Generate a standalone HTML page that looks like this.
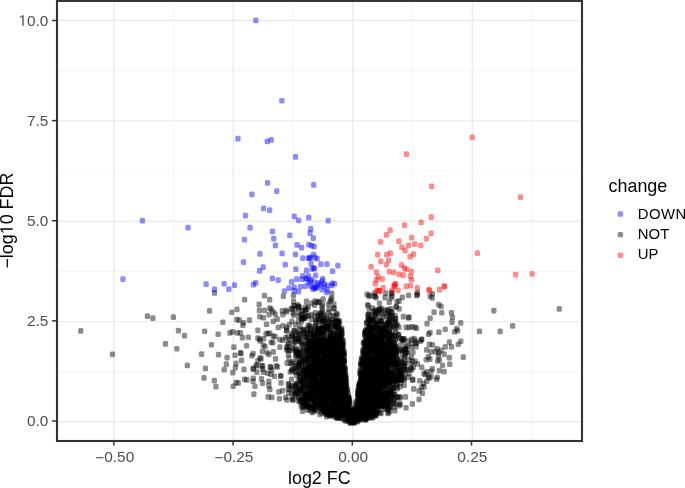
<!DOCTYPE html>
<html><head><meta charset="utf-8"><style>
html,body{margin:0;padding:0;background:#fff;overflow:hidden}
svg{display:block;font-family:"Liberation Sans",sans-serif}

</style></head><body>
<svg width="685" height="488" viewBox="0 0 685 488" font-family="Liberation Sans, sans-serif">
<rect width="685" height="488" fill="#fff"/>
<line x1="173.60" y1="0.9" x2="173.60" y2="441.0" stroke="#ebebeb" stroke-width="0.55"/>
<line x1="293.10" y1="0.9" x2="293.10" y2="441.0" stroke="#ebebeb" stroke-width="0.55"/>
<line x1="412.60" y1="0.9" x2="412.60" y2="441.0" stroke="#ebebeb" stroke-width="0.55"/>
<line x1="532.10" y1="0.9" x2="532.10" y2="441.0" stroke="#ebebeb" stroke-width="0.55"/>
<line x1="57.0" y1="371.85" x2="582.0" y2="371.85" stroke="#ebebeb" stroke-width="0.55"/>
<line x1="57.0" y1="271.45" x2="582.0" y2="271.45" stroke="#ebebeb" stroke-width="0.55"/>
<line x1="57.0" y1="171.05" x2="582.0" y2="171.05" stroke="#ebebeb" stroke-width="0.55"/>
<line x1="57.0" y1="70.65" x2="582.0" y2="70.65" stroke="#ebebeb" stroke-width="0.55"/>
<line x1="113.85" y1="0.9" x2="113.85" y2="441.0" stroke="#ebebeb" stroke-width="1.4"/>
<line x1="233.35" y1="0.9" x2="233.35" y2="441.0" stroke="#ebebeb" stroke-width="1.4"/>
<line x1="352.85" y1="0.9" x2="352.85" y2="441.0" stroke="#ebebeb" stroke-width="1.4"/>
<line x1="472.35" y1="0.9" x2="472.35" y2="441.0" stroke="#ebebeb" stroke-width="1.4"/>
<line x1="57.0" y1="422.05" x2="582.0" y2="422.05" stroke="#ebebeb" stroke-width="1.4"/>
<line x1="57.0" y1="321.65" x2="582.0" y2="321.65" stroke="#ebebeb" stroke-width="1.4"/>
<line x1="57.0" y1="221.25" x2="582.0" y2="221.25" stroke="#ebebeb" stroke-width="1.4"/>
<line x1="57.0" y1="120.85" x2="582.0" y2="120.85" stroke="#ebebeb" stroke-width="1.4"/>
<line x1="57.0" y1="20.45" x2="582.0" y2="20.45" stroke="#ebebeb" stroke-width="1.4"/>
<g>
<g fill="#000" fill-opacity="0.45"><rect x="78.1" y="328.1" width="5.3" height="5.7" rx="1.5"/><rect x="109.8" y="351.5" width="5.3" height="5.7" rx="1.5"/><rect x="144.8" y="313.3" width="5.3" height="5.7" rx="1.5"/><rect x="150.2" y="315.3" width="5.3" height="5.7" rx="1.5"/><rect x="170.7" y="314.2" width="5.3" height="5.7" rx="1.5"/><rect x="206.9" y="308.1" width="5.3" height="5.7" rx="1.5"/><rect x="211.8" y="290.1" width="5.3" height="5.7" rx="1.5"/><rect x="220.2" y="319.4" width="5.3" height="5.7" rx="1.5"/><rect x="175.8" y="327.8" width="5.3" height="5.7" rx="1.5"/><rect x="181.8" y="332.8" width="5.3" height="5.7" rx="1.5"/><rect x="202.0" y="328.4" width="5.3" height="5.7" rx="1.5"/><rect x="215.5" y="331.4" width="5.3" height="5.7" rx="1.5"/><rect x="162.8" y="341.0" width="5.3" height="5.7" rx="1.5"/><rect x="174.2" y="345.9" width="5.3" height="5.7" rx="1.5"/><rect x="208.8" y="341.9" width="5.3" height="5.7" rx="1.5"/><rect x="198.9" y="351.3" width="5.3" height="5.7" rx="1.5"/><rect x="215.9" y="351.8" width="5.3" height="5.7" rx="1.5"/><rect x="227.2" y="330.1" width="5.3" height="5.7" rx="1.5"/><rect x="231.2" y="344.3" width="5.3" height="5.7" rx="1.5"/><rect x="224.4" y="354.8" width="5.3" height="5.7" rx="1.5"/><rect x="232.4" y="352.4" width="5.3" height="5.7" rx="1.5"/><rect x="237.8" y="350.0" width="5.3" height="5.7" rx="1.5"/><rect x="238.3" y="350.6" width="5.3" height="5.7" rx="1.5"/><rect x="184.7" y="362.5" width="5.3" height="5.7" rx="1.5"/><rect x="202.8" y="365.5" width="5.3" height="5.7" rx="1.5"/><rect x="223.7" y="361.2" width="5.3" height="5.7" rx="1.5"/><rect x="233.4" y="360.5" width="5.3" height="5.7" rx="1.5"/><rect x="238.9" y="357.5" width="5.3" height="5.7" rx="1.5"/><rect x="221.5" y="366.8" width="5.3" height="5.7" rx="1.5"/><rect x="232.8" y="364.8" width="5.3" height="5.7" rx="1.5"/><rect x="241.3" y="366.5" width="5.3" height="5.7" rx="1.5"/><rect x="230.2" y="369.8" width="5.3" height="5.7" rx="1.5"/><rect x="201.4" y="375.1" width="5.3" height="5.7" rx="1.5"/><rect x="211.7" y="377.8" width="5.3" height="5.7" rx="1.5"/><rect x="213.3" y="383.8" width="5.3" height="5.7" rx="1.5"/><rect x="230.5" y="383.4" width="5.3" height="5.7" rx="1.5"/><rect x="233.4" y="379.8" width="5.3" height="5.7" rx="1.5"/><rect x="235.7" y="380.1" width="5.3" height="5.7" rx="1.5"/><rect x="242.0" y="376.5" width="5.3" height="5.7" rx="1.5"/><rect x="244.2" y="377.1" width="5.3" height="5.7" rx="1.5"/><rect x="250.4" y="378.4" width="5.3" height="5.7" rx="1.5"/><rect x="252.3" y="383.4" width="5.3" height="5.7" rx="1.5"/><rect x="251.2" y="391.2" width="5.3" height="5.7" rx="1.5"/><rect x="259.9" y="380.2" width="5.3" height="5.7" rx="1.5"/><rect x="266.2" y="378.4" width="5.3" height="5.7" rx="1.5"/><rect x="266.2" y="382.8" width="5.3" height="5.7" rx="1.5"/><rect x="267.2" y="386.5" width="5.3" height="5.7" rx="1.5"/><rect x="265.5" y="394.0" width="5.3" height="5.7" rx="1.5"/><rect x="269.2" y="394.6" width="5.3" height="5.7" rx="1.5"/><rect x="276.8" y="395.9" width="5.3" height="5.7" rx="1.5"/><rect x="276.2" y="389.0" width="5.3" height="5.7" rx="1.5"/><rect x="279.9" y="387.8" width="5.3" height="5.7" rx="1.5"/><rect x="283.0" y="394.6" width="5.3" height="5.7" rx="1.5"/><rect x="289.9" y="397.1" width="5.3" height="5.7" rx="1.5"/><rect x="295.5" y="397.8" width="5.3" height="5.7" rx="1.5"/><rect x="242.0" y="296.8" width="5.3" height="5.7" rx="1.5"/><rect x="261.8" y="292.8" width="5.3" height="5.7" rx="1.5"/><rect x="267.0" y="296.8" width="5.3" height="5.7" rx="1.5"/><rect x="256.5" y="301.5" width="5.3" height="5.7" rx="1.5"/><rect x="267.2" y="305.2" width="5.3" height="5.7" rx="1.5"/><rect x="234.3" y="306.5" width="5.3" height="5.7" rx="1.5"/><rect x="280.7" y="293.4" width="5.3" height="5.7" rx="1.5"/><rect x="229.0" y="309.4" width="5.3" height="5.7" rx="1.5"/><rect x="256.7" y="307.6" width="5.3" height="5.7" rx="1.5"/><rect x="261.8" y="307.6" width="5.3" height="5.7" rx="1.5"/><rect x="268.5" y="306.6" width="5.3" height="5.7" rx="1.5"/><rect x="266.4" y="311.8" width="5.3" height="5.7" rx="1.5"/><rect x="270.5" y="309.1" width="5.3" height="5.7" rx="1.5"/><rect x="272.6" y="311.2" width="5.3" height="5.7" rx="1.5"/><rect x="257.2" y="313.9" width="5.3" height="5.7" rx="1.5"/><rect x="260.8" y="314.9" width="5.3" height="5.7" rx="1.5"/><rect x="234.2" y="316.8" width="5.3" height="5.7" rx="1.5"/><rect x="236.7" y="317.3" width="5.3" height="5.7" rx="1.5"/><rect x="246.8" y="317.3" width="5.3" height="5.7" rx="1.5"/><rect x="240.8" y="319.9" width="5.3" height="5.7" rx="1.5"/><rect x="240.2" y="322.4" width="5.3" height="5.7" rx="1.5"/><rect x="263.9" y="321.4" width="5.3" height="5.7" rx="1.5"/><rect x="270.5" y="318.6" width="5.3" height="5.7" rx="1.5"/><rect x="274.6" y="316.3" width="5.3" height="5.7" rx="1.5"/><rect x="275.6" y="324.5" width="5.3" height="5.7" rx="1.5"/><rect x="280.2" y="322.9" width="5.3" height="5.7" rx="1.5"/><rect x="279.7" y="308.1" width="5.3" height="5.7" rx="1.5"/><rect x="280.2" y="311.8" width="5.3" height="5.7" rx="1.5"/><rect x="255.2" y="327.5" width="5.3" height="5.7" rx="1.5"/><rect x="230.0" y="329.1" width="5.3" height="5.7" rx="1.5"/><rect x="234.7" y="330.1" width="5.3" height="5.7" rx="1.5"/><rect x="237.8" y="330.1" width="5.3" height="5.7" rx="1.5"/><rect x="239.8" y="334.8" width="5.3" height="5.7" rx="1.5"/><rect x="245.7" y="334.4" width="5.3" height="5.7" rx="1.5"/><rect x="255.2" y="335.2" width="5.3" height="5.7" rx="1.5"/><rect x="257.2" y="336.2" width="5.3" height="5.7" rx="1.5"/><rect x="265.4" y="330.6" width="5.3" height="5.7" rx="1.5"/><rect x="263.4" y="331.1" width="5.3" height="5.7" rx="1.5"/><rect x="270.5" y="333.2" width="5.3" height="5.7" rx="1.5"/><rect x="491.2" y="307.8" width="5.3" height="5.7" rx="1.5"/><rect x="556.6" y="306.1" width="5.3" height="5.7" rx="1.5"/><rect x="476.8" y="328.5" width="5.3" height="5.7" rx="1.5"/><rect x="497.5" y="328.5" width="5.3" height="5.7" rx="1.5"/><rect x="510.0" y="323.1" width="5.3" height="5.7" rx="1.5"/><rect x="438.4" y="303.6" width="5.3" height="5.7" rx="1.5"/><rect x="439.1" y="309.9" width="5.3" height="5.7" rx="1.5"/><rect x="448.8" y="309.9" width="5.3" height="5.7" rx="1.5"/><rect x="449.8" y="314.4" width="5.3" height="5.7" rx="1.5"/><rect x="449.4" y="319.2" width="5.3" height="5.7" rx="1.5"/><rect x="458.1" y="320.0" width="5.3" height="5.7" rx="1.5"/><rect x="442.6" y="326.4" width="5.3" height="5.7" rx="1.5"/><rect x="454.0" y="325.8" width="5.3" height="5.7" rx="1.5"/><rect x="451.9" y="328.9" width="5.3" height="5.7" rx="1.5"/><rect x="455.0" y="327.9" width="5.3" height="5.7" rx="1.5"/><rect x="446.7" y="339.3" width="5.3" height="5.7" rx="1.5"/><rect x="458.1" y="338.5" width="5.3" height="5.7" rx="1.5"/><rect x="455.6" y="341.4" width="5.3" height="5.7" rx="1.5"/><rect x="442.6" y="344.1" width="5.3" height="5.7" rx="1.5"/><rect x="448.8" y="344.1" width="5.3" height="5.7" rx="1.5"/><rect x="438.4" y="347.6" width="5.3" height="5.7" rx="1.5"/><rect x="441.5" y="351.3" width="5.3" height="5.7" rx="1.5"/><rect x="446.7" y="354.8" width="5.3" height="5.7" rx="1.5"/><rect x="460.6" y="354.2" width="5.3" height="5.7" rx="1.5"/><rect x="428.4" y="349.1" width="5.3" height="5.7" rx="1.5"/><rect x="432.6" y="348.5" width="5.3" height="5.7" rx="1.5"/><rect x="435.7" y="352.6" width="5.3" height="5.7" rx="1.5"/><rect x="436.7" y="356.8" width="5.3" height="5.7" rx="1.5"/><rect x="439.8" y="362.4" width="5.3" height="5.7" rx="1.5"/><rect x="447.1" y="361.3" width="5.3" height="5.7" rx="1.5"/><rect x="436.7" y="367.8" width="5.3" height="5.7" rx="1.5"/><rect x="441.5" y="368.8" width="5.3" height="5.7" rx="1.5"/><rect x="428.4" y="374.0" width="5.3" height="5.7" rx="1.5"/><rect x="434.6" y="374.4" width="5.3" height="5.7" rx="1.5"/><rect x="434.0" y="376.4" width="5.3" height="5.7" rx="1.5"/><rect x="364.4" y="291.5" width="5.3" height="5.7" rx="1.5"/><rect x="371.4" y="293.2" width="5.3" height="5.7" rx="1.5"/><rect x="383.1" y="290.3" width="5.3" height="5.7" rx="1.5"/><rect x="405.9" y="292.6" width="5.3" height="5.7" rx="1.5"/><rect x="414.6" y="289.8" width="5.3" height="5.7" rx="1.5"/><rect x="414.0" y="292.6" width="5.3" height="5.7" rx="1.5"/><rect x="427.5" y="293.2" width="5.3" height="5.7" rx="1.5"/><rect x="429.8" y="290.9" width="5.3" height="5.7" rx="1.5"/><rect x="366.9" y="292.4" width="5.3" height="5.7" rx="1.5"/><rect x="250.7" y="366.2" width="5.3" height="5.7" rx="1.5"/><rect x="253.7" y="363.1" width="5.3" height="5.7" rx="1.5"/><rect x="259.9" y="363.1" width="5.3" height="5.7" rx="1.5"/><rect x="254.2" y="369.3" width="5.3" height="5.7" rx="1.5"/><rect x="259.9" y="366.2" width="5.3" height="5.7" rx="1.5"/><rect x="261.0" y="369.3" width="5.3" height="5.7" rx="1.5"/><rect x="268.1" y="364.1" width="5.3" height="5.7" rx="1.5"/><rect x="269.2" y="367.2" width="5.3" height="5.7" rx="1.5"/><rect x="274.8" y="364.1" width="5.3" height="5.7" rx="1.5"/><rect x="265.1" y="370.3" width="5.3" height="5.7" rx="1.5"/><rect x="268.1" y="371.3" width="5.3" height="5.7" rx="1.5"/><rect x="271.7" y="373.4" width="5.3" height="5.7" rx="1.5"/><rect x="277.9" y="372.9" width="5.3" height="5.7" rx="1.5"/><rect x="278.2" y="373.3" width="5.3" height="5.7" rx="1.5"/><rect x="250.7" y="375.4" width="5.3" height="5.7" rx="1.5"/><rect x="258.9" y="375.9" width="5.3" height="5.7" rx="1.5"/><rect x="288.6" y="383.1" width="5.3" height="5.7" rx="1.5"/><rect x="289.0" y="383.5" width="5.3" height="5.7" rx="1.5"/><rect x="278.4" y="380.0" width="5.3" height="5.7" rx="1.5"/><rect x="286.1" y="390.3" width="5.3" height="5.7" rx="1.5"/><rect x="299.9" y="408.2" width="5.3" height="5.7" rx="1.5"/><rect x="305.0" y="407.2" width="5.3" height="5.7" rx="1.5"/><rect x="267.2" y="330.6" width="5.3" height="5.7" rx="1.5"/><rect x="272.4" y="333.8" width="5.3" height="5.7" rx="1.5"/><rect x="257.5" y="338.0" width="5.3" height="5.7" rx="1.5"/><rect x="261.0" y="335.9" width="5.3" height="5.7" rx="1.5"/><rect x="268.5" y="339.4" width="5.3" height="5.7" rx="1.5"/><rect x="270.2" y="339.8" width="5.3" height="5.7" rx="1.5"/><rect x="277.2" y="336.8" width="5.3" height="5.7" rx="1.5"/><rect x="279.9" y="337.2" width="5.3" height="5.7" rx="1.5"/><rect x="282.9" y="335.0" width="5.3" height="5.7" rx="1.5"/><rect x="285.1" y="334.1" width="5.3" height="5.7" rx="1.5"/><rect x="289.1" y="330.6" width="5.3" height="5.7" rx="1.5"/><rect x="283.8" y="328.0" width="5.3" height="5.7" rx="1.5"/><rect x="243.9" y="342.9" width="5.3" height="5.7" rx="1.5"/><rect x="260.6" y="342.4" width="5.3" height="5.7" rx="1.5"/><rect x="262.4" y="343.8" width="5.3" height="5.7" rx="1.5"/><rect x="277.2" y="344.2" width="5.3" height="5.7" rx="1.5"/><rect x="283.8" y="344.6" width="5.3" height="5.7" rx="1.5"/><rect x="290.4" y="341.1" width="5.3" height="5.7" rx="1.5"/><rect x="292.1" y="338.5" width="5.3" height="5.7" rx="1.5"/><rect x="250.4" y="350.8" width="5.3" height="5.7" rx="1.5"/><rect x="249.2" y="352.9" width="5.3" height="5.7" rx="1.5"/><rect x="259.7" y="348.6" width="5.3" height="5.7" rx="1.5"/><rect x="264.5" y="349.9" width="5.3" height="5.7" rx="1.5"/><rect x="266.2" y="351.6" width="5.3" height="5.7" rx="1.5"/><rect x="270.7" y="349.0" width="5.3" height="5.7" rx="1.5"/><rect x="257.5" y="355.1" width="5.3" height="5.7" rx="1.5"/><rect x="255.3" y="357.8" width="5.3" height="5.7" rx="1.5"/><rect x="258.4" y="356.0" width="5.3" height="5.7" rx="1.5"/><rect x="272.9" y="356.0" width="5.3" height="5.7" rx="1.5"/><rect x="254.0" y="362.1" width="5.3" height="5.7" rx="1.5"/><rect x="259.2" y="363.0" width="5.3" height="5.7" rx="1.5"/><rect x="250.4" y="365.6" width="5.3" height="5.7" rx="1.5"/><rect x="267.6" y="364.3" width="5.3" height="5.7" rx="1.5"/><rect x="273.7" y="363.0" width="5.3" height="5.7" rx="1.5"/><rect x="417.0" y="377.9" width="5.3" height="5.7" rx="1.5"/><rect x="421.4" y="384.1" width="5.3" height="5.7" rx="1.5"/><rect x="416.4" y="388.1" width="5.3" height="5.7" rx="1.5"/><rect x="419.8" y="390.3" width="5.3" height="5.7" rx="1.5"/><rect x="416.4" y="396.5" width="5.3" height="5.7" rx="1.5"/><rect x="409.7" y="401.0" width="5.3" height="5.7" rx="1.5"/><rect x="403.4" y="404.9" width="5.3" height="5.7" rx="1.5"/><rect x="397.8" y="401.6" width="5.3" height="5.7" rx="1.5"/><rect x="392.2" y="407.8" width="5.3" height="5.7" rx="1.5"/><rect x="385.4" y="410.6" width="5.3" height="5.7" rx="1.5"/><rect x="423.8" y="368.9" width="5.3" height="5.7" rx="1.5"/><rect x="426.0" y="373.4" width="5.3" height="5.7" rx="1.5"/><rect x="290.4" y="396.8" width="5.3" height="5.7" rx="1.5"/><rect x="292.6" y="392.1" width="5.3" height="5.7" rx="1.5"/><rect x="294.7" y="387.3" width="5.3" height="5.7" rx="1.5"/><rect x="291.5" y="389.5" width="5.3" height="5.7" rx="1.5"/><rect x="295.6" y="393.5" width="5.3" height="5.7" rx="1.5"/><rect x="293.4" y="382.4" width="5.3" height="5.7" rx="1.5"/><rect x="286.9" y="386.1" width="5.3" height="5.7" rx="1.5"/><rect x="298.3" y="378.1" width="5.3" height="5.7" rx="1.5"/><rect x="385.3" y="371.0" width="5.3" height="5.7" rx="1.5"/><rect x="382.0" y="354.7" width="5.3" height="5.7" rx="1.5"/><rect x="323.7" y="378.1" width="5.3" height="5.7" rx="1.5"/><rect x="321.0" y="351.7" width="5.3" height="5.7" rx="1.5"/><rect x="332.4" y="337.8" width="5.3" height="5.7" rx="1.5"/><rect x="387.9" y="323.8" width="5.3" height="5.7" rx="1.5"/><rect x="388.9" y="340.1" width="5.3" height="5.7" rx="1.5"/><rect x="347.9" y="418.3" width="5.3" height="5.7" rx="1.5"/><rect x="337.1" y="391.1" width="5.3" height="5.7" rx="1.5"/><rect x="363.0" y="392.8" width="5.3" height="5.7" rx="1.5"/><rect x="339.0" y="351.8" width="5.3" height="5.7" rx="1.5"/><rect x="313.9" y="353.1" width="5.3" height="5.7" rx="1.5"/><rect x="338.0" y="362.4" width="5.3" height="5.7" rx="1.5"/><rect x="300.8" y="381.3" width="5.3" height="5.7" rx="1.5"/><rect x="326.4" y="373.3" width="5.3" height="5.7" rx="1.5"/><rect x="343.2" y="376.0" width="5.3" height="5.7" rx="1.5"/><rect x="384.7" y="363.3" width="5.3" height="5.7" rx="1.5"/><rect x="328.2" y="296.6" width="5.3" height="5.7" rx="1.5"/><rect x="330.3" y="404.3" width="5.3" height="5.7" rx="1.5"/><rect x="362.8" y="381.0" width="5.3" height="5.7" rx="1.5"/><rect x="368.6" y="365.1" width="5.3" height="5.7" rx="1.5"/><rect x="315.7" y="399.3" width="5.3" height="5.7" rx="1.5"/><rect x="381.8" y="328.2" width="5.3" height="5.7" rx="1.5"/><rect x="364.9" y="331.8" width="5.3" height="5.7" rx="1.5"/><rect x="371.2" y="372.4" width="5.3" height="5.7" rx="1.5"/><rect x="368.0" y="364.3" width="5.3" height="5.7" rx="1.5"/><rect x="365.0" y="399.6" width="5.3" height="5.7" rx="1.5"/><rect x="371.1" y="397.0" width="5.3" height="5.7" rx="1.5"/><rect x="379.2" y="353.5" width="5.3" height="5.7" rx="1.5"/><rect x="323.5" y="380.9" width="5.3" height="5.7" rx="1.5"/><rect x="362.2" y="416.1" width="5.3" height="5.7" rx="1.5"/><rect x="366.4" y="401.8" width="5.3" height="5.7" rx="1.5"/><rect x="329.2" y="334.6" width="5.3" height="5.7" rx="1.5"/><rect x="359.0" y="413.7" width="5.3" height="5.7" rx="1.5"/><rect x="393.6" y="351.9" width="5.3" height="5.7" rx="1.5"/><rect x="302.1" y="391.4" width="5.3" height="5.7" rx="1.5"/><rect x="393.9" y="355.6" width="5.3" height="5.7" rx="1.5"/><rect x="322.2" y="338.8" width="5.3" height="5.7" rx="1.5"/><rect x="369.1" y="357.7" width="5.3" height="5.7" rx="1.5"/><rect x="316.1" y="345.4" width="5.3" height="5.7" rx="1.5"/><rect x="296.1" y="365.1" width="5.3" height="5.7" rx="1.5"/><rect x="370.4" y="385.3" width="5.3" height="5.7" rx="1.5"/><rect x="356.7" y="380.3" width="5.3" height="5.7" rx="1.5"/><rect x="361.8" y="392.7" width="5.3" height="5.7" rx="1.5"/><rect x="331.8" y="390.3" width="5.3" height="5.7" rx="1.5"/><rect x="329.9" y="345.3" width="5.3" height="5.7" rx="1.5"/><rect x="380.2" y="402.9" width="5.3" height="5.7" rx="1.5"/><rect x="336.1" y="351.8" width="5.3" height="5.7" rx="1.5"/><rect x="366.1" y="340.6" width="5.3" height="5.7" rx="1.5"/><rect x="383.8" y="382.5" width="5.3" height="5.7" rx="1.5"/><rect x="366.7" y="369.1" width="5.3" height="5.7" rx="1.5"/><rect x="317.1" y="339.1" width="5.3" height="5.7" rx="1.5"/><rect x="304.5" y="386.9" width="5.3" height="5.7" rx="1.5"/><rect x="384.6" y="358.8" width="5.3" height="5.7" rx="1.5"/><rect x="329.7" y="345.7" width="5.3" height="5.7" rx="1.5"/><rect x="392.6" y="358.1" width="5.3" height="5.7" rx="1.5"/><rect x="339.6" y="337.9" width="5.3" height="5.7" rx="1.5"/><rect x="311.2" y="379.2" width="5.3" height="5.7" rx="1.5"/><rect x="298.2" y="396.9" width="5.3" height="5.7" rx="1.5"/><rect x="332.3" y="346.9" width="5.3" height="5.7" rx="1.5"/><rect x="387.3" y="308.8" width="5.3" height="5.7" rx="1.5"/><rect x="350.0" y="411.7" width="5.3" height="5.7" rx="1.5"/><rect x="387.3" y="344.9" width="5.3" height="5.7" rx="1.5"/><rect x="356.3" y="382.2" width="5.3" height="5.7" rx="1.5"/><rect x="307.0" y="363.0" width="5.3" height="5.7" rx="1.5"/><rect x="369.9" y="401.0" width="5.3" height="5.7" rx="1.5"/><rect x="333.4" y="343.5" width="5.3" height="5.7" rx="1.5"/><rect x="382.3" y="364.5" width="5.3" height="5.7" rx="1.5"/><rect x="365.7" y="397.4" width="5.3" height="5.7" rx="1.5"/><rect x="304.6" y="377.7" width="5.3" height="5.7" rx="1.5"/><rect x="370.8" y="345.4" width="5.3" height="5.7" rx="1.5"/><rect x="396.6" y="369.2" width="5.3" height="5.7" rx="1.5"/><rect x="366.3" y="362.1" width="5.3" height="5.7" rx="1.5"/><rect x="372.2" y="368.0" width="5.3" height="5.7" rx="1.5"/><rect x="332.3" y="414.1" width="5.3" height="5.7" rx="1.5"/><rect x="365.8" y="365.0" width="5.3" height="5.7" rx="1.5"/><rect x="397.6" y="395.0" width="5.3" height="5.7" rx="1.5"/><rect x="367.4" y="357.0" width="5.3" height="5.7" rx="1.5"/><rect x="317.7" y="337.9" width="5.3" height="5.7" rx="1.5"/><rect x="391.2" y="361.0" width="5.3" height="5.7" rx="1.5"/><rect x="369.0" y="366.9" width="5.3" height="5.7" rx="1.5"/><rect x="384.9" y="401.6" width="5.3" height="5.7" rx="1.5"/><rect x="323.2" y="380.6" width="5.3" height="5.7" rx="1.5"/><rect x="406.2" y="314.3" width="5.3" height="5.7" rx="1.5"/><rect x="360.0" y="406.3" width="5.3" height="5.7" rx="1.5"/><rect x="363.1" y="402.6" width="5.3" height="5.7" rx="1.5"/><rect x="391.8" y="352.9" width="5.3" height="5.7" rx="1.5"/><rect x="400.2" y="363.1" width="5.3" height="5.7" rx="1.5"/><rect x="388.0" y="338.7" width="5.3" height="5.7" rx="1.5"/><rect x="352.3" y="408.2" width="5.3" height="5.7" rx="1.5"/><rect x="329.9" y="398.6" width="5.3" height="5.7" rx="1.5"/><rect x="387.6" y="349.9" width="5.3" height="5.7" rx="1.5"/><rect x="340.8" y="395.7" width="5.3" height="5.7" rx="1.5"/><rect x="320.0" y="378.7" width="5.3" height="5.7" rx="1.5"/><rect x="307.1" y="372.2" width="5.3" height="5.7" rx="1.5"/><rect x="378.1" y="352.1" width="5.3" height="5.7" rx="1.5"/><rect x="343.1" y="378.1" width="5.3" height="5.7" rx="1.5"/><rect x="385.5" y="318.8" width="5.3" height="5.7" rx="1.5"/><rect x="387.7" y="312.7" width="5.3" height="5.7" rx="1.5"/><rect x="362.0" y="329.5" width="5.3" height="5.7" rx="1.5"/><rect x="363.7" y="413.3" width="5.3" height="5.7" rx="1.5"/><rect x="363.8" y="358.7" width="5.3" height="5.7" rx="1.5"/><rect x="326.4" y="399.1" width="5.3" height="5.7" rx="1.5"/><rect x="427.5" y="315.4" width="5.3" height="5.7" rx="1.5"/><rect x="360.7" y="392.3" width="5.3" height="5.7" rx="1.5"/><rect x="363.1" y="408.8" width="5.3" height="5.7" rx="1.5"/><rect x="378.1" y="364.6" width="5.3" height="5.7" rx="1.5"/><rect x="311.4" y="387.2" width="5.3" height="5.7" rx="1.5"/><rect x="399.2" y="366.2" width="5.3" height="5.7" rx="1.5"/><rect x="356.3" y="391.8" width="5.3" height="5.7" rx="1.5"/><rect x="345.3" y="413.3" width="5.3" height="5.7" rx="1.5"/><rect x="286.3" y="355.5" width="5.3" height="5.7" rx="1.5"/><rect x="292.3" y="391.0" width="5.3" height="5.7" rx="1.5"/><rect x="369.5" y="360.8" width="5.3" height="5.7" rx="1.5"/><rect x="375.5" y="383.6" width="5.3" height="5.7" rx="1.5"/><rect x="357.2" y="406.9" width="5.3" height="5.7" rx="1.5"/><rect x="324.6" y="383.0" width="5.3" height="5.7" rx="1.5"/><rect x="361.3" y="409.2" width="5.3" height="5.7" rx="1.5"/><rect x="306.8" y="393.6" width="5.3" height="5.7" rx="1.5"/><rect x="394.4" y="361.4" width="5.3" height="5.7" rx="1.5"/><rect x="377.7" y="386.0" width="5.3" height="5.7" rx="1.5"/><rect x="368.0" y="368.9" width="5.3" height="5.7" rx="1.5"/><rect x="288.8" y="376.6" width="5.3" height="5.7" rx="1.5"/><rect x="382.5" y="355.3" width="5.3" height="5.7" rx="1.5"/><rect x="385.3" y="335.0" width="5.3" height="5.7" rx="1.5"/><rect x="367.0" y="323.2" width="5.3" height="5.7" rx="1.5"/><rect x="369.2" y="385.7" width="5.3" height="5.7" rx="1.5"/><rect x="378.7" y="354.9" width="5.3" height="5.7" rx="1.5"/><rect x="370.2" y="414.7" width="5.3" height="5.7" rx="1.5"/><rect x="378.3" y="309.4" width="5.3" height="5.7" rx="1.5"/><rect x="413.4" y="343.7" width="5.3" height="5.7" rx="1.5"/><rect x="344.6" y="404.9" width="5.3" height="5.7" rx="1.5"/><rect x="371.1" y="355.8" width="5.3" height="5.7" rx="1.5"/><rect x="314.5" y="351.4" width="5.3" height="5.7" rx="1.5"/><rect x="323.6" y="367.0" width="5.3" height="5.7" rx="1.5"/><rect x="332.8" y="336.6" width="5.3" height="5.7" rx="1.5"/><rect x="382.7" y="375.1" width="5.3" height="5.7" rx="1.5"/><rect x="390.0" y="356.8" width="5.3" height="5.7" rx="1.5"/><rect x="361.3" y="414.2" width="5.3" height="5.7" rx="1.5"/><rect x="382.3" y="294.7" width="5.3" height="5.7" rx="1.5"/><rect x="331.9" y="407.0" width="5.3" height="5.7" rx="1.5"/><rect x="389.2" y="362.2" width="5.3" height="5.7" rx="1.5"/><rect x="392.7" y="375.9" width="5.3" height="5.7" rx="1.5"/><rect x="376.2" y="334.2" width="5.3" height="5.7" rx="1.5"/><rect x="320.1" y="325.3" width="5.3" height="5.7" rx="1.5"/><rect x="362.0" y="407.2" width="5.3" height="5.7" rx="1.5"/><rect x="360.0" y="361.6" width="5.3" height="5.7" rx="1.5"/><rect x="324.6" y="402.9" width="5.3" height="5.7" rx="1.5"/><rect x="376.4" y="400.8" width="5.3" height="5.7" rx="1.5"/><rect x="343.9" y="382.5" width="5.3" height="5.7" rx="1.5"/><rect x="378.5" y="346.6" width="5.3" height="5.7" rx="1.5"/><rect x="358.5" y="376.1" width="5.3" height="5.7" rx="1.5"/><rect x="334.2" y="394.5" width="5.3" height="5.7" rx="1.5"/><rect x="293.4" y="381.0" width="5.3" height="5.7" rx="1.5"/><rect x="312.4" y="340.2" width="5.3" height="5.7" rx="1.5"/><rect x="358.4" y="407.6" width="5.3" height="5.7" rx="1.5"/><rect x="377.6" y="384.2" width="5.3" height="5.7" rx="1.5"/><rect x="323.5" y="411.2" width="5.3" height="5.7" rx="1.5"/><rect x="385.5" y="409.6" width="5.3" height="5.7" rx="1.5"/><rect x="307.6" y="346.4" width="5.3" height="5.7" rx="1.5"/><rect x="364.8" y="404.3" width="5.3" height="5.7" rx="1.5"/><rect x="333.8" y="375.0" width="5.3" height="5.7" rx="1.5"/><rect x="377.6" y="318.2" width="5.3" height="5.7" rx="1.5"/><rect x="333.5" y="395.6" width="5.3" height="5.7" rx="1.5"/><rect x="387.1" y="318.2" width="5.3" height="5.7" rx="1.5"/><rect x="386.6" y="330.6" width="5.3" height="5.7" rx="1.5"/><rect x="324.8" y="369.6" width="5.3" height="5.7" rx="1.5"/><rect x="341.8" y="412.1" width="5.3" height="5.7" rx="1.5"/><rect x="367.5" y="344.8" width="5.3" height="5.7" rx="1.5"/><rect x="326.5" y="380.1" width="5.3" height="5.7" rx="1.5"/><rect x="368.6" y="353.0" width="5.3" height="5.7" rx="1.5"/><rect x="340.4" y="394.2" width="5.3" height="5.7" rx="1.5"/><rect x="390.3" y="350.6" width="5.3" height="5.7" rx="1.5"/><rect x="382.1" y="364.1" width="5.3" height="5.7" rx="1.5"/><rect x="381.5" y="373.4" width="5.3" height="5.7" rx="1.5"/><rect x="369.9" y="406.0" width="5.3" height="5.7" rx="1.5"/><rect x="389.5" y="351.8" width="5.3" height="5.7" rx="1.5"/><rect x="350.2" y="412.4" width="5.3" height="5.7" rx="1.5"/><rect x="360.0" y="400.6" width="5.3" height="5.7" rx="1.5"/><rect x="379.2" y="335.7" width="5.3" height="5.7" rx="1.5"/><rect x="335.4" y="413.9" width="5.3" height="5.7" rx="1.5"/><rect x="328.9" y="319.6" width="5.3" height="5.7" rx="1.5"/><rect x="304.8" y="372.9" width="5.3" height="5.7" rx="1.5"/><rect x="322.0" y="379.5" width="5.3" height="5.7" rx="1.5"/><rect x="313.5" y="395.6" width="5.3" height="5.7" rx="1.5"/><rect x="360.1" y="378.1" width="5.3" height="5.7" rx="1.5"/><rect x="376.1" y="332.5" width="5.3" height="5.7" rx="1.5"/><rect x="336.5" y="411.7" width="5.3" height="5.7" rx="1.5"/><rect x="367.2" y="379.7" width="5.3" height="5.7" rx="1.5"/><rect x="391.2" y="360.3" width="5.3" height="5.7" rx="1.5"/><rect x="371.0" y="409.0" width="5.3" height="5.7" rx="1.5"/><rect x="392.4" y="316.2" width="5.3" height="5.7" rx="1.5"/><rect x="373.0" y="384.8" width="5.3" height="5.7" rx="1.5"/><rect x="361.9" y="372.5" width="5.3" height="5.7" rx="1.5"/><rect x="365.5" y="313.3" width="5.3" height="5.7" rx="1.5"/><rect x="350.7" y="419.4" width="5.3" height="5.7" rx="1.5"/><rect x="397.0" y="358.8" width="5.3" height="5.7" rx="1.5"/><rect x="295.9" y="313.5" width="5.3" height="5.7" rx="1.5"/><rect x="355.7" y="412.2" width="5.3" height="5.7" rx="1.5"/><rect x="370.4" y="404.0" width="5.3" height="5.7" rx="1.5"/><rect x="376.4" y="326.4" width="5.3" height="5.7" rx="1.5"/><rect x="340.1" y="372.9" width="5.3" height="5.7" rx="1.5"/><rect x="357.2" y="399.8" width="5.3" height="5.7" rx="1.5"/><rect x="370.0" y="408.1" width="5.3" height="5.7" rx="1.5"/><rect x="419.1" y="364.6" width="5.3" height="5.7" rx="1.5"/><rect x="329.6" y="396.5" width="5.3" height="5.7" rx="1.5"/><rect x="364.8" y="405.7" width="5.3" height="5.7" rx="1.5"/><rect x="361.0" y="339.3" width="5.3" height="5.7" rx="1.5"/><rect x="318.1" y="402.2" width="5.3" height="5.7" rx="1.5"/><rect x="400.7" y="313.7" width="5.3" height="5.7" rx="1.5"/><rect x="314.0" y="401.0" width="5.3" height="5.7" rx="1.5"/><rect x="366.9" y="377.4" width="5.3" height="5.7" rx="1.5"/><rect x="307.0" y="402.8" width="5.3" height="5.7" rx="1.5"/><rect x="324.4" y="316.6" width="5.3" height="5.7" rx="1.5"/><rect x="384.9" y="331.7" width="5.3" height="5.7" rx="1.5"/><rect x="392.6" y="326.1" width="5.3" height="5.7" rx="1.5"/><rect x="312.8" y="357.6" width="5.3" height="5.7" rx="1.5"/><rect x="295.3" y="353.9" width="5.3" height="5.7" rx="1.5"/><rect x="312.6" y="309.9" width="5.3" height="5.7" rx="1.5"/><rect x="363.9" y="370.7" width="5.3" height="5.7" rx="1.5"/><rect x="376.5" y="384.2" width="5.3" height="5.7" rx="1.5"/><rect x="380.8" y="370.8" width="5.3" height="5.7" rx="1.5"/><rect x="381.1" y="325.2" width="5.3" height="5.7" rx="1.5"/><rect x="329.3" y="357.4" width="5.3" height="5.7" rx="1.5"/><rect x="312.0" y="341.7" width="5.3" height="5.7" rx="1.5"/><rect x="324.3" y="367.0" width="5.3" height="5.7" rx="1.5"/><rect x="315.9" y="360.0" width="5.3" height="5.7" rx="1.5"/><rect x="314.9" y="403.0" width="5.3" height="5.7" rx="1.5"/><rect x="322.0" y="341.0" width="5.3" height="5.7" rx="1.5"/><rect x="369.7" y="347.6" width="5.3" height="5.7" rx="1.5"/><rect x="340.6" y="394.4" width="5.3" height="5.7" rx="1.5"/><rect x="370.8" y="363.2" width="5.3" height="5.7" rx="1.5"/><rect x="328.9" y="349.5" width="5.3" height="5.7" rx="1.5"/><rect x="362.4" y="403.2" width="5.3" height="5.7" rx="1.5"/><rect x="378.8" y="403.8" width="5.3" height="5.7" rx="1.5"/><rect x="361.4" y="386.1" width="5.3" height="5.7" rx="1.5"/><rect x="323.9" y="372.8" width="5.3" height="5.7" rx="1.5"/><rect x="334.3" y="381.1" width="5.3" height="5.7" rx="1.5"/><rect x="330.8" y="395.0" width="5.3" height="5.7" rx="1.5"/><rect x="329.9" y="404.2" width="5.3" height="5.7" rx="1.5"/><rect x="374.7" y="406.8" width="5.3" height="5.7" rx="1.5"/><rect x="373.1" y="323.3" width="5.3" height="5.7" rx="1.5"/><rect x="318.5" y="311.6" width="5.3" height="5.7" rx="1.5"/><rect x="311.3" y="379.6" width="5.3" height="5.7" rx="1.5"/><rect x="369.6" y="404.8" width="5.3" height="5.7" rx="1.5"/><rect x="362.7" y="338.7" width="5.3" height="5.7" rx="1.5"/><rect x="306.2" y="342.2" width="5.3" height="5.7" rx="1.5"/><rect x="388.6" y="370.1" width="5.3" height="5.7" rx="1.5"/><rect x="425.9" y="331.2" width="5.3" height="5.7" rx="1.5"/><rect x="319.4" y="365.8" width="5.3" height="5.7" rx="1.5"/><rect x="321.5" y="389.1" width="5.3" height="5.7" rx="1.5"/><rect x="384.3" y="380.9" width="5.3" height="5.7" rx="1.5"/><rect x="377.0" y="339.8" width="5.3" height="5.7" rx="1.5"/><rect x="310.3" y="404.8" width="5.3" height="5.7" rx="1.5"/><rect x="368.7" y="313.7" width="5.3" height="5.7" rx="1.5"/><rect x="337.7" y="395.3" width="5.3" height="5.7" rx="1.5"/><rect x="345.1" y="395.8" width="5.3" height="5.7" rx="1.5"/><rect x="324.5" y="368.6" width="5.3" height="5.7" rx="1.5"/><rect x="333.8" y="342.9" width="5.3" height="5.7" rx="1.5"/><rect x="314.0" y="339.9" width="5.3" height="5.7" rx="1.5"/><rect x="384.7" y="392.6" width="5.3" height="5.7" rx="1.5"/><rect x="367.1" y="325.3" width="5.3" height="5.7" rx="1.5"/><rect x="310.8" y="365.0" width="5.3" height="5.7" rx="1.5"/><rect x="387.1" y="408.5" width="5.3" height="5.7" rx="1.5"/><rect x="335.2" y="360.5" width="5.3" height="5.7" rx="1.5"/><rect x="371.7" y="334.2" width="5.3" height="5.7" rx="1.5"/><rect x="382.4" y="327.3" width="5.3" height="5.7" rx="1.5"/><rect x="322.7" y="354.4" width="5.3" height="5.7" rx="1.5"/><rect x="377.8" y="378.7" width="5.3" height="5.7" rx="1.5"/><rect x="380.8" y="372.8" width="5.3" height="5.7" rx="1.5"/><rect x="372.1" y="379.5" width="5.3" height="5.7" rx="1.5"/><rect x="358.1" y="394.9" width="5.3" height="5.7" rx="1.5"/><rect x="379.7" y="363.6" width="5.3" height="5.7" rx="1.5"/><rect x="388.8" y="374.7" width="5.3" height="5.7" rx="1.5"/><rect x="372.2" y="332.9" width="5.3" height="5.7" rx="1.5"/><rect x="293.7" y="387.7" width="5.3" height="5.7" rx="1.5"/><rect x="335.3" y="377.5" width="5.3" height="5.7" rx="1.5"/><rect x="338.0" y="347.9" width="5.3" height="5.7" rx="1.5"/><rect x="321.7" y="355.1" width="5.3" height="5.7" rx="1.5"/><rect x="361.3" y="377.7" width="5.3" height="5.7" rx="1.5"/><rect x="384.0" y="367.6" width="5.3" height="5.7" rx="1.5"/><rect x="353.0" y="418.0" width="5.3" height="5.7" rx="1.5"/><rect x="380.7" y="398.5" width="5.3" height="5.7" rx="1.5"/><rect x="317.5" y="310.0" width="5.3" height="5.7" rx="1.5"/><rect x="366.0" y="400.1" width="5.3" height="5.7" rx="1.5"/><rect x="338.8" y="410.9" width="5.3" height="5.7" rx="1.5"/><rect x="340.3" y="359.1" width="5.3" height="5.7" rx="1.5"/><rect x="372.6" y="343.1" width="5.3" height="5.7" rx="1.5"/><rect x="360.7" y="346.3" width="5.3" height="5.7" rx="1.5"/><rect x="385.3" y="398.9" width="5.3" height="5.7" rx="1.5"/><rect x="393.2" y="361.7" width="5.3" height="5.7" rx="1.5"/><rect x="367.1" y="396.4" width="5.3" height="5.7" rx="1.5"/><rect x="333.0" y="366.1" width="5.3" height="5.7" rx="1.5"/><rect x="400.1" y="359.9" width="5.3" height="5.7" rx="1.5"/><rect x="334.4" y="356.1" width="5.3" height="5.7" rx="1.5"/><rect x="306.4" y="334.7" width="5.3" height="5.7" rx="1.5"/><rect x="333.1" y="391.4" width="5.3" height="5.7" rx="1.5"/><rect x="324.8" y="343.1" width="5.3" height="5.7" rx="1.5"/><rect x="373.8" y="337.7" width="5.3" height="5.7" rx="1.5"/><rect x="313.7" y="342.1" width="5.3" height="5.7" rx="1.5"/><rect x="340.0" y="369.8" width="5.3" height="5.7" rx="1.5"/><rect x="381.4" y="392.2" width="5.3" height="5.7" rx="1.5"/><rect x="341.5" y="386.9" width="5.3" height="5.7" rx="1.5"/><rect x="364.7" y="371.2" width="5.3" height="5.7" rx="1.5"/><rect x="325.6" y="346.4" width="5.3" height="5.7" rx="1.5"/><rect x="389.5" y="369.6" width="5.3" height="5.7" rx="1.5"/><rect x="316.5" y="405.5" width="5.3" height="5.7" rx="1.5"/><rect x="373.3" y="375.7" width="5.3" height="5.7" rx="1.5"/><rect x="367.5" y="321.0" width="5.3" height="5.7" rx="1.5"/><rect x="319.4" y="325.4" width="5.3" height="5.7" rx="1.5"/><rect x="370.1" y="340.0" width="5.3" height="5.7" rx="1.5"/><rect x="342.2" y="378.6" width="5.3" height="5.7" rx="1.5"/><rect x="321.8" y="378.0" width="5.3" height="5.7" rx="1.5"/><rect x="375.0" y="350.5" width="5.3" height="5.7" rx="1.5"/><rect x="374.8" y="373.5" width="5.3" height="5.7" rx="1.5"/><rect x="373.5" y="368.9" width="5.3" height="5.7" rx="1.5"/><rect x="309.1" y="342.1" width="5.3" height="5.7" rx="1.5"/><rect x="374.4" y="356.7" width="5.3" height="5.7" rx="1.5"/><rect x="362.3" y="343.2" width="5.3" height="5.7" rx="1.5"/><rect x="370.3" y="393.8" width="5.3" height="5.7" rx="1.5"/><rect x="331.2" y="389.9" width="5.3" height="5.7" rx="1.5"/><rect x="363.1" y="365.8" width="5.3" height="5.7" rx="1.5"/><rect x="377.9" y="398.9" width="5.3" height="5.7" rx="1.5"/><rect x="295.7" y="336.8" width="5.3" height="5.7" rx="1.5"/><rect x="385.6" y="364.0" width="5.3" height="5.7" rx="1.5"/><rect x="321.3" y="344.5" width="5.3" height="5.7" rx="1.5"/><rect x="304.9" y="327.8" width="5.3" height="5.7" rx="1.5"/><rect x="393.5" y="335.8" width="5.3" height="5.7" rx="1.5"/><rect x="320.9" y="355.6" width="5.3" height="5.7" rx="1.5"/><rect x="337.7" y="340.5" width="5.3" height="5.7" rx="1.5"/><rect x="284.0" y="324.6" width="5.3" height="5.7" rx="1.5"/><rect x="376.8" y="401.2" width="5.3" height="5.7" rx="1.5"/><rect x="379.5" y="361.8" width="5.3" height="5.7" rx="1.5"/><rect x="385.0" y="352.8" width="5.3" height="5.7" rx="1.5"/><rect x="319.9" y="316.9" width="5.3" height="5.7" rx="1.5"/><rect x="323.4" y="361.8" width="5.3" height="5.7" rx="1.5"/><rect x="367.2" y="388.2" width="5.3" height="5.7" rx="1.5"/><rect x="358.1" y="381.9" width="5.3" height="5.7" rx="1.5"/><rect x="351.9" y="408.5" width="5.3" height="5.7" rx="1.5"/><rect x="299.6" y="314.2" width="5.3" height="5.7" rx="1.5"/><rect x="389.8" y="394.6" width="5.3" height="5.7" rx="1.5"/><rect x="328.9" y="407.2" width="5.3" height="5.7" rx="1.5"/><rect x="305.3" y="362.3" width="5.3" height="5.7" rx="1.5"/><rect x="365.6" y="332.7" width="5.3" height="5.7" rx="1.5"/><rect x="386.4" y="398.8" width="5.3" height="5.7" rx="1.5"/><rect x="322.7" y="381.1" width="5.3" height="5.7" rx="1.5"/><rect x="329.4" y="413.0" width="5.3" height="5.7" rx="1.5"/><rect x="388.8" y="309.1" width="5.3" height="5.7" rx="1.5"/><rect x="334.9" y="386.2" width="5.3" height="5.7" rx="1.5"/><rect x="342.9" y="395.8" width="5.3" height="5.7" rx="1.5"/><rect x="350.9" y="411.7" width="5.3" height="5.7" rx="1.5"/><rect x="348.4" y="408.6" width="5.3" height="5.7" rx="1.5"/><rect x="308.3" y="347.3" width="5.3" height="5.7" rx="1.5"/><rect x="321.9" y="380.9" width="5.3" height="5.7" rx="1.5"/><rect x="371.4" y="394.1" width="5.3" height="5.7" rx="1.5"/><rect x="371.9" y="290.3" width="5.3" height="5.7" rx="1.5"/><rect x="355.5" y="390.5" width="5.3" height="5.7" rx="1.5"/><rect x="324.1" y="395.6" width="5.3" height="5.7" rx="1.5"/><rect x="334.2" y="346.8" width="5.3" height="5.7" rx="1.5"/><rect x="372.6" y="385.4" width="5.3" height="5.7" rx="1.5"/><rect x="424.0" y="347.0" width="5.3" height="5.7" rx="1.5"/><rect x="378.6" y="381.4" width="5.3" height="5.7" rx="1.5"/><rect x="387.9" y="398.8" width="5.3" height="5.7" rx="1.5"/><rect x="359.3" y="356.0" width="5.3" height="5.7" rx="1.5"/><rect x="302.5" y="374.3" width="5.3" height="5.7" rx="1.5"/><rect x="360.0" y="391.8" width="5.3" height="5.7" rx="1.5"/><rect x="304.9" y="391.8" width="5.3" height="5.7" rx="1.5"/><rect x="321.3" y="311.4" width="5.3" height="5.7" rx="1.5"/><rect x="289.0" y="366.7" width="5.3" height="5.7" rx="1.5"/><rect x="368.8" y="375.5" width="5.3" height="5.7" rx="1.5"/><rect x="379.1" y="318.3" width="5.3" height="5.7" rx="1.5"/><rect x="404.7" y="343.3" width="5.3" height="5.7" rx="1.5"/><rect x="362.3" y="389.8" width="5.3" height="5.7" rx="1.5"/><rect x="346.8" y="401.6" width="5.3" height="5.7" rx="1.5"/><rect x="320.6" y="336.4" width="5.3" height="5.7" rx="1.5"/><rect x="343.7" y="398.9" width="5.3" height="5.7" rx="1.5"/><rect x="379.9" y="402.9" width="5.3" height="5.7" rx="1.5"/><rect x="309.6" y="366.7" width="5.3" height="5.7" rx="1.5"/><rect x="324.7" y="348.1" width="5.3" height="5.7" rx="1.5"/><rect x="376.5" y="346.3" width="5.3" height="5.7" rx="1.5"/><rect x="327.3" y="405.7" width="5.3" height="5.7" rx="1.5"/><rect x="368.0" y="347.5" width="5.3" height="5.7" rx="1.5"/><rect x="388.2" y="374.5" width="5.3" height="5.7" rx="1.5"/><rect x="322.8" y="365.7" width="5.3" height="5.7" rx="1.5"/><rect x="330.6" y="401.0" width="5.3" height="5.7" rx="1.5"/><rect x="369.7" y="399.2" width="5.3" height="5.7" rx="1.5"/><rect x="326.1" y="309.2" width="5.3" height="5.7" rx="1.5"/><rect x="385.3" y="366.0" width="5.3" height="5.7" rx="1.5"/><rect x="327.0" y="362.2" width="5.3" height="5.7" rx="1.5"/><rect x="356.8" y="415.7" width="5.3" height="5.7" rx="1.5"/><rect x="396.4" y="377.2" width="5.3" height="5.7" rx="1.5"/><rect x="385.2" y="405.0" width="5.3" height="5.7" rx="1.5"/><rect x="394.3" y="366.9" width="5.3" height="5.7" rx="1.5"/><rect x="366.4" y="410.1" width="5.3" height="5.7" rx="1.5"/><rect x="362.3" y="343.9" width="5.3" height="5.7" rx="1.5"/><rect x="374.1" y="357.8" width="5.3" height="5.7" rx="1.5"/><rect x="336.5" y="352.7" width="5.3" height="5.7" rx="1.5"/><rect x="339.8" y="342.7" width="5.3" height="5.7" rx="1.5"/><rect x="333.8" y="398.9" width="5.3" height="5.7" rx="1.5"/><rect x="358.4" y="368.0" width="5.3" height="5.7" rx="1.5"/><rect x="370.4" y="343.6" width="5.3" height="5.7" rx="1.5"/><rect x="331.3" y="348.4" width="5.3" height="5.7" rx="1.5"/><rect x="333.0" y="359.8" width="5.3" height="5.7" rx="1.5"/><rect x="320.8" y="331.8" width="5.3" height="5.7" rx="1.5"/><rect x="330.0" y="363.5" width="5.3" height="5.7" rx="1.5"/><rect x="426.6" y="341.5" width="5.3" height="5.7" rx="1.5"/><rect x="378.0" y="384.1" width="5.3" height="5.7" rx="1.5"/><rect x="348.8" y="406.8" width="5.3" height="5.7" rx="1.5"/><rect x="391.7" y="340.4" width="5.3" height="5.7" rx="1.5"/><rect x="304.0" y="370.2" width="5.3" height="5.7" rx="1.5"/><rect x="315.0" y="383.9" width="5.3" height="5.7" rx="1.5"/><rect x="335.8" y="394.1" width="5.3" height="5.7" rx="1.5"/><rect x="335.5" y="325.2" width="5.3" height="5.7" rx="1.5"/><rect x="359.5" y="371.5" width="5.3" height="5.7" rx="1.5"/><rect x="342.9" y="394.3" width="5.3" height="5.7" rx="1.5"/><rect x="304.4" y="332.5" width="5.3" height="5.7" rx="1.5"/><rect x="328.8" y="338.5" width="5.3" height="5.7" rx="1.5"/><rect x="360.4" y="349.4" width="5.3" height="5.7" rx="1.5"/><rect x="309.6" y="382.4" width="5.3" height="5.7" rx="1.5"/><rect x="355.9" y="401.3" width="5.3" height="5.7" rx="1.5"/><rect x="317.9" y="395.6" width="5.3" height="5.7" rx="1.5"/><rect x="319.7" y="360.4" width="5.3" height="5.7" rx="1.5"/><rect x="328.2" y="402.4" width="5.3" height="5.7" rx="1.5"/><rect x="332.4" y="380.9" width="5.3" height="5.7" rx="1.5"/><rect x="378.2" y="340.9" width="5.3" height="5.7" rx="1.5"/><rect x="359.5" y="391.4" width="5.3" height="5.7" rx="1.5"/><rect x="357.6" y="371.8" width="5.3" height="5.7" rx="1.5"/><rect x="380.7" y="357.8" width="5.3" height="5.7" rx="1.5"/><rect x="330.3" y="366.3" width="5.3" height="5.7" rx="1.5"/><rect x="379.4" y="333.6" width="5.3" height="5.7" rx="1.5"/><rect x="330.5" y="375.5" width="5.3" height="5.7" rx="1.5"/><rect x="331.8" y="340.2" width="5.3" height="5.7" rx="1.5"/><rect x="357.8" y="396.7" width="5.3" height="5.7" rx="1.5"/><rect x="365.4" y="360.2" width="5.3" height="5.7" rx="1.5"/><rect x="340.8" y="338.9" width="5.3" height="5.7" rx="1.5"/><rect x="318.0" y="398.5" width="5.3" height="5.7" rx="1.5"/><rect x="365.8" y="397.2" width="5.3" height="5.7" rx="1.5"/><rect x="364.9" y="317.4" width="5.3" height="5.7" rx="1.5"/><rect x="412.5" y="358.6" width="5.3" height="5.7" rx="1.5"/><rect x="289.3" y="367.9" width="5.3" height="5.7" rx="1.5"/><rect x="363.6" y="350.3" width="5.3" height="5.7" rx="1.5"/><rect x="380.1" y="374.8" width="5.3" height="5.7" rx="1.5"/><rect x="379.6" y="345.8" width="5.3" height="5.7" rx="1.5"/><rect x="298.9" y="359.9" width="5.3" height="5.7" rx="1.5"/><rect x="375.1" y="325.9" width="5.3" height="5.7" rx="1.5"/><rect x="293.0" y="321.8" width="5.3" height="5.7" rx="1.5"/><rect x="312.1" y="403.5" width="5.3" height="5.7" rx="1.5"/><rect x="332.7" y="386.2" width="5.3" height="5.7" rx="1.5"/><rect x="315.7" y="347.6" width="5.3" height="5.7" rx="1.5"/><rect x="361.7" y="357.7" width="5.3" height="5.7" rx="1.5"/><rect x="311.0" y="364.6" width="5.3" height="5.7" rx="1.5"/><rect x="386.8" y="355.0" width="5.3" height="5.7" rx="1.5"/><rect x="315.4" y="343.1" width="5.3" height="5.7" rx="1.5"/><rect x="300.3" y="396.7" width="5.3" height="5.7" rx="1.5"/><rect x="302.9" y="399.9" width="5.3" height="5.7" rx="1.5"/><rect x="322.2" y="336.6" width="5.3" height="5.7" rx="1.5"/><rect x="327.8" y="394.0" width="5.3" height="5.7" rx="1.5"/><rect x="351.5" y="419.6" width="5.3" height="5.7" rx="1.5"/><rect x="342.1" y="364.7" width="5.3" height="5.7" rx="1.5"/><rect x="315.5" y="361.1" width="5.3" height="5.7" rx="1.5"/><rect x="375.7" y="365.7" width="5.3" height="5.7" rx="1.5"/><rect x="284.0" y="327.3" width="5.3" height="5.7" rx="1.5"/><rect x="324.6" y="383.3" width="5.3" height="5.7" rx="1.5"/><rect x="359.2" y="399.7" width="5.3" height="5.7" rx="1.5"/><rect x="315.2" y="378.2" width="5.3" height="5.7" rx="1.5"/><rect x="323.8" y="401.2" width="5.3" height="5.7" rx="1.5"/><rect x="389.9" y="371.8" width="5.3" height="5.7" rx="1.5"/><rect x="401.3" y="336.3" width="5.3" height="5.7" rx="1.5"/><rect x="364.6" y="333.7" width="5.3" height="5.7" rx="1.5"/><rect x="307.7" y="364.8" width="5.3" height="5.7" rx="1.5"/><rect x="371.0" y="360.5" width="5.3" height="5.7" rx="1.5"/><rect x="311.8" y="330.2" width="5.3" height="5.7" rx="1.5"/><rect x="342.7" y="418.0" width="5.3" height="5.7" rx="1.5"/><rect x="313.4" y="380.8" width="5.3" height="5.7" rx="1.5"/><rect x="369.1" y="398.1" width="5.3" height="5.7" rx="1.5"/><rect x="366.8" y="337.6" width="5.3" height="5.7" rx="1.5"/><rect x="312.7" y="374.4" width="5.3" height="5.7" rx="1.5"/><rect x="371.9" y="388.5" width="5.3" height="5.7" rx="1.5"/><rect x="376.2" y="336.9" width="5.3" height="5.7" rx="1.5"/><rect x="330.2" y="384.6" width="5.3" height="5.7" rx="1.5"/><rect x="339.0" y="402.0" width="5.3" height="5.7" rx="1.5"/><rect x="328.1" y="354.3" width="5.3" height="5.7" rx="1.5"/><rect x="397.9" y="346.5" width="5.3" height="5.7" rx="1.5"/><rect x="378.4" y="348.4" width="5.3" height="5.7" rx="1.5"/><rect x="377.4" y="354.8" width="5.3" height="5.7" rx="1.5"/><rect x="343.4" y="380.3" width="5.3" height="5.7" rx="1.5"/><rect x="369.7" y="338.4" width="5.3" height="5.7" rx="1.5"/><rect x="363.5" y="379.6" width="5.3" height="5.7" rx="1.5"/><rect x="304.5" y="364.4" width="5.3" height="5.7" rx="1.5"/><rect x="302.7" y="307.0" width="5.3" height="5.7" rx="1.5"/><rect x="324.3" y="394.9" width="5.3" height="5.7" rx="1.5"/><rect x="335.3" y="343.9" width="5.3" height="5.7" rx="1.5"/><rect x="379.1" y="367.3" width="5.3" height="5.7" rx="1.5"/><rect x="364.9" y="379.6" width="5.3" height="5.7" rx="1.5"/><rect x="361.5" y="406.5" width="5.3" height="5.7" rx="1.5"/><rect x="374.9" y="403.4" width="5.3" height="5.7" rx="1.5"/><rect x="327.7" y="333.8" width="5.3" height="5.7" rx="1.5"/><rect x="321.3" y="401.5" width="5.3" height="5.7" rx="1.5"/><rect x="377.6" y="378.4" width="5.3" height="5.7" rx="1.5"/><rect x="336.5" y="389.9" width="5.3" height="5.7" rx="1.5"/><rect x="319.7" y="384.7" width="5.3" height="5.7" rx="1.5"/><rect x="365.8" y="347.9" width="5.3" height="5.7" rx="1.5"/><rect x="307.5" y="340.2" width="5.3" height="5.7" rx="1.5"/><rect x="369.4" y="360.6" width="5.3" height="5.7" rx="1.5"/><rect x="383.9" y="370.8" width="5.3" height="5.7" rx="1.5"/><rect x="327.4" y="392.4" width="5.3" height="5.7" rx="1.5"/><rect x="297.8" y="346.0" width="5.3" height="5.7" rx="1.5"/><rect x="316.5" y="386.8" width="5.3" height="5.7" rx="1.5"/><rect x="331.1" y="345.5" width="5.3" height="5.7" rx="1.5"/><rect x="379.0" y="343.0" width="5.3" height="5.7" rx="1.5"/><rect x="311.9" y="302.2" width="5.3" height="5.7" rx="1.5"/><rect x="336.6" y="373.0" width="5.3" height="5.7" rx="1.5"/><rect x="337.7" y="401.6" width="5.3" height="5.7" rx="1.5"/><rect x="361.0" y="410.8" width="5.3" height="5.7" rx="1.5"/><rect x="318.1" y="396.0" width="5.3" height="5.7" rx="1.5"/><rect x="391.6" y="397.5" width="5.3" height="5.7" rx="1.5"/><rect x="379.4" y="339.9" width="5.3" height="5.7" rx="1.5"/><rect x="350.3" y="417.3" width="5.3" height="5.7" rx="1.5"/><rect x="312.7" y="341.5" width="5.3" height="5.7" rx="1.5"/><rect x="324.4" y="366.1" width="5.3" height="5.7" rx="1.5"/><rect x="373.5" y="350.4" width="5.3" height="5.7" rx="1.5"/><rect x="366.6" y="336.4" width="5.3" height="5.7" rx="1.5"/><rect x="291.5" y="327.8" width="5.3" height="5.7" rx="1.5"/><rect x="383.7" y="390.3" width="5.3" height="5.7" rx="1.5"/><rect x="391.8" y="332.4" width="5.3" height="5.7" rx="1.5"/><rect x="327.3" y="334.3" width="5.3" height="5.7" rx="1.5"/><rect x="328.8" y="365.9" width="5.3" height="5.7" rx="1.5"/><rect x="386.7" y="380.3" width="5.3" height="5.7" rx="1.5"/><rect x="389.0" y="347.3" width="5.3" height="5.7" rx="1.5"/><rect x="334.7" y="368.5" width="5.3" height="5.7" rx="1.5"/><rect x="310.5" y="353.3" width="5.3" height="5.7" rx="1.5"/><rect x="393.0" y="315.7" width="5.3" height="5.7" rx="1.5"/><rect x="363.8" y="340.3" width="5.3" height="5.7" rx="1.5"/><rect x="388.1" y="334.2" width="5.3" height="5.7" rx="1.5"/><rect x="311.7" y="335.1" width="5.3" height="5.7" rx="1.5"/><rect x="316.9" y="342.7" width="5.3" height="5.7" rx="1.5"/><rect x="389.2" y="352.3" width="5.3" height="5.7" rx="1.5"/><rect x="366.9" y="330.5" width="5.3" height="5.7" rx="1.5"/><rect x="387.9" y="393.4" width="5.3" height="5.7" rx="1.5"/><rect x="354.8" y="411.4" width="5.3" height="5.7" rx="1.5"/><rect x="389.7" y="315.2" width="5.3" height="5.7" rx="1.5"/><rect x="312.6" y="370.0" width="5.3" height="5.7" rx="1.5"/><rect x="338.2" y="410.0" width="5.3" height="5.7" rx="1.5"/><rect x="317.5" y="366.0" width="5.3" height="5.7" rx="1.5"/><rect x="358.8" y="375.2" width="5.3" height="5.7" rx="1.5"/><rect x="378.4" y="373.8" width="5.3" height="5.7" rx="1.5"/><rect x="369.1" y="356.3" width="5.3" height="5.7" rx="1.5"/><rect x="290.3" y="347.0" width="5.3" height="5.7" rx="1.5"/><rect x="369.8" y="331.1" width="5.3" height="5.7" rx="1.5"/><rect x="324.1" y="382.9" width="5.3" height="5.7" rx="1.5"/><rect x="305.9" y="347.4" width="5.3" height="5.7" rx="1.5"/><rect x="311.3" y="349.4" width="5.3" height="5.7" rx="1.5"/><rect x="299.0" y="384.9" width="5.3" height="5.7" rx="1.5"/><rect x="328.9" y="409.0" width="5.3" height="5.7" rx="1.5"/><rect x="389.4" y="384.6" width="5.3" height="5.7" rx="1.5"/><rect x="383.9" y="323.8" width="5.3" height="5.7" rx="1.5"/><rect x="353.8" y="410.9" width="5.3" height="5.7" rx="1.5"/><rect x="391.1" y="368.3" width="5.3" height="5.7" rx="1.5"/><rect x="371.5" y="326.4" width="5.3" height="5.7" rx="1.5"/><rect x="393.6" y="360.5" width="5.3" height="5.7" rx="1.5"/><rect x="337.6" y="408.9" width="5.3" height="5.7" rx="1.5"/><rect x="350.7" y="417.2" width="5.3" height="5.7" rx="1.5"/><rect x="388.8" y="384.8" width="5.3" height="5.7" rx="1.5"/><rect x="335.2" y="378.5" width="5.3" height="5.7" rx="1.5"/><rect x="383.3" y="321.9" width="5.3" height="5.7" rx="1.5"/><rect x="324.0" y="339.4" width="5.3" height="5.7" rx="1.5"/><rect x="303.0" y="372.6" width="5.3" height="5.7" rx="1.5"/><rect x="355.8" y="387.9" width="5.3" height="5.7" rx="1.5"/><rect x="324.3" y="342.2" width="5.3" height="5.7" rx="1.5"/><rect x="300.4" y="357.8" width="5.3" height="5.7" rx="1.5"/><rect x="304.5" y="325.7" width="5.3" height="5.7" rx="1.5"/><rect x="389.3" y="337.5" width="5.3" height="5.7" rx="1.5"/><rect x="338.1" y="393.3" width="5.3" height="5.7" rx="1.5"/><rect x="374.3" y="362.4" width="5.3" height="5.7" rx="1.5"/><rect x="318.7" y="361.6" width="5.3" height="5.7" rx="1.5"/><rect x="385.4" y="336.8" width="5.3" height="5.7" rx="1.5"/><rect x="383.9" y="378.8" width="5.3" height="5.7" rx="1.5"/><rect x="336.4" y="375.7" width="5.3" height="5.7" rx="1.5"/><rect x="360.6" y="395.1" width="5.3" height="5.7" rx="1.5"/><rect x="339.1" y="341.5" width="5.3" height="5.7" rx="1.5"/><rect x="364.6" y="367.8" width="5.3" height="5.7" rx="1.5"/><rect x="311.1" y="395.4" width="5.3" height="5.7" rx="1.5"/><rect x="326.3" y="339.8" width="5.3" height="5.7" rx="1.5"/><rect x="345.5" y="399.0" width="5.3" height="5.7" rx="1.5"/><rect x="382.1" y="359.0" width="5.3" height="5.7" rx="1.5"/><rect x="324.4" y="339.5" width="5.3" height="5.7" rx="1.5"/><rect x="322.5" y="389.8" width="5.3" height="5.7" rx="1.5"/><rect x="372.6" y="397.2" width="5.3" height="5.7" rx="1.5"/><rect x="308.6" y="311.7" width="5.3" height="5.7" rx="1.5"/><rect x="382.1" y="395.5" width="5.3" height="5.7" rx="1.5"/><rect x="326.8" y="360.0" width="5.3" height="5.7" rx="1.5"/><rect x="336.6" y="361.5" width="5.3" height="5.7" rx="1.5"/><rect x="364.1" y="337.8" width="5.3" height="5.7" rx="1.5"/><rect x="369.8" y="364.2" width="5.3" height="5.7" rx="1.5"/><rect x="336.5" y="322.5" width="5.3" height="5.7" rx="1.5"/><rect x="342.2" y="383.0" width="5.3" height="5.7" rx="1.5"/><rect x="313.0" y="360.6" width="5.3" height="5.7" rx="1.5"/><rect x="311.8" y="327.7" width="5.3" height="5.7" rx="1.5"/><rect x="363.2" y="334.8" width="5.3" height="5.7" rx="1.5"/><rect x="315.9" y="299.3" width="5.3" height="5.7" rx="1.5"/><rect x="379.3" y="357.5" width="5.3" height="5.7" rx="1.5"/><rect x="322.8" y="377.5" width="5.3" height="5.7" rx="1.5"/><rect x="385.5" y="317.3" width="5.3" height="5.7" rx="1.5"/><rect x="319.4" y="393.8" width="5.3" height="5.7" rx="1.5"/><rect x="296.3" y="390.4" width="5.3" height="5.7" rx="1.5"/><rect x="307.1" y="337.9" width="5.3" height="5.7" rx="1.5"/><rect x="335.3" y="318.7" width="5.3" height="5.7" rx="1.5"/><rect x="335.6" y="317.5" width="5.3" height="5.7" rx="1.5"/><rect x="369.8" y="366.6" width="5.3" height="5.7" rx="1.5"/><rect x="357.5" y="385.9" width="5.3" height="5.7" rx="1.5"/><rect x="314.7" y="361.2" width="5.3" height="5.7" rx="1.5"/><rect x="372.6" y="392.7" width="5.3" height="5.7" rx="1.5"/><rect x="324.8" y="407.5" width="5.3" height="5.7" rx="1.5"/><rect x="396.5" y="402.9" width="5.3" height="5.7" rx="1.5"/><rect x="383.9" y="365.8" width="5.3" height="5.7" rx="1.5"/><rect x="362.3" y="402.3" width="5.3" height="5.7" rx="1.5"/><rect x="347.0" y="398.6" width="5.3" height="5.7" rx="1.5"/><rect x="355.5" y="391.1" width="5.3" height="5.7" rx="1.5"/><rect x="380.7" y="350.2" width="5.3" height="5.7" rx="1.5"/><rect x="323.2" y="357.1" width="5.3" height="5.7" rx="1.5"/><rect x="393.5" y="382.3" width="5.3" height="5.7" rx="1.5"/><rect x="377.5" y="346.2" width="5.3" height="5.7" rx="1.5"/><rect x="317.9" y="400.5" width="5.3" height="5.7" rx="1.5"/><rect x="362.0" y="415.3" width="5.3" height="5.7" rx="1.5"/><rect x="330.7" y="344.1" width="5.3" height="5.7" rx="1.5"/><rect x="305.4" y="346.6" width="5.3" height="5.7" rx="1.5"/><rect x="377.2" y="344.5" width="5.3" height="5.7" rx="1.5"/><rect x="375.5" y="351.2" width="5.3" height="5.7" rx="1.5"/><rect x="318.5" y="370.6" width="5.3" height="5.7" rx="1.5"/><rect x="335.1" y="349.8" width="5.3" height="5.7" rx="1.5"/><rect x="381.8" y="406.3" width="5.3" height="5.7" rx="1.5"/><rect x="370.3" y="368.8" width="5.3" height="5.7" rx="1.5"/><rect x="322.9" y="367.2" width="5.3" height="5.7" rx="1.5"/><rect x="358.7" y="356.9" width="5.3" height="5.7" rx="1.5"/><rect x="327.7" y="356.6" width="5.3" height="5.7" rx="1.5"/><rect x="370.3" y="398.9" width="5.3" height="5.7" rx="1.5"/><rect x="355.0" y="418.8" width="5.3" height="5.7" rx="1.5"/><rect x="329.0" y="350.0" width="5.3" height="5.7" rx="1.5"/><rect x="373.8" y="331.0" width="5.3" height="5.7" rx="1.5"/><rect x="362.7" y="416.9" width="5.3" height="5.7" rx="1.5"/><rect x="322.9" y="394.9" width="5.3" height="5.7" rx="1.5"/><rect x="332.8" y="359.0" width="5.3" height="5.7" rx="1.5"/><rect x="402.0" y="364.7" width="5.3" height="5.7" rx="1.5"/><rect x="320.0" y="321.4" width="5.3" height="5.7" rx="1.5"/><rect x="325.6" y="341.7" width="5.3" height="5.7" rx="1.5"/><rect x="321.0" y="398.8" width="5.3" height="5.7" rx="1.5"/><rect x="367.9" y="330.5" width="5.3" height="5.7" rx="1.5"/><rect x="286.7" y="347.8" width="5.3" height="5.7" rx="1.5"/><rect x="315.2" y="392.3" width="5.3" height="5.7" rx="1.5"/><rect x="325.6" y="361.4" width="5.3" height="5.7" rx="1.5"/><rect x="315.1" y="408.1" width="5.3" height="5.7" rx="1.5"/><rect x="289.2" y="318.6" width="5.3" height="5.7" rx="1.5"/><rect x="307.9" y="345.8" width="5.3" height="5.7" rx="1.5"/><rect x="373.9" y="337.9" width="5.3" height="5.7" rx="1.5"/><rect x="360.7" y="340.2" width="5.3" height="5.7" rx="1.5"/><rect x="338.5" y="327.7" width="5.3" height="5.7" rx="1.5"/><rect x="335.0" y="389.6" width="5.3" height="5.7" rx="1.5"/><rect x="338.3" y="354.7" width="5.3" height="5.7" rx="1.5"/><rect x="318.0" y="369.2" width="5.3" height="5.7" rx="1.5"/><rect x="301.5" y="308.1" width="5.3" height="5.7" rx="1.5"/><rect x="314.7" y="370.2" width="5.3" height="5.7" rx="1.5"/><rect x="374.7" y="342.5" width="5.3" height="5.7" rx="1.5"/><rect x="321.9" y="352.8" width="5.3" height="5.7" rx="1.5"/><rect x="317.3" y="411.5" width="5.3" height="5.7" rx="1.5"/><rect x="325.1" y="394.6" width="5.3" height="5.7" rx="1.5"/><rect x="369.9" y="381.9" width="5.3" height="5.7" rx="1.5"/><rect x="347.0" y="399.1" width="5.3" height="5.7" rx="1.5"/><rect x="399.7" y="294.5" width="5.3" height="5.7" rx="1.5"/><rect x="316.9" y="380.8" width="5.3" height="5.7" rx="1.5"/><rect x="310.4" y="339.4" width="5.3" height="5.7" rx="1.5"/><rect x="368.0" y="321.0" width="5.3" height="5.7" rx="1.5"/><rect x="376.2" y="402.3" width="5.3" height="5.7" rx="1.5"/><rect x="397.4" y="347.5" width="5.3" height="5.7" rx="1.5"/><rect x="379.9" y="374.3" width="5.3" height="5.7" rx="1.5"/><rect x="402.3" y="371.1" width="5.3" height="5.7" rx="1.5"/><rect x="421.2" y="370.7" width="5.3" height="5.7" rx="1.5"/><rect x="291.8" y="327.8" width="5.3" height="5.7" rx="1.5"/><rect x="358.0" y="380.6" width="5.3" height="5.7" rx="1.5"/><rect x="319.5" y="385.4" width="5.3" height="5.7" rx="1.5"/><rect x="331.5" y="378.1" width="5.3" height="5.7" rx="1.5"/><rect x="414.8" y="291.8" width="5.3" height="5.7" rx="1.5"/><rect x="311.5" y="347.0" width="5.3" height="5.7" rx="1.5"/><rect x="413.5" y="340.6" width="5.3" height="5.7" rx="1.5"/><rect x="372.8" y="309.1" width="5.3" height="5.7" rx="1.5"/><rect x="310.1" y="374.1" width="5.3" height="5.7" rx="1.5"/><rect x="329.5" y="395.6" width="5.3" height="5.7" rx="1.5"/><rect x="370.2" y="385.9" width="5.3" height="5.7" rx="1.5"/><rect x="371.6" y="356.7" width="5.3" height="5.7" rx="1.5"/><rect x="340.1" y="357.6" width="5.3" height="5.7" rx="1.5"/><rect x="389.5" y="376.3" width="5.3" height="5.7" rx="1.5"/><rect x="364.9" y="405.2" width="5.3" height="5.7" rx="1.5"/><rect x="319.8" y="382.4" width="5.3" height="5.7" rx="1.5"/><rect x="320.8" y="375.7" width="5.3" height="5.7" rx="1.5"/><rect x="388.9" y="371.8" width="5.3" height="5.7" rx="1.5"/><rect x="397.3" y="393.9" width="5.3" height="5.7" rx="1.5"/><rect x="337.8" y="391.2" width="5.3" height="5.7" rx="1.5"/><rect x="296.0" y="331.2" width="5.3" height="5.7" rx="1.5"/><rect x="375.4" y="377.6" width="5.3" height="5.7" rx="1.5"/><rect x="364.3" y="370.9" width="5.3" height="5.7" rx="1.5"/><rect x="369.4" y="377.5" width="5.3" height="5.7" rx="1.5"/><rect x="378.1" y="399.2" width="5.3" height="5.7" rx="1.5"/><rect x="422.8" y="371.6" width="5.3" height="5.7" rx="1.5"/><rect x="392.2" y="376.5" width="5.3" height="5.7" rx="1.5"/><rect x="378.4" y="370.7" width="5.3" height="5.7" rx="1.5"/><rect x="392.6" y="373.1" width="5.3" height="5.7" rx="1.5"/><rect x="345.4" y="402.1" width="5.3" height="5.7" rx="1.5"/><rect x="318.0" y="340.7" width="5.3" height="5.7" rx="1.5"/><rect x="406.0" y="338.1" width="5.3" height="5.7" rx="1.5"/><rect x="367.8" y="332.5" width="5.3" height="5.7" rx="1.5"/><rect x="371.4" y="362.1" width="5.3" height="5.7" rx="1.5"/><rect x="385.0" y="342.3" width="5.3" height="5.7" rx="1.5"/><rect x="341.9" y="364.5" width="5.3" height="5.7" rx="1.5"/><rect x="355.9" y="407.6" width="5.3" height="5.7" rx="1.5"/><rect x="328.1" y="323.3" width="5.3" height="5.7" rx="1.5"/><rect x="309.9" y="362.9" width="5.3" height="5.7" rx="1.5"/><rect x="386.3" y="329.4" width="5.3" height="5.7" rx="1.5"/><rect x="312.4" y="385.3" width="5.3" height="5.7" rx="1.5"/><rect x="375.2" y="355.0" width="5.3" height="5.7" rx="1.5"/><rect x="392.8" y="348.3" width="5.3" height="5.7" rx="1.5"/><rect x="283.6" y="307.4" width="5.3" height="5.7" rx="1.5"/><rect x="371.7" y="381.7" width="5.3" height="5.7" rx="1.5"/><rect x="377.2" y="317.6" width="5.3" height="5.7" rx="1.5"/><rect x="327.2" y="337.1" width="5.3" height="5.7" rx="1.5"/><rect x="315.8" y="380.1" width="5.3" height="5.7" rx="1.5"/><rect x="362.0" y="362.5" width="5.3" height="5.7" rx="1.5"/><rect x="323.4" y="409.5" width="5.3" height="5.7" rx="1.5"/><rect x="333.1" y="370.2" width="5.3" height="5.7" rx="1.5"/><rect x="324.9" y="386.0" width="5.3" height="5.7" rx="1.5"/><rect x="379.0" y="319.0" width="5.3" height="5.7" rx="1.5"/><rect x="356.4" y="396.6" width="5.3" height="5.7" rx="1.5"/><rect x="319.7" y="407.6" width="5.3" height="5.7" rx="1.5"/><rect x="334.4" y="367.2" width="5.3" height="5.7" rx="1.5"/><rect x="334.3" y="395.4" width="5.3" height="5.7" rx="1.5"/><rect x="359.8" y="392.1" width="5.3" height="5.7" rx="1.5"/><rect x="335.7" y="408.7" width="5.3" height="5.7" rx="1.5"/><rect x="298.5" y="312.6" width="5.3" height="5.7" rx="1.5"/><rect x="317.8" y="340.8" width="5.3" height="5.7" rx="1.5"/><rect x="315.0" y="331.6" width="5.3" height="5.7" rx="1.5"/><rect x="374.8" y="374.4" width="5.3" height="5.7" rx="1.5"/><rect x="294.8" y="388.7" width="5.3" height="5.7" rx="1.5"/><rect x="337.6" y="390.0" width="5.3" height="5.7" rx="1.5"/><rect x="329.0" y="339.1" width="5.3" height="5.7" rx="1.5"/><rect x="375.0" y="366.5" width="5.3" height="5.7" rx="1.5"/><rect x="376.8" y="363.8" width="5.3" height="5.7" rx="1.5"/><rect x="314.2" y="379.0" width="5.3" height="5.7" rx="1.5"/><rect x="365.5" y="355.5" width="5.3" height="5.7" rx="1.5"/><rect x="309.6" y="363.4" width="5.3" height="5.7" rx="1.5"/><rect x="369.3" y="332.6" width="5.3" height="5.7" rx="1.5"/><rect x="319.5" y="400.3" width="5.3" height="5.7" rx="1.5"/><rect x="334.4" y="415.4" width="5.3" height="5.7" rx="1.5"/><rect x="329.5" y="355.4" width="5.3" height="5.7" rx="1.5"/><rect x="344.3" y="417.3" width="5.3" height="5.7" rx="1.5"/><rect x="381.3" y="398.8" width="5.3" height="5.7" rx="1.5"/><rect x="384.5" y="403.8" width="5.3" height="5.7" rx="1.5"/><rect x="310.3" y="398.2" width="5.3" height="5.7" rx="1.5"/><rect x="301.2" y="368.2" width="5.3" height="5.7" rx="1.5"/><rect x="370.2" y="344.4" width="5.3" height="5.7" rx="1.5"/><rect x="346.9" y="417.9" width="5.3" height="5.7" rx="1.5"/><rect x="302.1" y="330.4" width="5.3" height="5.7" rx="1.5"/><rect x="320.8" y="356.5" width="5.3" height="5.7" rx="1.5"/><rect x="300.1" y="396.2" width="5.3" height="5.7" rx="1.5"/><rect x="374.5" y="375.8" width="5.3" height="5.7" rx="1.5"/><rect x="334.3" y="377.7" width="5.3" height="5.7" rx="1.5"/><rect x="363.2" y="342.6" width="5.3" height="5.7" rx="1.5"/><rect x="376.9" y="386.9" width="5.3" height="5.7" rx="1.5"/><rect x="376.5" y="306.8" width="5.3" height="5.7" rx="1.5"/><rect x="363.9" y="366.3" width="5.3" height="5.7" rx="1.5"/><rect x="383.7" y="348.3" width="5.3" height="5.7" rx="1.5"/><rect x="370.1" y="339.5" width="5.3" height="5.7" rx="1.5"/><rect x="354.1" y="410.5" width="5.3" height="5.7" rx="1.5"/><rect x="357.0" y="415.5" width="5.3" height="5.7" rx="1.5"/><rect x="378.0" y="329.4" width="5.3" height="5.7" rx="1.5"/><rect x="375.1" y="339.6" width="5.3" height="5.7" rx="1.5"/><rect x="408.1" y="365.3" width="5.3" height="5.7" rx="1.5"/><rect x="362.2" y="341.2" width="5.3" height="5.7" rx="1.5"/><rect x="373.8" y="369.1" width="5.3" height="5.7" rx="1.5"/><rect x="373.3" y="412.5" width="5.3" height="5.7" rx="1.5"/><rect x="382.4" y="329.9" width="5.3" height="5.7" rx="1.5"/><rect x="383.3" y="390.4" width="5.3" height="5.7" rx="1.5"/><rect x="365.8" y="331.5" width="5.3" height="5.7" rx="1.5"/><rect x="315.1" y="327.7" width="5.3" height="5.7" rx="1.5"/><rect x="305.0" y="357.5" width="5.3" height="5.7" rx="1.5"/><rect x="362.7" y="392.5" width="5.3" height="5.7" rx="1.5"/><rect x="328.7" y="340.0" width="5.3" height="5.7" rx="1.5"/><rect x="342.0" y="396.0" width="5.3" height="5.7" rx="1.5"/><rect x="436.0" y="301.7" width="5.3" height="5.7" rx="1.5"/><rect x="361.6" y="400.2" width="5.3" height="5.7" rx="1.5"/><rect x="364.3" y="405.9" width="5.3" height="5.7" rx="1.5"/><rect x="339.3" y="341.6" width="5.3" height="5.7" rx="1.5"/><rect x="334.5" y="411.0" width="5.3" height="5.7" rx="1.5"/><rect x="339.9" y="377.8" width="5.3" height="5.7" rx="1.5"/><rect x="376.3" y="389.6" width="5.3" height="5.7" rx="1.5"/><rect x="385.7" y="352.5" width="5.3" height="5.7" rx="1.5"/><rect x="369.9" y="378.1" width="5.3" height="5.7" rx="1.5"/><rect x="336.8" y="401.6" width="5.3" height="5.7" rx="1.5"/><rect x="314.1" y="394.4" width="5.3" height="5.7" rx="1.5"/><rect x="336.7" y="339.8" width="5.3" height="5.7" rx="1.5"/><rect x="301.9" y="347.6" width="5.3" height="5.7" rx="1.5"/><rect x="331.3" y="380.8" width="5.3" height="5.7" rx="1.5"/><rect x="308.5" y="393.2" width="5.3" height="5.7" rx="1.5"/><rect x="316.1" y="343.5" width="5.3" height="5.7" rx="1.5"/><rect x="367.4" y="383.1" width="5.3" height="5.7" rx="1.5"/><rect x="322.5" y="404.0" width="5.3" height="5.7" rx="1.5"/><rect x="362.3" y="382.5" width="5.3" height="5.7" rx="1.5"/><rect x="317.5" y="386.7" width="5.3" height="5.7" rx="1.5"/><rect x="394.7" y="356.5" width="5.3" height="5.7" rx="1.5"/><rect x="319.4" y="381.8" width="5.3" height="5.7" rx="1.5"/><rect x="340.0" y="366.9" width="5.3" height="5.7" rx="1.5"/><rect x="354.5" y="415.8" width="5.3" height="5.7" rx="1.5"/><rect x="348.8" y="415.6" width="5.3" height="5.7" rx="1.5"/><rect x="411.6" y="335.8" width="5.3" height="5.7" rx="1.5"/><rect x="377.8" y="393.2" width="5.3" height="5.7" rx="1.5"/><rect x="394.7" y="385.8" width="5.3" height="5.7" rx="1.5"/><rect x="334.7" y="377.2" width="5.3" height="5.7" rx="1.5"/><rect x="319.7" y="363.2" width="5.3" height="5.7" rx="1.5"/><rect x="299.3" y="379.5" width="5.3" height="5.7" rx="1.5"/><rect x="298.2" y="387.3" width="5.3" height="5.7" rx="1.5"/><rect x="331.7" y="362.3" width="5.3" height="5.7" rx="1.5"/><rect x="339.6" y="388.3" width="5.3" height="5.7" rx="1.5"/><rect x="342.8" y="385.1" width="5.3" height="5.7" rx="1.5"/><rect x="380.0" y="368.4" width="5.3" height="5.7" rx="1.5"/><rect x="316.9" y="342.6" width="5.3" height="5.7" rx="1.5"/><rect x="330.2" y="405.3" width="5.3" height="5.7" rx="1.5"/><rect x="314.0" y="332.7" width="5.3" height="5.7" rx="1.5"/><rect x="361.7" y="393.3" width="5.3" height="5.7" rx="1.5"/><rect x="321.4" y="407.4" width="5.3" height="5.7" rx="1.5"/><rect x="339.4" y="403.9" width="5.3" height="5.7" rx="1.5"/><rect x="326.7" y="369.1" width="5.3" height="5.7" rx="1.5"/><rect x="308.9" y="363.0" width="5.3" height="5.7" rx="1.5"/><rect x="366.6" y="363.1" width="5.3" height="5.7" rx="1.5"/><rect x="345.5" y="399.4" width="5.3" height="5.7" rx="1.5"/><rect x="323.6" y="320.6" width="5.3" height="5.7" rx="1.5"/><rect x="304.5" y="403.0" width="5.3" height="5.7" rx="1.5"/><rect x="356.0" y="413.4" width="5.3" height="5.7" rx="1.5"/><rect x="339.3" y="341.1" width="5.3" height="5.7" rx="1.5"/><rect x="359.9" y="398.9" width="5.3" height="5.7" rx="1.5"/><rect x="408.6" y="340.7" width="5.3" height="5.7" rx="1.5"/><rect x="315.7" y="326.2" width="5.3" height="5.7" rx="1.5"/><rect x="367.8" y="341.6" width="5.3" height="5.7" rx="1.5"/><rect x="320.3" y="397.5" width="5.3" height="5.7" rx="1.5"/><rect x="340.2" y="345.5" width="5.3" height="5.7" rx="1.5"/><rect x="389.2" y="386.7" width="5.3" height="5.7" rx="1.5"/><rect x="338.7" y="372.9" width="5.3" height="5.7" rx="1.5"/><rect x="362.9" y="411.0" width="5.3" height="5.7" rx="1.5"/><rect x="308.5" y="347.6" width="5.3" height="5.7" rx="1.5"/><rect x="335.3" y="383.5" width="5.3" height="5.7" rx="1.5"/><rect x="317.8" y="339.4" width="5.3" height="5.7" rx="1.5"/><rect x="332.2" y="324.0" width="5.3" height="5.7" rx="1.5"/><rect x="339.5" y="358.5" width="5.3" height="5.7" rx="1.5"/><rect x="353.0" y="405.6" width="5.3" height="5.7" rx="1.5"/><rect x="385.6" y="375.1" width="5.3" height="5.7" rx="1.5"/><rect x="403.4" y="360.4" width="5.3" height="5.7" rx="1.5"/><rect x="374.4" y="353.2" width="5.3" height="5.7" rx="1.5"/><rect x="305.8" y="330.5" width="5.3" height="5.7" rx="1.5"/><rect x="370.9" y="340.0" width="5.3" height="5.7" rx="1.5"/><rect x="370.3" y="400.7" width="5.3" height="5.7" rx="1.5"/><rect x="297.2" y="374.6" width="5.3" height="5.7" rx="1.5"/><rect x="332.4" y="366.9" width="5.3" height="5.7" rx="1.5"/><rect x="331.7" y="370.1" width="5.3" height="5.7" rx="1.5"/><rect x="347.2" y="419.7" width="5.3" height="5.7" rx="1.5"/><rect x="349.4" y="411.0" width="5.3" height="5.7" rx="1.5"/><rect x="334.3" y="340.3" width="5.3" height="5.7" rx="1.5"/><rect x="344.8" y="402.3" width="5.3" height="5.7" rx="1.5"/><rect x="385.4" y="353.5" width="5.3" height="5.7" rx="1.5"/><rect x="367.0" y="338.1" width="5.3" height="5.7" rx="1.5"/><rect x="372.3" y="379.4" width="5.3" height="5.7" rx="1.5"/><rect x="324.9" y="404.6" width="5.3" height="5.7" rx="1.5"/><rect x="346.1" y="407.9" width="5.3" height="5.7" rx="1.5"/><rect x="293.1" y="335.8" width="5.3" height="5.7" rx="1.5"/><rect x="315.1" y="381.3" width="5.3" height="5.7" rx="1.5"/><rect x="384.7" y="358.7" width="5.3" height="5.7" rx="1.5"/><rect x="361.9" y="359.4" width="5.3" height="5.7" rx="1.5"/><rect x="293.4" y="350.0" width="5.3" height="5.7" rx="1.5"/><rect x="358.3" y="373.6" width="5.3" height="5.7" rx="1.5"/><rect x="375.6" y="308.1" width="5.3" height="5.7" rx="1.5"/><rect x="374.6" y="310.5" width="5.3" height="5.7" rx="1.5"/><rect x="374.9" y="378.3" width="5.3" height="5.7" rx="1.5"/><rect x="361.5" y="390.2" width="5.3" height="5.7" rx="1.5"/><rect x="304.4" y="403.3" width="5.3" height="5.7" rx="1.5"/><rect x="396.3" y="376.5" width="5.3" height="5.7" rx="1.5"/><rect x="375.5" y="374.4" width="5.3" height="5.7" rx="1.5"/><rect x="383.9" y="379.7" width="5.3" height="5.7" rx="1.5"/><rect x="340.3" y="363.8" width="5.3" height="5.7" rx="1.5"/><rect x="373.4" y="394.8" width="5.3" height="5.7" rx="1.5"/><rect x="302.4" y="330.2" width="5.3" height="5.7" rx="1.5"/><rect x="369.6" y="324.6" width="5.3" height="5.7" rx="1.5"/><rect x="367.5" y="340.2" width="5.3" height="5.7" rx="1.5"/><rect x="363.1" y="358.5" width="5.3" height="5.7" rx="1.5"/><rect x="310.6" y="336.7" width="5.3" height="5.7" rx="1.5"/><rect x="321.4" y="387.6" width="5.3" height="5.7" rx="1.5"/><rect x="360.3" y="372.8" width="5.3" height="5.7" rx="1.5"/><rect x="319.1" y="390.4" width="5.3" height="5.7" rx="1.5"/><rect x="330.0" y="410.8" width="5.3" height="5.7" rx="1.5"/><rect x="373.8" y="358.2" width="5.3" height="5.7" rx="1.5"/><rect x="290.9" y="303.1" width="5.3" height="5.7" rx="1.5"/><rect x="419.1" y="336.6" width="5.3" height="5.7" rx="1.5"/><rect x="331.6" y="400.6" width="5.3" height="5.7" rx="1.5"/><rect x="373.9" y="357.0" width="5.3" height="5.7" rx="1.5"/><rect x="363.8" y="342.9" width="5.3" height="5.7" rx="1.5"/><rect x="386.8" y="391.0" width="5.3" height="5.7" rx="1.5"/><rect x="336.8" y="344.1" width="5.3" height="5.7" rx="1.5"/><rect x="344.8" y="388.1" width="5.3" height="5.7" rx="1.5"/><rect x="307.5" y="339.4" width="5.3" height="5.7" rx="1.5"/><rect x="343.4" y="411.1" width="5.3" height="5.7" rx="1.5"/><rect x="386.0" y="406.8" width="5.3" height="5.7" rx="1.5"/><rect x="348.2" y="407.1" width="5.3" height="5.7" rx="1.5"/><rect x="365.6" y="400.2" width="5.3" height="5.7" rx="1.5"/><rect x="369.2" y="365.0" width="5.3" height="5.7" rx="1.5"/><rect x="384.7" y="378.2" width="5.3" height="5.7" rx="1.5"/><rect x="362.8" y="351.1" width="5.3" height="5.7" rx="1.5"/><rect x="296.6" y="326.6" width="5.3" height="5.7" rx="1.5"/><rect x="388.6" y="332.8" width="5.3" height="5.7" rx="1.5"/><rect x="327.9" y="364.0" width="5.3" height="5.7" rx="1.5"/><rect x="361.0" y="399.0" width="5.3" height="5.7" rx="1.5"/><rect x="341.1" y="377.7" width="5.3" height="5.7" rx="1.5"/><rect x="372.7" y="375.1" width="5.3" height="5.7" rx="1.5"/><rect x="334.4" y="351.7" width="5.3" height="5.7" rx="1.5"/><rect x="314.4" y="344.9" width="5.3" height="5.7" rx="1.5"/><rect x="380.0" y="378.4" width="5.3" height="5.7" rx="1.5"/><rect x="306.1" y="351.2" width="5.3" height="5.7" rx="1.5"/><rect x="289.6" y="332.5" width="5.3" height="5.7" rx="1.5"/><rect x="362.8" y="390.3" width="5.3" height="5.7" rx="1.5"/><rect x="342.8" y="416.5" width="5.3" height="5.7" rx="1.5"/><rect x="365.2" y="361.4" width="5.3" height="5.7" rx="1.5"/><rect x="308.0" y="383.5" width="5.3" height="5.7" rx="1.5"/><rect x="296.5" y="370.5" width="5.3" height="5.7" rx="1.5"/><rect x="289.3" y="333.2" width="5.3" height="5.7" rx="1.5"/><rect x="403.0" y="343.6" width="5.3" height="5.7" rx="1.5"/><rect x="338.6" y="395.4" width="5.3" height="5.7" rx="1.5"/><rect x="364.2" y="374.3" width="5.3" height="5.7" rx="1.5"/><rect x="328.2" y="350.1" width="5.3" height="5.7" rx="1.5"/><rect x="300.9" y="401.4" width="5.3" height="5.7" rx="1.5"/><rect x="339.5" y="367.2" width="5.3" height="5.7" rx="1.5"/><rect x="318.2" y="366.6" width="5.3" height="5.7" rx="1.5"/><rect x="373.8" y="401.0" width="5.3" height="5.7" rx="1.5"/><rect x="320.8" y="335.7" width="5.3" height="5.7" rx="1.5"/><rect x="336.5" y="413.4" width="5.3" height="5.7" rx="1.5"/><rect x="321.4" y="362.3" width="5.3" height="5.7" rx="1.5"/><rect x="349.0" y="415.2" width="5.3" height="5.7" rx="1.5"/><rect x="324.1" y="353.2" width="5.3" height="5.7" rx="1.5"/><rect x="320.3" y="333.3" width="5.3" height="5.7" rx="1.5"/><rect x="329.3" y="403.9" width="5.3" height="5.7" rx="1.5"/><rect x="322.5" y="382.7" width="5.3" height="5.7" rx="1.5"/><rect x="316.7" y="384.1" width="5.3" height="5.7" rx="1.5"/><rect x="326.6" y="306.3" width="5.3" height="5.7" rx="1.5"/><rect x="365.8" y="370.0" width="5.3" height="5.7" rx="1.5"/><rect x="329.7" y="364.5" width="5.3" height="5.7" rx="1.5"/><rect x="336.2" y="367.1" width="5.3" height="5.7" rx="1.5"/><rect x="379.0" y="335.4" width="5.3" height="5.7" rx="1.5"/><rect x="319.9" y="358.0" width="5.3" height="5.7" rx="1.5"/><rect x="312.2" y="376.1" width="5.3" height="5.7" rx="1.5"/><rect x="364.7" y="397.1" width="5.3" height="5.7" rx="1.5"/><rect x="292.7" y="369.3" width="5.3" height="5.7" rx="1.5"/><rect x="390.4" y="369.8" width="5.3" height="5.7" rx="1.5"/><rect x="298.9" y="362.4" width="5.3" height="5.7" rx="1.5"/><rect x="375.6" y="318.6" width="5.3" height="5.7" rx="1.5"/><rect x="381.3" y="382.6" width="5.3" height="5.7" rx="1.5"/><rect x="405.1" y="349.8" width="5.3" height="5.7" rx="1.5"/><rect x="310.6" y="331.8" width="5.3" height="5.7" rx="1.5"/><rect x="384.0" y="332.4" width="5.3" height="5.7" rx="1.5"/><rect x="326.3" y="408.8" width="5.3" height="5.7" rx="1.5"/><rect x="320.1" y="347.8" width="5.3" height="5.7" rx="1.5"/><rect x="368.1" y="384.7" width="5.3" height="5.7" rx="1.5"/><rect x="359.5" y="360.9" width="5.3" height="5.7" rx="1.5"/><rect x="308.4" y="364.7" width="5.3" height="5.7" rx="1.5"/><rect x="338.6" y="342.2" width="5.3" height="5.7" rx="1.5"/><rect x="365.5" y="302.9" width="5.3" height="5.7" rx="1.5"/><rect x="373.1" y="376.8" width="5.3" height="5.7" rx="1.5"/><rect x="367.6" y="325.8" width="5.3" height="5.7" rx="1.5"/><rect x="388.4" y="340.0" width="5.3" height="5.7" rx="1.5"/><rect x="333.4" y="396.1" width="5.3" height="5.7" rx="1.5"/><rect x="319.6" y="392.4" width="5.3" height="5.7" rx="1.5"/><rect x="312.2" y="397.3" width="5.3" height="5.7" rx="1.5"/><rect x="325.7" y="371.9" width="5.3" height="5.7" rx="1.5"/><rect x="355.6" y="393.1" width="5.3" height="5.7" rx="1.5"/><rect x="315.0" y="389.8" width="5.3" height="5.7" rx="1.5"/><rect x="315.4" y="379.7" width="5.3" height="5.7" rx="1.5"/><rect x="391.0" y="324.4" width="5.3" height="5.7" rx="1.5"/><rect x="371.0" y="383.1" width="5.3" height="5.7" rx="1.5"/><rect x="369.4" y="397.5" width="5.3" height="5.7" rx="1.5"/><rect x="329.4" y="365.1" width="5.3" height="5.7" rx="1.5"/><rect x="381.8" y="345.7" width="5.3" height="5.7" rx="1.5"/><rect x="389.3" y="293.2" width="5.3" height="5.7" rx="1.5"/><rect x="310.8" y="361.4" width="5.3" height="5.7" rx="1.5"/><rect x="374.4" y="356.1" width="5.3" height="5.7" rx="1.5"/><rect x="403.1" y="346.0" width="5.3" height="5.7" rx="1.5"/><rect x="334.0" y="363.3" width="5.3" height="5.7" rx="1.5"/><rect x="340.0" y="363.0" width="5.3" height="5.7" rx="1.5"/><rect x="338.5" y="412.3" width="5.3" height="5.7" rx="1.5"/><rect x="334.4" y="397.7" width="5.3" height="5.7" rx="1.5"/><rect x="334.1" y="342.2" width="5.3" height="5.7" rx="1.5"/><rect x="370.8" y="342.1" width="5.3" height="5.7" rx="1.5"/><rect x="386.7" y="335.8" width="5.3" height="5.7" rx="1.5"/><rect x="324.4" y="334.9" width="5.3" height="5.7" rx="1.5"/><rect x="359.3" y="385.3" width="5.3" height="5.7" rx="1.5"/><rect x="316.9" y="393.1" width="5.3" height="5.7" rx="1.5"/><rect x="332.9" y="317.7" width="5.3" height="5.7" rx="1.5"/><rect x="363.2" y="375.7" width="5.3" height="5.7" rx="1.5"/><rect x="401.8" y="355.3" width="5.3" height="5.7" rx="1.5"/><rect x="304.5" y="306.3" width="5.3" height="5.7" rx="1.5"/><rect x="299.9" y="348.0" width="5.3" height="5.7" rx="1.5"/><rect x="329.7" y="348.9" width="5.3" height="5.7" rx="1.5"/><rect x="333.2" y="358.1" width="5.3" height="5.7" rx="1.5"/><rect x="339.8" y="383.1" width="5.3" height="5.7" rx="1.5"/><rect x="387.8" y="377.5" width="5.3" height="5.7" rx="1.5"/><rect x="298.6" y="364.4" width="5.3" height="5.7" rx="1.5"/><rect x="329.3" y="394.6" width="5.3" height="5.7" rx="1.5"/><rect x="312.1" y="398.7" width="5.3" height="5.7" rx="1.5"/><rect x="429.9" y="342.0" width="5.3" height="5.7" rx="1.5"/><rect x="304.2" y="374.3" width="5.3" height="5.7" rx="1.5"/><rect x="324.4" y="404.7" width="5.3" height="5.7" rx="1.5"/><rect x="341.8" y="352.8" width="5.3" height="5.7" rx="1.5"/><rect x="393.2" y="352.9" width="5.3" height="5.7" rx="1.5"/><rect x="335.5" y="395.8" width="5.3" height="5.7" rx="1.5"/><rect x="355.7" y="392.9" width="5.3" height="5.7" rx="1.5"/><rect x="304.9" y="397.0" width="5.3" height="5.7" rx="1.5"/><rect x="314.2" y="354.6" width="5.3" height="5.7" rx="1.5"/><rect x="380.2" y="321.3" width="5.3" height="5.7" rx="1.5"/><rect x="318.8" y="348.0" width="5.3" height="5.7" rx="1.5"/><rect x="299.7" y="383.7" width="5.3" height="5.7" rx="1.5"/><rect x="380.4" y="338.3" width="5.3" height="5.7" rx="1.5"/><rect x="316.5" y="369.7" width="5.3" height="5.7" rx="1.5"/><rect x="319.3" y="309.1" width="5.3" height="5.7" rx="1.5"/><rect x="361.4" y="393.8" width="5.3" height="5.7" rx="1.5"/><rect x="359.9" y="369.3" width="5.3" height="5.7" rx="1.5"/><rect x="359.2" y="401.0" width="5.3" height="5.7" rx="1.5"/><rect x="327.5" y="407.6" width="5.3" height="5.7" rx="1.5"/><rect x="336.6" y="368.2" width="5.3" height="5.7" rx="1.5"/><rect x="318.0" y="398.9" width="5.3" height="5.7" rx="1.5"/><rect x="296.2" y="395.0" width="5.3" height="5.7" rx="1.5"/><rect x="362.2" y="388.4" width="5.3" height="5.7" rx="1.5"/><rect x="323.9" y="342.5" width="5.3" height="5.7" rx="1.5"/><rect x="305.4" y="339.6" width="5.3" height="5.7" rx="1.5"/><rect x="363.2" y="395.2" width="5.3" height="5.7" rx="1.5"/><rect x="307.6" y="395.5" width="5.3" height="5.7" rx="1.5"/><rect x="362.4" y="330.6" width="5.3" height="5.7" rx="1.5"/><rect x="306.1" y="313.0" width="5.3" height="5.7" rx="1.5"/><rect x="401.4" y="335.9" width="5.3" height="5.7" rx="1.5"/><rect x="337.1" y="350.5" width="5.3" height="5.7" rx="1.5"/><rect x="371.0" y="334.1" width="5.3" height="5.7" rx="1.5"/><rect x="386.3" y="331.0" width="5.3" height="5.7" rx="1.5"/><rect x="329.2" y="350.7" width="5.3" height="5.7" rx="1.5"/><rect x="341.6" y="393.7" width="5.3" height="5.7" rx="1.5"/><rect x="329.5" y="354.1" width="5.3" height="5.7" rx="1.5"/><rect x="387.2" y="390.9" width="5.3" height="5.7" rx="1.5"/><rect x="360.9" y="348.7" width="5.3" height="5.7" rx="1.5"/><rect x="328.3" y="410.1" width="5.3" height="5.7" rx="1.5"/><rect x="329.7" y="336.3" width="5.3" height="5.7" rx="1.5"/><rect x="379.1" y="381.4" width="5.3" height="5.7" rx="1.5"/><rect x="338.6" y="415.6" width="5.3" height="5.7" rx="1.5"/><rect x="340.5" y="382.1" width="5.3" height="5.7" rx="1.5"/><rect x="334.9" y="377.1" width="5.3" height="5.7" rx="1.5"/><rect x="399.9" y="371.7" width="5.3" height="5.7" rx="1.5"/><rect x="417.8" y="338.4" width="5.3" height="5.7" rx="1.5"/><rect x="322.5" y="385.3" width="5.3" height="5.7" rx="1.5"/><rect x="367.0" y="377.5" width="5.3" height="5.7" rx="1.5"/><rect x="327.4" y="298.9" width="5.3" height="5.7" rx="1.5"/><rect x="334.8" y="412.1" width="5.3" height="5.7" rx="1.5"/><rect x="338.5" y="380.6" width="5.3" height="5.7" rx="1.5"/><rect x="339.3" y="354.7" width="5.3" height="5.7" rx="1.5"/><rect x="365.1" y="409.3" width="5.3" height="5.7" rx="1.5"/><rect x="365.5" y="372.4" width="5.3" height="5.7" rx="1.5"/><rect x="326.2" y="364.8" width="5.3" height="5.7" rx="1.5"/><rect x="374.0" y="365.0" width="5.3" height="5.7" rx="1.5"/><rect x="344.0" y="391.0" width="5.3" height="5.7" rx="1.5"/><rect x="326.7" y="391.8" width="5.3" height="5.7" rx="1.5"/><rect x="393.7" y="358.1" width="5.3" height="5.7" rx="1.5"/><rect x="383.3" y="372.1" width="5.3" height="5.7" rx="1.5"/><rect x="325.2" y="383.8" width="5.3" height="5.7" rx="1.5"/><rect x="385.2" y="320.4" width="5.3" height="5.7" rx="1.5"/><rect x="386.8" y="326.7" width="5.3" height="5.7" rx="1.5"/><rect x="326.0" y="392.5" width="5.3" height="5.7" rx="1.5"/><rect x="351.4" y="412.8" width="5.3" height="5.7" rx="1.5"/><rect x="321.4" y="409.1" width="5.3" height="5.7" rx="1.5"/><rect x="404.1" y="367.0" width="5.3" height="5.7" rx="1.5"/><rect x="395.4" y="361.2" width="5.3" height="5.7" rx="1.5"/><rect x="332.4" y="349.5" width="5.3" height="5.7" rx="1.5"/><rect x="357.3" y="392.6" width="5.3" height="5.7" rx="1.5"/><rect x="380.8" y="333.6" width="5.3" height="5.7" rx="1.5"/><rect x="313.6" y="382.0" width="5.3" height="5.7" rx="1.5"/><rect x="325.5" y="367.0" width="5.3" height="5.7" rx="1.5"/><rect x="313.4" y="381.2" width="5.3" height="5.7" rx="1.5"/><rect x="380.3" y="373.2" width="5.3" height="5.7" rx="1.5"/><rect x="355.5" y="387.6" width="5.3" height="5.7" rx="1.5"/><rect x="387.5" y="360.4" width="5.3" height="5.7" rx="1.5"/><rect x="374.7" y="399.1" width="5.3" height="5.7" rx="1.5"/><rect x="364.8" y="355.4" width="5.3" height="5.7" rx="1.5"/><rect x="328.2" y="350.0" width="5.3" height="5.7" rx="1.5"/><rect x="392.6" y="378.2" width="5.3" height="5.7" rx="1.5"/><rect x="318.2" y="347.7" width="5.3" height="5.7" rx="1.5"/><rect x="340.6" y="393.6" width="5.3" height="5.7" rx="1.5"/><rect x="353.6" y="398.9" width="5.3" height="5.7" rx="1.5"/><rect x="321.6" y="348.1" width="5.3" height="5.7" rx="1.5"/><rect x="331.1" y="364.1" width="5.3" height="5.7" rx="1.5"/><rect x="297.9" y="351.2" width="5.3" height="5.7" rx="1.5"/><rect x="329.7" y="351.3" width="5.3" height="5.7" rx="1.5"/><rect x="320.1" y="405.7" width="5.3" height="5.7" rx="1.5"/><rect x="409.2" y="324.1" width="5.3" height="5.7" rx="1.5"/><rect x="327.2" y="318.2" width="5.3" height="5.7" rx="1.5"/><rect x="376.3" y="387.7" width="5.3" height="5.7" rx="1.5"/><rect x="341.4" y="347.7" width="5.3" height="5.7" rx="1.5"/><rect x="326.7" y="380.3" width="5.3" height="5.7" rx="1.5"/><rect x="383.9" y="350.1" width="5.3" height="5.7" rx="1.5"/><rect x="380.0" y="333.8" width="5.3" height="5.7" rx="1.5"/><rect x="363.5" y="354.5" width="5.3" height="5.7" rx="1.5"/><rect x="373.7" y="407.4" width="5.3" height="5.7" rx="1.5"/><rect x="312.9" y="384.1" width="5.3" height="5.7" rx="1.5"/><rect x="315.2" y="326.1" width="5.3" height="5.7" rx="1.5"/><rect x="388.6" y="387.7" width="5.3" height="5.7" rx="1.5"/><rect x="315.2" y="313.4" width="5.3" height="5.7" rx="1.5"/><rect x="336.5" y="369.0" width="5.3" height="5.7" rx="1.5"/><rect x="369.3" y="344.1" width="5.3" height="5.7" rx="1.5"/><rect x="357.7" y="382.3" width="5.3" height="5.7" rx="1.5"/><rect x="318.6" y="333.5" width="5.3" height="5.7" rx="1.5"/><rect x="383.7" y="370.2" width="5.3" height="5.7" rx="1.5"/><rect x="304.5" y="336.2" width="5.3" height="5.7" rx="1.5"/><rect x="335.6" y="397.6" width="5.3" height="5.7" rx="1.5"/><rect x="285.6" y="381.0" width="5.3" height="5.7" rx="1.5"/><rect x="303.6" y="394.8" width="5.3" height="5.7" rx="1.5"/><rect x="317.1" y="338.5" width="5.3" height="5.7" rx="1.5"/><rect x="306.0" y="342.8" width="5.3" height="5.7" rx="1.5"/><rect x="370.7" y="405.3" width="5.3" height="5.7" rx="1.5"/><rect x="402.9" y="394.0" width="5.3" height="5.7" rx="1.5"/><rect x="388.3" y="355.7" width="5.3" height="5.7" rx="1.5"/><rect x="403.5" y="324.6" width="5.3" height="5.7" rx="1.5"/><rect x="345.3" y="411.5" width="5.3" height="5.7" rx="1.5"/><rect x="332.7" y="360.9" width="5.3" height="5.7" rx="1.5"/><rect x="383.4" y="406.1" width="5.3" height="5.7" rx="1.5"/><rect x="313.5" y="338.4" width="5.3" height="5.7" rx="1.5"/><rect x="396.5" y="334.5" width="5.3" height="5.7" rx="1.5"/><rect x="309.6" y="372.0" width="5.3" height="5.7" rx="1.5"/><rect x="351.3" y="418.4" width="5.3" height="5.7" rx="1.5"/><rect x="400.2" y="374.6" width="5.3" height="5.7" rx="1.5"/><rect x="363.7" y="403.8" width="5.3" height="5.7" rx="1.5"/><rect x="302.0" y="377.1" width="5.3" height="5.7" rx="1.5"/><rect x="371.9" y="339.4" width="5.3" height="5.7" rx="1.5"/><rect x="322.0" y="363.0" width="5.3" height="5.7" rx="1.5"/><rect x="333.8" y="378.9" width="5.3" height="5.7" rx="1.5"/><rect x="317.1" y="313.3" width="5.3" height="5.7" rx="1.5"/><rect x="303.4" y="383.3" width="5.3" height="5.7" rx="1.5"/><rect x="298.8" y="357.5" width="5.3" height="5.7" rx="1.5"/><rect x="367.0" y="341.7" width="5.3" height="5.7" rx="1.5"/><rect x="353.2" y="407.6" width="5.3" height="5.7" rx="1.5"/><rect x="333.9" y="353.2" width="5.3" height="5.7" rx="1.5"/><rect x="307.9" y="366.4" width="5.3" height="5.7" rx="1.5"/><rect x="332.4" y="387.4" width="5.3" height="5.7" rx="1.5"/><rect x="316.3" y="392.5" width="5.3" height="5.7" rx="1.5"/><rect x="310.4" y="382.4" width="5.3" height="5.7" rx="1.5"/><rect x="384.1" y="346.3" width="5.3" height="5.7" rx="1.5"/><rect x="379.5" y="377.0" width="5.3" height="5.7" rx="1.5"/><rect x="307.0" y="390.2" width="5.3" height="5.7" rx="1.5"/><rect x="290.4" y="366.0" width="5.3" height="5.7" rx="1.5"/><rect x="298.4" y="335.4" width="5.3" height="5.7" rx="1.5"/><rect x="320.0" y="306.6" width="5.3" height="5.7" rx="1.5"/><rect x="369.5" y="358.5" width="5.3" height="5.7" rx="1.5"/><rect x="305.1" y="388.0" width="5.3" height="5.7" rx="1.5"/><rect x="332.5" y="391.2" width="5.3" height="5.7" rx="1.5"/><rect x="384.8" y="359.8" width="5.3" height="5.7" rx="1.5"/><rect x="317.5" y="395.8" width="5.3" height="5.7" rx="1.5"/><rect x="340.7" y="373.0" width="5.3" height="5.7" rx="1.5"/><rect x="339.9" y="385.8" width="5.3" height="5.7" rx="1.5"/><rect x="366.1" y="375.2" width="5.3" height="5.7" rx="1.5"/><rect x="353.2" y="414.6" width="5.3" height="5.7" rx="1.5"/><rect x="371.8" y="394.7" width="5.3" height="5.7" rx="1.5"/><rect x="321.3" y="372.9" width="5.3" height="5.7" rx="1.5"/><rect x="349.8" y="416.4" width="5.3" height="5.7" rx="1.5"/><rect x="330.1" y="372.7" width="5.3" height="5.7" rx="1.5"/><rect x="308.7" y="339.0" width="5.3" height="5.7" rx="1.5"/><rect x="341.6" y="357.9" width="5.3" height="5.7" rx="1.5"/><rect x="299.7" y="341.7" width="5.3" height="5.7" rx="1.5"/><rect x="388.6" y="360.5" width="5.3" height="5.7" rx="1.5"/><rect x="367.4" y="318.6" width="5.3" height="5.7" rx="1.5"/><rect x="342.8" y="367.6" width="5.3" height="5.7" rx="1.5"/><rect x="363.1" y="365.8" width="5.3" height="5.7" rx="1.5"/><rect x="368.2" y="325.6" width="5.3" height="5.7" rx="1.5"/><rect x="376.5" y="354.6" width="5.3" height="5.7" rx="1.5"/><rect x="388.2" y="342.4" width="5.3" height="5.7" rx="1.5"/><rect x="333.0" y="323.1" width="5.3" height="5.7" rx="1.5"/><rect x="387.8" y="389.9" width="5.3" height="5.7" rx="1.5"/><rect x="340.9" y="354.8" width="5.3" height="5.7" rx="1.5"/><rect x="384.7" y="397.2" width="5.3" height="5.7" rx="1.5"/><rect x="323.9" y="340.9" width="5.3" height="5.7" rx="1.5"/><rect x="368.0" y="366.5" width="5.3" height="5.7" rx="1.5"/><rect x="334.7" y="375.9" width="5.3" height="5.7" rx="1.5"/><rect x="368.2" y="363.2" width="5.3" height="5.7" rx="1.5"/><rect x="380.1" y="381.6" width="5.3" height="5.7" rx="1.5"/><rect x="408.8" y="361.0" width="5.3" height="5.7" rx="1.5"/><rect x="335.6" y="401.8" width="5.3" height="5.7" rx="1.5"/><rect x="370.3" y="385.8" width="5.3" height="5.7" rx="1.5"/><rect x="382.0" y="397.2" width="5.3" height="5.7" rx="1.5"/><rect x="341.4" y="350.8" width="5.3" height="5.7" rx="1.5"/><rect x="286.3" y="381.7" width="5.3" height="5.7" rx="1.5"/><rect x="312.8" y="387.6" width="5.3" height="5.7" rx="1.5"/><rect x="323.7" y="323.2" width="5.3" height="5.7" rx="1.5"/><rect x="377.3" y="333.9" width="5.3" height="5.7" rx="1.5"/><rect x="327.8" y="366.3" width="5.3" height="5.7" rx="1.5"/><rect x="324.0" y="410.6" width="5.3" height="5.7" rx="1.5"/><rect x="337.1" y="341.5" width="5.3" height="5.7" rx="1.5"/><rect x="388.1" y="371.3" width="5.3" height="5.7" rx="1.5"/><rect x="370.9" y="378.7" width="5.3" height="5.7" rx="1.5"/><rect x="363.2" y="401.6" width="5.3" height="5.7" rx="1.5"/><rect x="381.4" y="358.8" width="5.3" height="5.7" rx="1.5"/><rect x="323.2" y="386.3" width="5.3" height="5.7" rx="1.5"/><rect x="334.2" y="395.8" width="5.3" height="5.7" rx="1.5"/><rect x="396.6" y="375.7" width="5.3" height="5.7" rx="1.5"/><rect x="389.3" y="289.7" width="5.3" height="5.7" rx="1.5"/><rect x="334.3" y="409.3" width="5.3" height="5.7" rx="1.5"/><rect x="387.8" y="347.5" width="5.3" height="5.7" rx="1.5"/><rect x="368.2" y="405.4" width="5.3" height="5.7" rx="1.5"/><rect x="365.2" y="393.5" width="5.3" height="5.7" rx="1.5"/><rect x="387.4" y="377.7" width="5.3" height="5.7" rx="1.5"/><rect x="302.9" y="339.0" width="5.3" height="5.7" rx="1.5"/><rect x="365.9" y="360.7" width="5.3" height="5.7" rx="1.5"/><rect x="337.6" y="334.4" width="5.3" height="5.7" rx="1.5"/><rect x="385.3" y="351.0" width="5.3" height="5.7" rx="1.5"/><rect x="383.0" y="375.2" width="5.3" height="5.7" rx="1.5"/><rect x="339.0" y="386.6" width="5.3" height="5.7" rx="1.5"/><rect x="330.7" y="387.1" width="5.3" height="5.7" rx="1.5"/><rect x="330.9" y="338.9" width="5.3" height="5.7" rx="1.5"/><rect x="287.5" y="336.4" width="5.3" height="5.7" rx="1.5"/><rect x="364.3" y="396.0" width="5.3" height="5.7" rx="1.5"/><rect x="384.7" y="386.6" width="5.3" height="5.7" rx="1.5"/><rect x="328.2" y="397.8" width="5.3" height="5.7" rx="1.5"/><rect x="374.4" y="393.9" width="5.3" height="5.7" rx="1.5"/><rect x="374.8" y="400.2" width="5.3" height="5.7" rx="1.5"/><rect x="383.4" y="398.6" width="5.3" height="5.7" rx="1.5"/><rect x="317.0" y="364.4" width="5.3" height="5.7" rx="1.5"/><rect x="317.7" y="359.3" width="5.3" height="5.7" rx="1.5"/><rect x="383.8" y="362.4" width="5.3" height="5.7" rx="1.5"/><rect x="330.8" y="363.8" width="5.3" height="5.7" rx="1.5"/><rect x="374.5" y="381.7" width="5.3" height="5.7" rx="1.5"/><rect x="383.9" y="351.8" width="5.3" height="5.7" rx="1.5"/><rect x="324.6" y="357.2" width="5.3" height="5.7" rx="1.5"/><rect x="396.4" y="400.8" width="5.3" height="5.7" rx="1.5"/><rect x="371.5" y="349.7" width="5.3" height="5.7" rx="1.5"/><rect x="304.5" y="361.4" width="5.3" height="5.7" rx="1.5"/><rect x="357.7" y="392.1" width="5.3" height="5.7" rx="1.5"/><rect x="285.2" y="341.0" width="5.3" height="5.7" rx="1.5"/><rect x="324.3" y="357.8" width="5.3" height="5.7" rx="1.5"/><rect x="334.5" y="329.8" width="5.3" height="5.7" rx="1.5"/><rect x="339.2" y="381.8" width="5.3" height="5.7" rx="1.5"/><rect x="305.1" y="381.1" width="5.3" height="5.7" rx="1.5"/><rect x="387.5" y="396.1" width="5.3" height="5.7" rx="1.5"/><rect x="359.7" y="358.0" width="5.3" height="5.7" rx="1.5"/><rect x="322.6" y="329.9" width="5.3" height="5.7" rx="1.5"/><rect x="389.7" y="392.0" width="5.3" height="5.7" rx="1.5"/><rect x="304.6" y="313.2" width="5.3" height="5.7" rx="1.5"/><rect x="368.7" y="374.6" width="5.3" height="5.7" rx="1.5"/><rect x="339.5" y="395.8" width="5.3" height="5.7" rx="1.5"/><rect x="331.2" y="397.5" width="5.3" height="5.7" rx="1.5"/><rect x="332.5" y="322.1" width="5.3" height="5.7" rx="1.5"/><rect x="363.3" y="327.6" width="5.3" height="5.7" rx="1.5"/><rect x="342.2" y="406.0" width="5.3" height="5.7" rx="1.5"/><rect x="306.4" y="382.5" width="5.3" height="5.7" rx="1.5"/><rect x="406.0" y="374.4" width="5.3" height="5.7" rx="1.5"/><rect x="392.8" y="347.2" width="5.3" height="5.7" rx="1.5"/><rect x="335.5" y="406.8" width="5.3" height="5.7" rx="1.5"/><rect x="351.2" y="407.3" width="5.3" height="5.7" rx="1.5"/><rect x="363.1" y="356.4" width="5.3" height="5.7" rx="1.5"/><rect x="315.7" y="338.7" width="5.3" height="5.7" rx="1.5"/><rect x="310.4" y="352.1" width="5.3" height="5.7" rx="1.5"/><rect x="335.7" y="376.8" width="5.3" height="5.7" rx="1.5"/><rect x="369.3" y="340.3" width="5.3" height="5.7" rx="1.5"/><rect x="364.4" y="414.8" width="5.3" height="5.7" rx="1.5"/><rect x="366.0" y="390.9" width="5.3" height="5.7" rx="1.5"/><rect x="321.3" y="399.6" width="5.3" height="5.7" rx="1.5"/><rect x="379.5" y="356.7" width="5.3" height="5.7" rx="1.5"/><rect x="313.2" y="368.3" width="5.3" height="5.7" rx="1.5"/><rect x="382.6" y="396.7" width="5.3" height="5.7" rx="1.5"/><rect x="370.6" y="337.9" width="5.3" height="5.7" rx="1.5"/><rect x="337.4" y="354.2" width="5.3" height="5.7" rx="1.5"/><rect x="373.9" y="335.3" width="5.3" height="5.7" rx="1.5"/><rect x="366.5" y="370.8" width="5.3" height="5.7" rx="1.5"/><rect x="329.3" y="411.6" width="5.3" height="5.7" rx="1.5"/><rect x="376.3" y="379.5" width="5.3" height="5.7" rx="1.5"/><rect x="337.9" y="354.3" width="5.3" height="5.7" rx="1.5"/><rect x="374.4" y="384.6" width="5.3" height="5.7" rx="1.5"/><rect x="327.5" y="345.7" width="5.3" height="5.7" rx="1.5"/><rect x="329.1" y="290.6" width="5.3" height="5.7" rx="1.5"/><rect x="384.8" y="356.3" width="5.3" height="5.7" rx="1.5"/><rect x="363.2" y="416.7" width="5.3" height="5.7" rx="1.5"/><rect x="376.7" y="380.7" width="5.3" height="5.7" rx="1.5"/><rect x="323.7" y="398.9" width="5.3" height="5.7" rx="1.5"/><rect x="298.0" y="339.1" width="5.3" height="5.7" rx="1.5"/><rect x="341.2" y="402.8" width="5.3" height="5.7" rx="1.5"/><rect x="314.0" y="339.8" width="5.3" height="5.7" rx="1.5"/><rect x="324.6" y="326.5" width="5.3" height="5.7" rx="1.5"/><rect x="310.8" y="350.9" width="5.3" height="5.7" rx="1.5"/><rect x="315.9" y="356.6" width="5.3" height="5.7" rx="1.5"/><rect x="357.6" y="401.2" width="5.3" height="5.7" rx="1.5"/><rect x="313.8" y="360.6" width="5.3" height="5.7" rx="1.5"/><rect x="320.6" y="373.5" width="5.3" height="5.7" rx="1.5"/><rect x="375.8" y="392.8" width="5.3" height="5.7" rx="1.5"/><rect x="382.2" y="383.3" width="5.3" height="5.7" rx="1.5"/><rect x="377.9" y="401.0" width="5.3" height="5.7" rx="1.5"/><rect x="353.2" y="402.0" width="5.3" height="5.7" rx="1.5"/><rect x="402.6" y="366.8" width="5.3" height="5.7" rx="1.5"/><rect x="299.0" y="318.3" width="5.3" height="5.7" rx="1.5"/><rect x="383.3" y="361.1" width="5.3" height="5.7" rx="1.5"/><rect x="331.1" y="401.7" width="5.3" height="5.7" rx="1.5"/><rect x="345.4" y="391.0" width="5.3" height="5.7" rx="1.5"/><rect x="310.6" y="408.9" width="5.3" height="5.7" rx="1.5"/><rect x="372.5" y="372.4" width="5.3" height="5.7" rx="1.5"/><rect x="309.4" y="362.7" width="5.3" height="5.7" rx="1.5"/><rect x="338.6" y="394.4" width="5.3" height="5.7" rx="1.5"/><rect x="376.4" y="391.7" width="5.3" height="5.7" rx="1.5"/><rect x="377.3" y="387.9" width="5.3" height="5.7" rx="1.5"/><rect x="372.7" y="313.6" width="5.3" height="5.7" rx="1.5"/><rect x="320.8" y="395.8" width="5.3" height="5.7" rx="1.5"/><rect x="363.6" y="343.3" width="5.3" height="5.7" rx="1.5"/><rect x="320.7" y="315.8" width="5.3" height="5.7" rx="1.5"/><rect x="375.3" y="386.0" width="5.3" height="5.7" rx="1.5"/><rect x="338.5" y="373.1" width="5.3" height="5.7" rx="1.5"/><rect x="386.0" y="336.5" width="5.3" height="5.7" rx="1.5"/><rect x="364.2" y="415.5" width="5.3" height="5.7" rx="1.5"/><rect x="308.1" y="389.9" width="5.3" height="5.7" rx="1.5"/><rect x="384.4" y="391.8" width="5.3" height="5.7" rx="1.5"/><rect x="348.8" y="416.8" width="5.3" height="5.7" rx="1.5"/><rect x="402.0" y="354.3" width="5.3" height="5.7" rx="1.5"/><rect x="357.8" y="411.1" width="5.3" height="5.7" rx="1.5"/><rect x="363.9" y="363.1" width="5.3" height="5.7" rx="1.5"/><rect x="319.5" y="351.0" width="5.3" height="5.7" rx="1.5"/><rect x="365.3" y="410.1" width="5.3" height="5.7" rx="1.5"/><rect x="373.2" y="394.3" width="5.3" height="5.7" rx="1.5"/><rect x="393.6" y="359.2" width="5.3" height="5.7" rx="1.5"/><rect x="296.3" y="362.1" width="5.3" height="5.7" rx="1.5"/><rect x="336.3" y="374.7" width="5.3" height="5.7" rx="1.5"/><rect x="377.2" y="321.6" width="5.3" height="5.7" rx="1.5"/><rect x="323.0" y="357.0" width="5.3" height="5.7" rx="1.5"/><rect x="370.5" y="374.4" width="5.3" height="5.7" rx="1.5"/><rect x="380.2" y="342.1" width="5.3" height="5.7" rx="1.5"/><rect x="366.8" y="412.6" width="5.3" height="5.7" rx="1.5"/><rect x="325.4" y="393.5" width="5.3" height="5.7" rx="1.5"/><rect x="358.2" y="360.9" width="5.3" height="5.7" rx="1.5"/><rect x="373.7" y="409.0" width="5.3" height="5.7" rx="1.5"/><rect x="303.6" y="348.4" width="5.3" height="5.7" rx="1.5"/><rect x="353.4" y="407.4" width="5.3" height="5.7" rx="1.5"/><rect x="331.7" y="397.2" width="5.3" height="5.7" rx="1.5"/><rect x="375.0" y="344.6" width="5.3" height="5.7" rx="1.5"/><rect x="334.1" y="399.8" width="5.3" height="5.7" rx="1.5"/><rect x="303.9" y="391.2" width="5.3" height="5.7" rx="1.5"/><rect x="329.3" y="369.9" width="5.3" height="5.7" rx="1.5"/><rect x="383.7" y="351.2" width="5.3" height="5.7" rx="1.5"/><rect x="325.7" y="393.0" width="5.3" height="5.7" rx="1.5"/><rect x="290.9" y="312.2" width="5.3" height="5.7" rx="1.5"/><rect x="344.1" y="410.6" width="5.3" height="5.7" rx="1.5"/><rect x="307.4" y="371.8" width="5.3" height="5.7" rx="1.5"/><rect x="337.4" y="372.7" width="5.3" height="5.7" rx="1.5"/><rect x="312.7" y="377.9" width="5.3" height="5.7" rx="1.5"/><rect x="308.9" y="361.0" width="5.3" height="5.7" rx="1.5"/><rect x="380.2" y="401.9" width="5.3" height="5.7" rx="1.5"/><rect x="335.4" y="319.7" width="5.3" height="5.7" rx="1.5"/><rect x="309.5" y="376.6" width="5.3" height="5.7" rx="1.5"/><rect x="320.2" y="382.1" width="5.3" height="5.7" rx="1.5"/><rect x="362.6" y="333.3" width="5.3" height="5.7" rx="1.5"/><rect x="333.5" y="330.2" width="5.3" height="5.7" rx="1.5"/><rect x="338.4" y="394.7" width="5.3" height="5.7" rx="1.5"/><rect x="392.7" y="320.8" width="5.3" height="5.7" rx="1.5"/><rect x="304.2" y="372.7" width="5.3" height="5.7" rx="1.5"/><rect x="404.5" y="349.4" width="5.3" height="5.7" rx="1.5"/><rect x="329.4" y="354.1" width="5.3" height="5.7" rx="1.5"/><rect x="314.6" y="363.7" width="5.3" height="5.7" rx="1.5"/><rect x="332.4" y="345.3" width="5.3" height="5.7" rx="1.5"/><rect x="337.7" y="406.0" width="5.3" height="5.7" rx="1.5"/><rect x="338.3" y="377.8" width="5.3" height="5.7" rx="1.5"/><rect x="369.8" y="406.5" width="5.3" height="5.7" rx="1.5"/><rect x="393.3" y="348.6" width="5.3" height="5.7" rx="1.5"/><rect x="345.7" y="401.6" width="5.3" height="5.7" rx="1.5"/><rect x="326.4" y="412.8" width="5.3" height="5.7" rx="1.5"/><rect x="329.0" y="377.1" width="5.3" height="5.7" rx="1.5"/><rect x="329.1" y="295.5" width="5.3" height="5.7" rx="1.5"/><rect x="354.9" y="418.0" width="5.3" height="5.7" rx="1.5"/><rect x="307.7" y="405.0" width="5.3" height="5.7" rx="1.5"/><rect x="284.1" y="397.0" width="5.3" height="5.7" rx="1.5"/><rect x="312.4" y="399.7" width="5.3" height="5.7" rx="1.5"/><rect x="392.1" y="395.6" width="5.3" height="5.7" rx="1.5"/><rect x="362.3" y="404.4" width="5.3" height="5.7" rx="1.5"/><rect x="323.4" y="370.3" width="5.3" height="5.7" rx="1.5"/><rect x="406.0" y="315.0" width="5.3" height="5.7" rx="1.5"/><rect x="362.4" y="390.6" width="5.3" height="5.7" rx="1.5"/><rect x="364.8" y="388.4" width="5.3" height="5.7" rx="1.5"/><rect x="313.2" y="355.9" width="5.3" height="5.7" rx="1.5"/><rect x="348.3" y="417.7" width="5.3" height="5.7" rx="1.5"/><rect x="313.0" y="363.7" width="5.3" height="5.7" rx="1.5"/><rect x="391.5" y="404.4" width="5.3" height="5.7" rx="1.5"/><rect x="382.2" y="403.1" width="5.3" height="5.7" rx="1.5"/><rect x="372.6" y="412.7" width="5.3" height="5.7" rx="1.5"/><rect x="378.2" y="344.1" width="5.3" height="5.7" rx="1.5"/><rect x="327.2" y="357.6" width="5.3" height="5.7" rx="1.5"/><rect x="295.8" y="303.5" width="5.3" height="5.7" rx="1.5"/><rect x="318.4" y="316.0" width="5.3" height="5.7" rx="1.5"/><rect x="368.2" y="376.5" width="5.3" height="5.7" rx="1.5"/><rect x="306.2" y="403.8" width="5.3" height="5.7" rx="1.5"/><rect x="381.5" y="373.1" width="5.3" height="5.7" rx="1.5"/><rect x="394.6" y="381.4" width="5.3" height="5.7" rx="1.5"/><rect x="305.9" y="376.8" width="5.3" height="5.7" rx="1.5"/><rect x="378.1" y="329.9" width="5.3" height="5.7" rx="1.5"/><rect x="313.2" y="362.1" width="5.3" height="5.7" rx="1.5"/><rect x="332.6" y="362.0" width="5.3" height="5.7" rx="1.5"/><rect x="367.9" y="351.1" width="5.3" height="5.7" rx="1.5"/><rect x="334.1" y="370.1" width="5.3" height="5.7" rx="1.5"/><rect x="337.6" y="370.0" width="5.3" height="5.7" rx="1.5"/><rect x="305.6" y="303.9" width="5.3" height="5.7" rx="1.5"/><rect x="366.1" y="372.8" width="5.3" height="5.7" rx="1.5"/><rect x="333.4" y="310.5" width="5.3" height="5.7" rx="1.5"/><rect x="307.8" y="328.4" width="5.3" height="5.7" rx="1.5"/><rect x="388.0" y="371.7" width="5.3" height="5.7" rx="1.5"/><rect x="318.2" y="329.0" width="5.3" height="5.7" rx="1.5"/><rect x="393.3" y="344.7" width="5.3" height="5.7" rx="1.5"/><rect x="310.3" y="378.3" width="5.3" height="5.7" rx="1.5"/><rect x="345.5" y="415.8" width="5.3" height="5.7" rx="1.5"/><rect x="321.8" y="354.0" width="5.3" height="5.7" rx="1.5"/><rect x="361.6" y="365.5" width="5.3" height="5.7" rx="1.5"/><rect x="388.8" y="331.1" width="5.3" height="5.7" rx="1.5"/><rect x="319.0" y="387.8" width="5.3" height="5.7" rx="1.5"/><rect x="377.5" y="348.3" width="5.3" height="5.7" rx="1.5"/><rect x="379.7" y="366.6" width="5.3" height="5.7" rx="1.5"/><rect x="367.1" y="403.6" width="5.3" height="5.7" rx="1.5"/><rect x="306.1" y="371.2" width="5.3" height="5.7" rx="1.5"/><rect x="385.8" y="387.9" width="5.3" height="5.7" rx="1.5"/><rect x="346.3" y="395.9" width="5.3" height="5.7" rx="1.5"/><rect x="355.8" y="384.3" width="5.3" height="5.7" rx="1.5"/><rect x="371.3" y="408.3" width="5.3" height="5.7" rx="1.5"/><rect x="379.2" y="354.0" width="5.3" height="5.7" rx="1.5"/><rect x="299.5" y="311.9" width="5.3" height="5.7" rx="1.5"/><rect x="293.4" y="381.7" width="5.3" height="5.7" rx="1.5"/><rect x="314.6" y="354.3" width="5.3" height="5.7" rx="1.5"/><rect x="300.3" y="328.2" width="5.3" height="5.7" rx="1.5"/><rect x="382.6" y="325.2" width="5.3" height="5.7" rx="1.5"/><rect x="397.6" y="371.3" width="5.3" height="5.7" rx="1.5"/><rect x="343.2" y="402.2" width="5.3" height="5.7" rx="1.5"/><rect x="339.7" y="364.7" width="5.3" height="5.7" rx="1.5"/><rect x="372.7" y="293.2" width="5.3" height="5.7" rx="1.5"/><rect x="367.6" y="391.2" width="5.3" height="5.7" rx="1.5"/><rect x="375.4" y="402.5" width="5.3" height="5.7" rx="1.5"/><rect x="360.4" y="347.3" width="5.3" height="5.7" rx="1.5"/><rect x="315.9" y="352.5" width="5.3" height="5.7" rx="1.5"/><rect x="371.4" y="395.2" width="5.3" height="5.7" rx="1.5"/><rect x="376.6" y="339.9" width="5.3" height="5.7" rx="1.5"/><rect x="372.0" y="331.3" width="5.3" height="5.7" rx="1.5"/><rect x="295.9" y="350.4" width="5.3" height="5.7" rx="1.5"/><rect x="328.9" y="355.3" width="5.3" height="5.7" rx="1.5"/><rect x="374.9" y="365.1" width="5.3" height="5.7" rx="1.5"/><rect x="332.9" y="385.8" width="5.3" height="5.7" rx="1.5"/><rect x="326.2" y="323.4" width="5.3" height="5.7" rx="1.5"/><rect x="333.9" y="378.7" width="5.3" height="5.7" rx="1.5"/><rect x="375.7" y="384.2" width="5.3" height="5.7" rx="1.5"/><rect x="310.9" y="333.8" width="5.3" height="5.7" rx="1.5"/><rect x="330.3" y="372.8" width="5.3" height="5.7" rx="1.5"/><rect x="384.1" y="391.6" width="5.3" height="5.7" rx="1.5"/><rect x="370.0" y="359.9" width="5.3" height="5.7" rx="1.5"/><rect x="398.4" y="370.6" width="5.3" height="5.7" rx="1.5"/><rect x="361.3" y="399.8" width="5.3" height="5.7" rx="1.5"/><rect x="372.2" y="354.2" width="5.3" height="5.7" rx="1.5"/><rect x="338.7" y="356.5" width="5.3" height="5.7" rx="1.5"/><rect x="326.1" y="377.8" width="5.3" height="5.7" rx="1.5"/><rect x="335.8" y="353.8" width="5.3" height="5.7" rx="1.5"/><rect x="337.2" y="398.9" width="5.3" height="5.7" rx="1.5"/><rect x="309.0" y="375.2" width="5.3" height="5.7" rx="1.5"/><rect x="363.5" y="349.6" width="5.3" height="5.7" rx="1.5"/><rect x="315.0" y="380.5" width="5.3" height="5.7" rx="1.5"/><rect x="398.3" y="372.8" width="5.3" height="5.7" rx="1.5"/><rect x="368.3" y="350.2" width="5.3" height="5.7" rx="1.5"/><rect x="361.1" y="373.2" width="5.3" height="5.7" rx="1.5"/><rect x="342.5" y="373.4" width="5.3" height="5.7" rx="1.5"/><rect x="320.8" y="397.4" width="5.3" height="5.7" rx="1.5"/><rect x="358.2" y="360.5" width="5.3" height="5.7" rx="1.5"/><rect x="317.4" y="360.7" width="5.3" height="5.7" rx="1.5"/><rect x="304.0" y="377.8" width="5.3" height="5.7" rx="1.5"/><rect x="376.8" y="399.0" width="5.3" height="5.7" rx="1.5"/><rect x="300.4" y="382.0" width="5.3" height="5.7" rx="1.5"/><rect x="401.5" y="348.0" width="5.3" height="5.7" rx="1.5"/><rect x="339.9" y="369.5" width="5.3" height="5.7" rx="1.5"/><rect x="385.4" y="347.0" width="5.3" height="5.7" rx="1.5"/><rect x="324.2" y="338.9" width="5.3" height="5.7" rx="1.5"/><rect x="357.0" y="381.7" width="5.3" height="5.7" rx="1.5"/><rect x="394.9" y="377.4" width="5.3" height="5.7" rx="1.5"/><rect x="391.8" y="349.0" width="5.3" height="5.7" rx="1.5"/><rect x="340.4" y="349.6" width="5.3" height="5.7" rx="1.5"/><rect x="331.3" y="372.2" width="5.3" height="5.7" rx="1.5"/><rect x="297.2" y="304.4" width="5.3" height="5.7" rx="1.5"/><rect x="386.6" y="299.3" width="5.3" height="5.7" rx="1.5"/><rect x="334.6" y="332.8" width="5.3" height="5.7" rx="1.5"/><rect x="364.0" y="386.6" width="5.3" height="5.7" rx="1.5"/><rect x="407.6" y="366.4" width="5.3" height="5.7" rx="1.5"/><rect x="361.0" y="384.2" width="5.3" height="5.7" rx="1.5"/><rect x="388.8" y="346.1" width="5.3" height="5.7" rx="1.5"/><rect x="410.8" y="364.3" width="5.3" height="5.7" rx="1.5"/><rect x="316.5" y="329.6" width="5.3" height="5.7" rx="1.5"/><rect x="303.6" y="367.2" width="5.3" height="5.7" rx="1.5"/><rect x="315.8" y="385.1" width="5.3" height="5.7" rx="1.5"/><rect x="360.0" y="390.2" width="5.3" height="5.7" rx="1.5"/><rect x="378.5" y="354.4" width="5.3" height="5.7" rx="1.5"/><rect x="383.9" y="367.1" width="5.3" height="5.7" rx="1.5"/><rect x="369.6" y="364.5" width="5.3" height="5.7" rx="1.5"/><rect x="334.8" y="363.1" width="5.3" height="5.7" rx="1.5"/><rect x="392.6" y="378.9" width="5.3" height="5.7" rx="1.5"/><rect x="318.6" y="393.8" width="5.3" height="5.7" rx="1.5"/><rect x="364.4" y="410.0" width="5.3" height="5.7" rx="1.5"/><rect x="382.4" y="366.2" width="5.3" height="5.7" rx="1.5"/><rect x="313.5" y="329.9" width="5.3" height="5.7" rx="1.5"/><rect x="366.9" y="397.9" width="5.3" height="5.7" rx="1.5"/><rect x="385.5" y="376.1" width="5.3" height="5.7" rx="1.5"/><rect x="382.2" y="400.2" width="5.3" height="5.7" rx="1.5"/><rect x="341.6" y="398.1" width="5.3" height="5.7" rx="1.5"/><rect x="410.3" y="376.5" width="5.3" height="5.7" rx="1.5"/><rect x="338.2" y="404.3" width="5.3" height="5.7" rx="1.5"/><rect x="370.9" y="369.1" width="5.3" height="5.7" rx="1.5"/><rect x="378.8" y="338.4" width="5.3" height="5.7" rx="1.5"/><rect x="380.9" y="355.5" width="5.3" height="5.7" rx="1.5"/><rect x="385.4" y="395.0" width="5.3" height="5.7" rx="1.5"/><rect x="303.0" y="309.2" width="5.3" height="5.7" rx="1.5"/><rect x="301.6" y="380.5" width="5.3" height="5.7" rx="1.5"/><rect x="388.7" y="350.0" width="5.3" height="5.7" rx="1.5"/><rect x="374.0" y="346.5" width="5.3" height="5.7" rx="1.5"/><rect x="309.7" y="331.6" width="5.3" height="5.7" rx="1.5"/><rect x="365.4" y="399.3" width="5.3" height="5.7" rx="1.5"/><rect x="299.1" y="307.7" width="5.3" height="5.7" rx="1.5"/><rect x="321.3" y="381.6" width="5.3" height="5.7" rx="1.5"/><rect x="328.9" y="336.4" width="5.3" height="5.7" rx="1.5"/><rect x="330.9" y="389.0" width="5.3" height="5.7" rx="1.5"/><rect x="332.6" y="323.8" width="5.3" height="5.7" rx="1.5"/><rect x="295.6" y="377.0" width="5.3" height="5.7" rx="1.5"/><rect x="298.7" y="340.4" width="5.3" height="5.7" rx="1.5"/><rect x="326.7" y="356.1" width="5.3" height="5.7" rx="1.5"/><rect x="399.8" y="337.4" width="5.3" height="5.7" rx="1.5"/><rect x="326.9" y="384.3" width="5.3" height="5.7" rx="1.5"/><rect x="336.4" y="371.2" width="5.3" height="5.7" rx="1.5"/><rect x="389.7" y="375.3" width="5.3" height="5.7" rx="1.5"/><rect x="324.3" y="343.1" width="5.3" height="5.7" rx="1.5"/><rect x="395.0" y="394.0" width="5.3" height="5.7" rx="1.5"/><rect x="418.9" y="384.2" width="5.3" height="5.7" rx="1.5"/><rect x="345.9" y="394.9" width="5.3" height="5.7" rx="1.5"/><rect x="374.8" y="339.7" width="5.3" height="5.7" rx="1.5"/><rect x="361.6" y="358.1" width="5.3" height="5.7" rx="1.5"/><rect x="389.2" y="332.6" width="5.3" height="5.7" rx="1.5"/><rect x="344.5" y="398.8" width="5.3" height="5.7" rx="1.5"/><rect x="374.1" y="370.6" width="5.3" height="5.7" rx="1.5"/><rect x="324.3" y="315.1" width="5.3" height="5.7" rx="1.5"/><rect x="303.9" y="394.1" width="5.3" height="5.7" rx="1.5"/><rect x="318.9" y="397.7" width="5.3" height="5.7" rx="1.5"/><rect x="370.5" y="346.2" width="5.3" height="5.7" rx="1.5"/><rect x="336.6" y="382.3" width="5.3" height="5.7" rx="1.5"/><rect x="365.9" y="311.7" width="5.3" height="5.7" rx="1.5"/><rect x="327.7" y="328.4" width="5.3" height="5.7" rx="1.5"/><rect x="312.2" y="356.9" width="5.3" height="5.7" rx="1.5"/><rect x="378.6" y="342.2" width="5.3" height="5.7" rx="1.5"/><rect x="374.6" y="402.1" width="5.3" height="5.7" rx="1.5"/><rect x="382.8" y="308.5" width="5.3" height="5.7" rx="1.5"/><rect x="378.0" y="341.5" width="5.3" height="5.7" rx="1.5"/><rect x="352.7" y="415.4" width="5.3" height="5.7" rx="1.5"/><rect x="313.8" y="334.9" width="5.3" height="5.7" rx="1.5"/><rect x="303.2" y="393.1" width="5.3" height="5.7" rx="1.5"/><rect x="334.6" y="390.6" width="5.3" height="5.7" rx="1.5"/><rect x="328.7" y="357.2" width="5.3" height="5.7" rx="1.5"/><rect x="379.2" y="380.9" width="5.3" height="5.7" rx="1.5"/><rect x="365.6" y="396.1" width="5.3" height="5.7" rx="1.5"/><rect x="342.4" y="378.7" width="5.3" height="5.7" rx="1.5"/><rect x="368.9" y="338.0" width="5.3" height="5.7" rx="1.5"/><rect x="329.7" y="356.4" width="5.3" height="5.7" rx="1.5"/><rect x="318.6" y="362.9" width="5.3" height="5.7" rx="1.5"/><rect x="320.4" y="341.5" width="5.3" height="5.7" rx="1.5"/><rect x="359.7" y="393.0" width="5.3" height="5.7" rx="1.5"/><rect x="309.2" y="335.8" width="5.3" height="5.7" rx="1.5"/><rect x="379.8" y="395.1" width="5.3" height="5.7" rx="1.5"/><rect x="361.3" y="357.5" width="5.3" height="5.7" rx="1.5"/><rect x="387.2" y="387.3" width="5.3" height="5.7" rx="1.5"/><rect x="386.7" y="373.6" width="5.3" height="5.7" rx="1.5"/><rect x="311.0" y="388.8" width="5.3" height="5.7" rx="1.5"/><rect x="360.0" y="356.9" width="5.3" height="5.7" rx="1.5"/><rect x="366.3" y="324.2" width="5.3" height="5.7" rx="1.5"/><rect x="376.1" y="403.4" width="5.3" height="5.7" rx="1.5"/><rect x="357.3" y="383.5" width="5.3" height="5.7" rx="1.5"/><rect x="387.1" y="404.2" width="5.3" height="5.7" rx="1.5"/><rect x="346.0" y="400.0" width="5.3" height="5.7" rx="1.5"/><rect x="381.7" y="353.3" width="5.3" height="5.7" rx="1.5"/><rect x="378.8" y="334.6" width="5.3" height="5.7" rx="1.5"/><rect x="334.7" y="371.8" width="5.3" height="5.7" rx="1.5"/><rect x="307.2" y="382.5" width="5.3" height="5.7" rx="1.5"/><rect x="377.2" y="325.3" width="5.3" height="5.7" rx="1.5"/><rect x="319.1" y="395.4" width="5.3" height="5.7" rx="1.5"/><rect x="361.0" y="412.2" width="5.3" height="5.7" rx="1.5"/><rect x="358.7" y="384.4" width="5.3" height="5.7" rx="1.5"/><rect x="331.6" y="376.9" width="5.3" height="5.7" rx="1.5"/><rect x="392.9" y="368.5" width="5.3" height="5.7" rx="1.5"/><rect x="356.2" y="398.9" width="5.3" height="5.7" rx="1.5"/><rect x="324.5" y="399.9" width="5.3" height="5.7" rx="1.5"/><rect x="337.9" y="345.6" width="5.3" height="5.7" rx="1.5"/><rect x="368.2" y="367.5" width="5.3" height="5.7" rx="1.5"/><rect x="336.6" y="325.6" width="5.3" height="5.7" rx="1.5"/><rect x="300.9" y="333.5" width="5.3" height="5.7" rx="1.5"/><rect x="338.3" y="331.9" width="5.3" height="5.7" rx="1.5"/><rect x="320.3" y="318.0" width="5.3" height="5.7" rx="1.5"/><rect x="389.4" y="355.8" width="5.3" height="5.7" rx="1.5"/><rect x="373.5" y="409.2" width="5.3" height="5.7" rx="1.5"/><rect x="336.5" y="348.0" width="5.3" height="5.7" rx="1.5"/><rect x="373.2" y="412.0" width="5.3" height="5.7" rx="1.5"/><rect x="393.1" y="344.1" width="5.3" height="5.7" rx="1.5"/><rect x="387.1" y="336.5" width="5.3" height="5.7" rx="1.5"/><rect x="296.0" y="336.4" width="5.3" height="5.7" rx="1.5"/><rect x="365.0" y="395.5" width="5.3" height="5.7" rx="1.5"/><rect x="363.6" y="411.6" width="5.3" height="5.7" rx="1.5"/><rect x="310.7" y="354.2" width="5.3" height="5.7" rx="1.5"/><rect x="296.6" y="370.8" width="5.3" height="5.7" rx="1.5"/><rect x="373.5" y="365.0" width="5.3" height="5.7" rx="1.5"/><rect x="340.5" y="359.4" width="5.3" height="5.7" rx="1.5"/><rect x="384.9" y="399.2" width="5.3" height="5.7" rx="1.5"/><rect x="340.5" y="386.2" width="5.3" height="5.7" rx="1.5"/><rect x="324.0" y="362.5" width="5.3" height="5.7" rx="1.5"/><rect x="323.1" y="323.9" width="5.3" height="5.7" rx="1.5"/><rect x="321.8" y="357.6" width="5.3" height="5.7" rx="1.5"/><rect x="293.7" y="390.7" width="5.3" height="5.7" rx="1.5"/><rect x="289.4" y="395.4" width="5.3" height="5.7" rx="1.5"/><rect x="308.2" y="381.5" width="5.3" height="5.7" rx="1.5"/><rect x="377.4" y="365.7" width="5.3" height="5.7" rx="1.5"/><rect x="387.2" y="361.2" width="5.3" height="5.7" rx="1.5"/><rect x="329.5" y="345.9" width="5.3" height="5.7" rx="1.5"/><rect x="362.8" y="353.2" width="5.3" height="5.7" rx="1.5"/><rect x="331.5" y="368.1" width="5.3" height="5.7" rx="1.5"/><rect x="341.3" y="416.5" width="5.3" height="5.7" rx="1.5"/><rect x="384.1" y="377.3" width="5.3" height="5.7" rx="1.5"/><rect x="321.2" y="362.7" width="5.3" height="5.7" rx="1.5"/><rect x="381.0" y="349.0" width="5.3" height="5.7" rx="1.5"/><rect x="331.3" y="301.3" width="5.3" height="5.7" rx="1.5"/><rect x="373.5" y="350.5" width="5.3" height="5.7" rx="1.5"/><rect x="325.3" y="396.5" width="5.3" height="5.7" rx="1.5"/><rect x="322.6" y="358.7" width="5.3" height="5.7" rx="1.5"/><rect x="362.0" y="385.3" width="5.3" height="5.7" rx="1.5"/><rect x="293.0" y="345.2" width="5.3" height="5.7" rx="1.5"/><rect x="360.1" y="406.7" width="5.3" height="5.7" rx="1.5"/><rect x="401.9" y="360.5" width="5.3" height="5.7" rx="1.5"/><rect x="287.7" y="360.6" width="5.3" height="5.7" rx="1.5"/><rect x="332.4" y="374.8" width="5.3" height="5.7" rx="1.5"/><rect x="342.8" y="389.9" width="5.3" height="5.7" rx="1.5"/><rect x="361.5" y="386.8" width="5.3" height="5.7" rx="1.5"/><rect x="335.3" y="334.6" width="5.3" height="5.7" rx="1.5"/><rect x="321.8" y="343.2" width="5.3" height="5.7" rx="1.5"/><rect x="388.4" y="313.4" width="5.3" height="5.7" rx="1.5"/><rect x="336.7" y="360.6" width="5.3" height="5.7" rx="1.5"/><rect x="368.0" y="402.4" width="5.3" height="5.7" rx="1.5"/><rect x="324.0" y="382.5" width="5.3" height="5.7" rx="1.5"/><rect x="336.8" y="354.1" width="5.3" height="5.7" rx="1.5"/><rect x="322.0" y="382.8" width="5.3" height="5.7" rx="1.5"/><rect x="339.1" y="328.8" width="5.3" height="5.7" rx="1.5"/><rect x="329.2" y="363.6" width="5.3" height="5.7" rx="1.5"/><rect x="338.6" y="326.7" width="5.3" height="5.7" rx="1.5"/><rect x="295.5" y="384.6" width="5.3" height="5.7" rx="1.5"/><rect x="381.2" y="368.1" width="5.3" height="5.7" rx="1.5"/><rect x="319.0" y="369.6" width="5.3" height="5.7" rx="1.5"/><rect x="340.7" y="342.0" width="5.3" height="5.7" rx="1.5"/><rect x="337.9" y="333.3" width="5.3" height="5.7" rx="1.5"/><rect x="381.8" y="322.3" width="5.3" height="5.7" rx="1.5"/><rect x="391.4" y="363.4" width="5.3" height="5.7" rx="1.5"/><rect x="358.8" y="390.0" width="5.3" height="5.7" rx="1.5"/><rect x="330.4" y="391.0" width="5.3" height="5.7" rx="1.5"/><rect x="377.8" y="397.7" width="5.3" height="5.7" rx="1.5"/><rect x="431.4" y="309.2" width="5.3" height="5.7" rx="1.5"/><rect x="369.4" y="327.3" width="5.3" height="5.7" rx="1.5"/><rect x="364.8" y="370.7" width="5.3" height="5.7" rx="1.5"/><rect x="387.2" y="372.7" width="5.3" height="5.7" rx="1.5"/><rect x="393.9" y="350.4" width="5.3" height="5.7" rx="1.5"/><rect x="330.6" y="343.0" width="5.3" height="5.7" rx="1.5"/><rect x="361.5" y="408.8" width="5.3" height="5.7" rx="1.5"/><rect x="330.7" y="409.6" width="5.3" height="5.7" rx="1.5"/><rect x="335.4" y="363.6" width="5.3" height="5.7" rx="1.5"/><rect x="310.2" y="377.7" width="5.3" height="5.7" rx="1.5"/><rect x="380.4" y="342.3" width="5.3" height="5.7" rx="1.5"/><rect x="327.5" y="352.6" width="5.3" height="5.7" rx="1.5"/><rect x="323.9" y="349.4" width="5.3" height="5.7" rx="1.5"/><rect x="368.2" y="345.8" width="5.3" height="5.7" rx="1.5"/><rect x="316.5" y="329.7" width="5.3" height="5.7" rx="1.5"/><rect x="311.2" y="326.4" width="5.3" height="5.7" rx="1.5"/><rect x="391.6" y="375.2" width="5.3" height="5.7" rx="1.5"/><rect x="398.7" y="336.0" width="5.3" height="5.7" rx="1.5"/><rect x="374.3" y="392.0" width="5.3" height="5.7" rx="1.5"/><rect x="361.9" y="408.1" width="5.3" height="5.7" rx="1.5"/><rect x="379.1" y="339.3" width="5.3" height="5.7" rx="1.5"/><rect x="374.8" y="354.1" width="5.3" height="5.7" rx="1.5"/><rect x="368.8" y="366.3" width="5.3" height="5.7" rx="1.5"/><rect x="373.0" y="338.5" width="5.3" height="5.7" rx="1.5"/><rect x="319.1" y="410.0" width="5.3" height="5.7" rx="1.5"/><rect x="367.0" y="403.5" width="5.3" height="5.7" rx="1.5"/><rect x="312.6" y="367.7" width="5.3" height="5.7" rx="1.5"/><rect x="343.1" y="407.1" width="5.3" height="5.7" rx="1.5"/><rect x="374.5" y="321.6" width="5.3" height="5.7" rx="1.5"/><rect x="323.0" y="363.5" width="5.3" height="5.7" rx="1.5"/><rect x="330.9" y="398.1" width="5.3" height="5.7" rx="1.5"/><rect x="294.0" y="363.7" width="5.3" height="5.7" rx="1.5"/><rect x="368.6" y="411.5" width="5.3" height="5.7" rx="1.5"/><rect x="374.1" y="337.4" width="5.3" height="5.7" rx="1.5"/><rect x="300.9" y="373.2" width="5.3" height="5.7" rx="1.5"/><rect x="300.3" y="353.4" width="5.3" height="5.7" rx="1.5"/><rect x="334.6" y="318.9" width="5.3" height="5.7" rx="1.5"/><rect x="320.9" y="371.1" width="5.3" height="5.7" rx="1.5"/><rect x="353.3" y="413.2" width="5.3" height="5.7" rx="1.5"/><rect x="374.9" y="379.2" width="5.3" height="5.7" rx="1.5"/><rect x="386.4" y="375.6" width="5.3" height="5.7" rx="1.5"/><rect x="375.7" y="386.7" width="5.3" height="5.7" rx="1.5"/><rect x="359.2" y="380.9" width="5.3" height="5.7" rx="1.5"/><rect x="329.4" y="382.8" width="5.3" height="5.7" rx="1.5"/><rect x="338.2" y="393.2" width="5.3" height="5.7" rx="1.5"/><rect x="340.0" y="406.0" width="5.3" height="5.7" rx="1.5"/><rect x="374.4" y="321.5" width="5.3" height="5.7" rx="1.5"/><rect x="386.2" y="355.3" width="5.3" height="5.7" rx="1.5"/><rect x="368.1" y="368.9" width="5.3" height="5.7" rx="1.5"/><rect x="316.2" y="374.8" width="5.3" height="5.7" rx="1.5"/><rect x="324.8" y="322.6" width="5.3" height="5.7" rx="1.5"/><rect x="327.0" y="356.3" width="5.3" height="5.7" rx="1.5"/><rect x="339.5" y="408.3" width="5.3" height="5.7" rx="1.5"/><rect x="342.8" y="370.2" width="5.3" height="5.7" rx="1.5"/><rect x="310.3" y="356.0" width="5.3" height="5.7" rx="1.5"/><rect x="333.2" y="375.3" width="5.3" height="5.7" rx="1.5"/><rect x="378.6" y="305.7" width="5.3" height="5.7" rx="1.5"/><rect x="321.0" y="397.2" width="5.3" height="5.7" rx="1.5"/><rect x="348.0" y="417.2" width="5.3" height="5.7" rx="1.5"/><rect x="305.0" y="382.3" width="5.3" height="5.7" rx="1.5"/><rect x="313.3" y="394.3" width="5.3" height="5.7" rx="1.5"/><rect x="320.4" y="378.3" width="5.3" height="5.7" rx="1.5"/><rect x="364.1" y="344.5" width="5.3" height="5.7" rx="1.5"/><rect x="367.0" y="332.0" width="5.3" height="5.7" rx="1.5"/><rect x="332.9" y="410.5" width="5.3" height="5.7" rx="1.5"/><rect x="335.6" y="323.9" width="5.3" height="5.7" rx="1.5"/><rect x="373.8" y="363.4" width="5.3" height="5.7" rx="1.5"/><rect x="377.6" y="389.4" width="5.3" height="5.7" rx="1.5"/><rect x="332.7" y="342.0" width="5.3" height="5.7" rx="1.5"/><rect x="368.4" y="341.9" width="5.3" height="5.7" rx="1.5"/><rect x="334.6" y="403.5" width="5.3" height="5.7" rx="1.5"/><rect x="329.4" y="386.1" width="5.3" height="5.7" rx="1.5"/><rect x="307.4" y="341.4" width="5.3" height="5.7" rx="1.5"/><rect x="301.1" y="403.4" width="5.3" height="5.7" rx="1.5"/><rect x="359.9" y="412.0" width="5.3" height="5.7" rx="1.5"/><rect x="315.5" y="362.6" width="5.3" height="5.7" rx="1.5"/><rect x="327.5" y="404.5" width="5.3" height="5.7" rx="1.5"/><rect x="368.8" y="337.9" width="5.3" height="5.7" rx="1.5"/><rect x="324.0" y="407.1" width="5.3" height="5.7" rx="1.5"/><rect x="353.7" y="404.1" width="5.3" height="5.7" rx="1.5"/><rect x="389.2" y="393.4" width="5.3" height="5.7" rx="1.5"/><rect x="360.7" y="394.6" width="5.3" height="5.7" rx="1.5"/><rect x="325.0" y="324.2" width="5.3" height="5.7" rx="1.5"/><rect x="320.6" y="400.5" width="5.3" height="5.7" rx="1.5"/><rect x="362.2" y="339.9" width="5.3" height="5.7" rx="1.5"/><rect x="312.5" y="356.4" width="5.3" height="5.7" rx="1.5"/><rect x="364.4" y="326.5" width="5.3" height="5.7" rx="1.5"/><rect x="381.2" y="388.4" width="5.3" height="5.7" rx="1.5"/><rect x="373.0" y="377.4" width="5.3" height="5.7" rx="1.5"/><rect x="387.7" y="375.8" width="5.3" height="5.7" rx="1.5"/><rect x="298.0" y="371.2" width="5.3" height="5.7" rx="1.5"/><rect x="379.9" y="385.5" width="5.3" height="5.7" rx="1.5"/><rect x="372.1" y="399.0" width="5.3" height="5.7" rx="1.5"/><rect x="334.8" y="333.9" width="5.3" height="5.7" rx="1.5"/><rect x="363.5" y="357.2" width="5.3" height="5.7" rx="1.5"/><rect x="304.4" y="352.0" width="5.3" height="5.7" rx="1.5"/><rect x="373.7" y="371.4" width="5.3" height="5.7" rx="1.5"/><rect x="314.8" y="379.5" width="5.3" height="5.7" rx="1.5"/><rect x="326.3" y="368.9" width="5.3" height="5.7" rx="1.5"/><rect x="340.7" y="398.8" width="5.3" height="5.7" rx="1.5"/><rect x="413.4" y="340.3" width="5.3" height="5.7" rx="1.5"/><rect x="370.7" y="383.8" width="5.3" height="5.7" rx="1.5"/><rect x="373.1" y="398.2" width="5.3" height="5.7" rx="1.5"/><rect x="339.8" y="401.5" width="5.3" height="5.7" rx="1.5"/><rect x="379.9" y="332.1" width="5.3" height="5.7" rx="1.5"/><rect x="371.4" y="371.5" width="5.3" height="5.7" rx="1.5"/><rect x="319.1" y="303.6" width="5.3" height="5.7" rx="1.5"/><rect x="334.6" y="340.3" width="5.3" height="5.7" rx="1.5"/><rect x="356.5" y="407.7" width="5.3" height="5.7" rx="1.5"/><rect x="330.7" y="332.0" width="5.3" height="5.7" rx="1.5"/><rect x="361.1" y="410.5" width="5.3" height="5.7" rx="1.5"/><rect x="318.2" y="392.9" width="5.3" height="5.7" rx="1.5"/><rect x="338.0" y="400.7" width="5.3" height="5.7" rx="1.5"/><rect x="338.0" y="352.7" width="5.3" height="5.7" rx="1.5"/><rect x="427.4" y="329.7" width="5.3" height="5.7" rx="1.5"/><rect x="363.2" y="411.3" width="5.3" height="5.7" rx="1.5"/><rect x="336.8" y="374.3" width="5.3" height="5.7" rx="1.5"/><rect x="337.4" y="348.7" width="5.3" height="5.7" rx="1.5"/><rect x="367.0" y="342.4" width="5.3" height="5.7" rx="1.5"/><rect x="329.5" y="329.6" width="5.3" height="5.7" rx="1.5"/><rect x="316.3" y="335.5" width="5.3" height="5.7" rx="1.5"/><rect x="334.8" y="311.6" width="5.3" height="5.7" rx="1.5"/><rect x="362.8" y="373.8" width="5.3" height="5.7" rx="1.5"/><rect x="332.2" y="388.6" width="5.3" height="5.7" rx="1.5"/><rect x="326.7" y="344.8" width="5.3" height="5.7" rx="1.5"/><rect x="344.6" y="395.9" width="5.3" height="5.7" rx="1.5"/><rect x="379.2" y="370.8" width="5.3" height="5.7" rx="1.5"/><rect x="379.5" y="390.6" width="5.3" height="5.7" rx="1.5"/><rect x="308.8" y="369.9" width="5.3" height="5.7" rx="1.5"/><rect x="353.5" y="413.5" width="5.3" height="5.7" rx="1.5"/><rect x="390.7" y="318.6" width="5.3" height="5.7" rx="1.5"/><rect x="357.3" y="413.9" width="5.3" height="5.7" rx="1.5"/><rect x="378.8" y="333.5" width="5.3" height="5.7" rx="1.5"/><rect x="344.9" y="386.4" width="5.3" height="5.7" rx="1.5"/><rect x="327.4" y="402.5" width="5.3" height="5.7" rx="1.5"/><rect x="358.5" y="394.8" width="5.3" height="5.7" rx="1.5"/><rect x="325.9" y="325.8" width="5.3" height="5.7" rx="1.5"/><rect x="333.7" y="318.7" width="5.3" height="5.7" rx="1.5"/><rect x="307.6" y="346.5" width="5.3" height="5.7" rx="1.5"/><rect x="303.5" y="355.8" width="5.3" height="5.7" rx="1.5"/><rect x="374.7" y="368.3" width="5.3" height="5.7" rx="1.5"/><rect x="383.7" y="340.0" width="5.3" height="5.7" rx="1.5"/><rect x="292.4" y="363.7" width="5.3" height="5.7" rx="1.5"/><rect x="370.4" y="408.6" width="5.3" height="5.7" rx="1.5"/><rect x="323.5" y="364.2" width="5.3" height="5.7" rx="1.5"/><rect x="328.3" y="364.0" width="5.3" height="5.7" rx="1.5"/><rect x="316.6" y="357.1" width="5.3" height="5.7" rx="1.5"/><rect x="384.4" y="345.4" width="5.3" height="5.7" rx="1.5"/><rect x="362.3" y="410.8" width="5.3" height="5.7" rx="1.5"/><rect x="322.6" y="374.2" width="5.3" height="5.7" rx="1.5"/><rect x="334.6" y="330.6" width="5.3" height="5.7" rx="1.5"/><rect x="333.6" y="336.4" width="5.3" height="5.7" rx="1.5"/><rect x="363.1" y="365.1" width="5.3" height="5.7" rx="1.5"/><rect x="393.0" y="329.6" width="5.3" height="5.7" rx="1.5"/><rect x="376.7" y="374.6" width="5.3" height="5.7" rx="1.5"/><rect x="358.1" y="377.0" width="5.3" height="5.7" rx="1.5"/><rect x="381.6" y="364.7" width="5.3" height="5.7" rx="1.5"/><rect x="333.8" y="339.2" width="5.3" height="5.7" rx="1.5"/><rect x="353.6" y="408.4" width="5.3" height="5.7" rx="1.5"/><rect x="340.4" y="371.7" width="5.3" height="5.7" rx="1.5"/><rect x="345.3" y="400.2" width="5.3" height="5.7" rx="1.5"/><rect x="389.5" y="350.2" width="5.3" height="5.7" rx="1.5"/><rect x="380.4" y="374.6" width="5.3" height="5.7" rx="1.5"/><rect x="328.9" y="340.5" width="5.3" height="5.7" rx="1.5"/><rect x="392.8" y="364.8" width="5.3" height="5.7" rx="1.5"/><rect x="309.2" y="365.2" width="5.3" height="5.7" rx="1.5"/><rect x="302.1" y="391.7" width="5.3" height="5.7" rx="1.5"/><rect x="379.5" y="311.8" width="5.3" height="5.7" rx="1.5"/><rect x="336.0" y="392.4" width="5.3" height="5.7" rx="1.5"/><rect x="317.0" y="381.2" width="5.3" height="5.7" rx="1.5"/><rect x="389.8" y="375.5" width="5.3" height="5.7" rx="1.5"/><rect x="361.0" y="389.3" width="5.3" height="5.7" rx="1.5"/><rect x="374.4" y="313.1" width="5.3" height="5.7" rx="1.5"/><rect x="382.0" y="398.6" width="5.3" height="5.7" rx="1.5"/><rect x="320.0" y="370.9" width="5.3" height="5.7" rx="1.5"/><rect x="369.6" y="409.4" width="5.3" height="5.7" rx="1.5"/><rect x="372.9" y="395.2" width="5.3" height="5.7" rx="1.5"/><rect x="345.3" y="405.9" width="5.3" height="5.7" rx="1.5"/><rect x="330.2" y="398.4" width="5.3" height="5.7" rx="1.5"/><rect x="325.7" y="386.5" width="5.3" height="5.7" rx="1.5"/><rect x="369.3" y="385.4" width="5.3" height="5.7" rx="1.5"/><rect x="321.2" y="355.6" width="5.3" height="5.7" rx="1.5"/><rect x="324.6" y="332.6" width="5.3" height="5.7" rx="1.5"/><rect x="339.6" y="401.2" width="5.3" height="5.7" rx="1.5"/><rect x="332.0" y="394.2" width="5.3" height="5.7" rx="1.5"/><rect x="360.2" y="403.1" width="5.3" height="5.7" rx="1.5"/><rect x="391.7" y="342.7" width="5.3" height="5.7" rx="1.5"/><rect x="387.7" y="345.6" width="5.3" height="5.7" rx="1.5"/><rect x="339.2" y="357.7" width="5.3" height="5.7" rx="1.5"/><rect x="329.0" y="371.3" width="5.3" height="5.7" rx="1.5"/><rect x="360.3" y="351.1" width="5.3" height="5.7" rx="1.5"/><rect x="362.8" y="377.5" width="5.3" height="5.7" rx="1.5"/><rect x="339.1" y="351.0" width="5.3" height="5.7" rx="1.5"/><rect x="311.3" y="367.9" width="5.3" height="5.7" rx="1.5"/><rect x="371.8" y="343.2" width="5.3" height="5.7" rx="1.5"/><rect x="368.3" y="395.1" width="5.3" height="5.7" rx="1.5"/><rect x="330.9" y="339.8" width="5.3" height="5.7" rx="1.5"/><rect x="387.5" y="367.6" width="5.3" height="5.7" rx="1.5"/><rect x="340.6" y="383.4" width="5.3" height="5.7" rx="1.5"/><rect x="292.5" y="305.8" width="5.3" height="5.7" rx="1.5"/><rect x="306.5" y="346.5" width="5.3" height="5.7" rx="1.5"/><rect x="374.5" y="372.9" width="5.3" height="5.7" rx="1.5"/><rect x="367.3" y="330.4" width="5.3" height="5.7" rx="1.5"/><rect x="298.1" y="386.9" width="5.3" height="5.7" rx="1.5"/><rect x="336.3" y="402.8" width="5.3" height="5.7" rx="1.5"/><rect x="339.1" y="390.2" width="5.3" height="5.7" rx="1.5"/><rect x="367.4" y="367.4" width="5.3" height="5.7" rx="1.5"/><rect x="396.5" y="364.1" width="5.3" height="5.7" rx="1.5"/><rect x="290.3" y="359.0" width="5.3" height="5.7" rx="1.5"/><rect x="393.8" y="323.0" width="5.3" height="5.7" rx="1.5"/><rect x="334.3" y="375.4" width="5.3" height="5.7" rx="1.5"/><rect x="323.9" y="360.8" width="5.3" height="5.7" rx="1.5"/><rect x="306.2" y="339.9" width="5.3" height="5.7" rx="1.5"/><rect x="332.9" y="404.4" width="5.3" height="5.7" rx="1.5"/><rect x="320.5" y="340.2" width="5.3" height="5.7" rx="1.5"/><rect x="355.9" y="391.5" width="5.3" height="5.7" rx="1.5"/><rect x="309.0" y="359.8" width="5.3" height="5.7" rx="1.5"/><rect x="368.0" y="414.1" width="5.3" height="5.7" rx="1.5"/><rect x="392.3" y="348.7" width="5.3" height="5.7" rx="1.5"/><rect x="338.7" y="380.4" width="5.3" height="5.7" rx="1.5"/><rect x="367.1" y="374.9" width="5.3" height="5.7" rx="1.5"/><rect x="397.1" y="361.9" width="5.3" height="5.7" rx="1.5"/><rect x="310.0" y="376.1" width="5.3" height="5.7" rx="1.5"/><rect x="323.4" y="359.5" width="5.3" height="5.7" rx="1.5"/><rect x="357.5" y="387.8" width="5.3" height="5.7" rx="1.5"/><rect x="338.2" y="390.9" width="5.3" height="5.7" rx="1.5"/><rect x="378.6" y="368.3" width="5.3" height="5.7" rx="1.5"/><rect x="388.4" y="295.0" width="5.3" height="5.7" rx="1.5"/><rect x="357.7" y="368.3" width="5.3" height="5.7" rx="1.5"/><rect x="319.6" y="371.1" width="5.3" height="5.7" rx="1.5"/><rect x="346.4" y="415.3" width="5.3" height="5.7" rx="1.5"/><rect x="340.3" y="408.2" width="5.3" height="5.7" rx="1.5"/><rect x="372.4" y="380.8" width="5.3" height="5.7" rx="1.5"/><rect x="327.5" y="412.5" width="5.3" height="5.7" rx="1.5"/><rect x="285.5" y="386.2" width="5.3" height="5.7" rx="1.5"/><rect x="366.5" y="382.1" width="5.3" height="5.7" rx="1.5"/><rect x="379.7" y="356.2" width="5.3" height="5.7" rx="1.5"/><rect x="329.8" y="370.8" width="5.3" height="5.7" rx="1.5"/><rect x="371.9" y="398.0" width="5.3" height="5.7" rx="1.5"/><rect x="322.4" y="344.7" width="5.3" height="5.7" rx="1.5"/><rect x="378.4" y="402.4" width="5.3" height="5.7" rx="1.5"/><rect x="299.3" y="390.6" width="5.3" height="5.7" rx="1.5"/><rect x="307.0" y="324.1" width="5.3" height="5.7" rx="1.5"/><rect x="357.8" y="366.7" width="5.3" height="5.7" rx="1.5"/><rect x="363.9" y="403.9" width="5.3" height="5.7" rx="1.5"/><rect x="383.0" y="358.5" width="5.3" height="5.7" rx="1.5"/><rect x="383.3" y="367.4" width="5.3" height="5.7" rx="1.5"/><rect x="370.0" y="381.6" width="5.3" height="5.7" rx="1.5"/><rect x="378.9" y="393.1" width="5.3" height="5.7" rx="1.5"/><rect x="319.7" y="398.5" width="5.3" height="5.7" rx="1.5"/><rect x="387.2" y="371.9" width="5.3" height="5.7" rx="1.5"/><rect x="313.1" y="373.4" width="5.3" height="5.7" rx="1.5"/><rect x="330.3" y="372.3" width="5.3" height="5.7" rx="1.5"/><rect x="371.7" y="367.9" width="5.3" height="5.7" rx="1.5"/><rect x="338.0" y="391.4" width="5.3" height="5.7" rx="1.5"/><rect x="387.1" y="351.0" width="5.3" height="5.7" rx="1.5"/><rect x="310.0" y="400.4" width="5.3" height="5.7" rx="1.5"/><rect x="371.6" y="318.4" width="5.3" height="5.7" rx="1.5"/><rect x="363.8" y="354.0" width="5.3" height="5.7" rx="1.5"/><rect x="315.8" y="354.7" width="5.3" height="5.7" rx="1.5"/><rect x="295.5" y="349.9" width="5.3" height="5.7" rx="1.5"/><rect x="390.0" y="356.4" width="5.3" height="5.7" rx="1.5"/><rect x="349.7" y="412.1" width="5.3" height="5.7" rx="1.5"/><rect x="385.0" y="320.3" width="5.3" height="5.7" rx="1.5"/><rect x="322.5" y="350.6" width="5.3" height="5.7" rx="1.5"/><rect x="383.8" y="313.4" width="5.3" height="5.7" rx="1.5"/><rect x="372.7" y="311.2" width="5.3" height="5.7" rx="1.5"/><rect x="390.1" y="357.7" width="5.3" height="5.7" rx="1.5"/><rect x="320.8" y="387.2" width="5.3" height="5.7" rx="1.5"/><rect x="367.7" y="367.1" width="5.3" height="5.7" rx="1.5"/><rect x="306.4" y="383.7" width="5.3" height="5.7" rx="1.5"/><rect x="337.8" y="357.4" width="5.3" height="5.7" rx="1.5"/><rect x="302.7" y="401.9" width="5.3" height="5.7" rx="1.5"/><rect x="314.2" y="299.5" width="5.3" height="5.7" rx="1.5"/><rect x="319.3" y="330.0" width="5.3" height="5.7" rx="1.5"/><rect x="337.2" y="374.0" width="5.3" height="5.7" rx="1.5"/><rect x="427.3" y="356.3" width="5.3" height="5.7" rx="1.5"/><rect x="326.7" y="403.1" width="5.3" height="5.7" rx="1.5"/><rect x="330.7" y="377.0" width="5.3" height="5.7" rx="1.5"/><rect x="379.8" y="398.7" width="5.3" height="5.7" rx="1.5"/><rect x="326.2" y="350.0" width="5.3" height="5.7" rx="1.5"/><rect x="387.0" y="321.9" width="5.3" height="5.7" rx="1.5"/><rect x="308.7" y="352.1" width="5.3" height="5.7" rx="1.5"/><rect x="332.3" y="377.5" width="5.3" height="5.7" rx="1.5"/><rect x="424.1" y="378.3" width="5.3" height="5.7" rx="1.5"/><rect x="291.3" y="334.9" width="5.3" height="5.7" rx="1.5"/><rect x="397.9" y="342.3" width="5.3" height="5.7" rx="1.5"/><rect x="330.5" y="330.2" width="5.3" height="5.7" rx="1.5"/><rect x="323.7" y="347.9" width="5.3" height="5.7" rx="1.5"/><rect x="314.7" y="351.0" width="5.3" height="5.7" rx="1.5"/><rect x="313.0" y="366.9" width="5.3" height="5.7" rx="1.5"/><rect x="336.8" y="330.5" width="5.3" height="5.7" rx="1.5"/><rect x="377.6" y="382.3" width="5.3" height="5.7" rx="1.5"/><rect x="310.7" y="344.9" width="5.3" height="5.7" rx="1.5"/><rect x="345.5" y="401.7" width="5.3" height="5.7" rx="1.5"/><rect x="358.1" y="388.0" width="5.3" height="5.7" rx="1.5"/><rect x="382.1" y="368.5" width="5.3" height="5.7" rx="1.5"/><rect x="387.9" y="319.2" width="5.3" height="5.7" rx="1.5"/><rect x="389.8" y="382.3" width="5.3" height="5.7" rx="1.5"/><rect x="373.6" y="343.9" width="5.3" height="5.7" rx="1.5"/><rect x="365.2" y="337.4" width="5.3" height="5.7" rx="1.5"/><rect x="376.2" y="371.0" width="5.3" height="5.7" rx="1.5"/><rect x="371.3" y="411.9" width="5.3" height="5.7" rx="1.5"/><rect x="361.7" y="370.3" width="5.3" height="5.7" rx="1.5"/><rect x="348.3" y="414.6" width="5.3" height="5.7" rx="1.5"/><rect x="333.3" y="343.4" width="5.3" height="5.7" rx="1.5"/><rect x="375.5" y="352.9" width="5.3" height="5.7" rx="1.5"/><rect x="308.0" y="384.1" width="5.3" height="5.7" rx="1.5"/><rect x="321.5" y="347.1" width="5.3" height="5.7" rx="1.5"/><rect x="382.6" y="390.0" width="5.3" height="5.7" rx="1.5"/><rect x="332.5" y="376.7" width="5.3" height="5.7" rx="1.5"/><rect x="297.8" y="366.3" width="5.3" height="5.7" rx="1.5"/><rect x="305.9" y="346.4" width="5.3" height="5.7" rx="1.5"/><rect x="375.9" y="366.6" width="5.3" height="5.7" rx="1.5"/><rect x="313.8" y="367.9" width="5.3" height="5.7" rx="1.5"/><rect x="336.3" y="414.0" width="5.3" height="5.7" rx="1.5"/><rect x="302.0" y="314.1" width="5.3" height="5.7" rx="1.5"/><rect x="325.9" y="378.9" width="5.3" height="5.7" rx="1.5"/><rect x="308.9" y="344.5" width="5.3" height="5.7" rx="1.5"/><rect x="318.1" y="405.9" width="5.3" height="5.7" rx="1.5"/><rect x="359.5" y="390.0" width="5.3" height="5.7" rx="1.5"/><rect x="370.2" y="402.2" width="5.3" height="5.7" rx="1.5"/><rect x="289.2" y="360.4" width="5.3" height="5.7" rx="1.5"/><rect x="353.5" y="400.0" width="5.3" height="5.7" rx="1.5"/><rect x="310.8" y="396.7" width="5.3" height="5.7" rx="1.5"/><rect x="402.7" y="346.2" width="5.3" height="5.7" rx="1.5"/><rect x="373.9" y="365.9" width="5.3" height="5.7" rx="1.5"/><rect x="328.4" y="380.0" width="5.3" height="5.7" rx="1.5"/><rect x="345.4" y="397.7" width="5.3" height="5.7" rx="1.5"/><rect x="334.5" y="392.4" width="5.3" height="5.7" rx="1.5"/><rect x="316.2" y="392.6" width="5.3" height="5.7" rx="1.5"/><rect x="310.9" y="361.0" width="5.3" height="5.7" rx="1.5"/><rect x="298.8" y="372.5" width="5.3" height="5.7" rx="1.5"/><rect x="317.7" y="360.5" width="5.3" height="5.7" rx="1.5"/><rect x="330.1" y="403.4" width="5.3" height="5.7" rx="1.5"/><rect x="342.2" y="404.2" width="5.3" height="5.7" rx="1.5"/><rect x="374.0" y="395.8" width="5.3" height="5.7" rx="1.5"/><rect x="308.6" y="395.2" width="5.3" height="5.7" rx="1.5"/><rect x="321.6" y="378.8" width="5.3" height="5.7" rx="1.5"/><rect x="332.3" y="339.5" width="5.3" height="5.7" rx="1.5"/><rect x="412.7" y="338.1" width="5.3" height="5.7" rx="1.5"/><rect x="353.5" y="414.2" width="5.3" height="5.7" rx="1.5"/><rect x="360.0" y="362.2" width="5.3" height="5.7" rx="1.5"/><rect x="410.3" y="349.6" width="5.3" height="5.7" rx="1.5"/><rect x="304.8" y="375.2" width="5.3" height="5.7" rx="1.5"/><rect x="319.4" y="394.7" width="5.3" height="5.7" rx="1.5"/><rect x="294.0" y="382.2" width="5.3" height="5.7" rx="1.5"/><rect x="324.3" y="387.0" width="5.3" height="5.7" rx="1.5"/><rect x="295.8" y="304.3" width="5.3" height="5.7" rx="1.5"/><rect x="344.5" y="397.6" width="5.3" height="5.7" rx="1.5"/><rect x="362.5" y="416.0" width="5.3" height="5.7" rx="1.5"/><rect x="359.0" y="409.8" width="5.3" height="5.7" rx="1.5"/><rect x="382.8" y="352.0" width="5.3" height="5.7" rx="1.5"/><rect x="376.0" y="373.4" width="5.3" height="5.7" rx="1.5"/><rect x="303.5" y="356.5" width="5.3" height="5.7" rx="1.5"/><rect x="391.6" y="339.9" width="5.3" height="5.7" rx="1.5"/><rect x="293.8" y="329.2" width="5.3" height="5.7" rx="1.5"/><rect x="362.7" y="329.3" width="5.3" height="5.7" rx="1.5"/><rect x="372.7" y="395.0" width="5.3" height="5.7" rx="1.5"/><rect x="364.9" y="414.0" width="5.3" height="5.7" rx="1.5"/><rect x="312.4" y="402.3" width="5.3" height="5.7" rx="1.5"/><rect x="315.7" y="318.8" width="5.3" height="5.7" rx="1.5"/><rect x="378.1" y="371.7" width="5.3" height="5.7" rx="1.5"/><rect x="336.4" y="333.6" width="5.3" height="5.7" rx="1.5"/><rect x="365.9" y="395.7" width="5.3" height="5.7" rx="1.5"/><rect x="299.4" y="396.2" width="5.3" height="5.7" rx="1.5"/><rect x="334.3" y="408.3" width="5.3" height="5.7" rx="1.5"/><rect x="362.8" y="369.9" width="5.3" height="5.7" rx="1.5"/><rect x="379.3" y="341.6" width="5.3" height="5.7" rx="1.5"/><rect x="335.8" y="400.4" width="5.3" height="5.7" rx="1.5"/><rect x="393.1" y="345.7" width="5.3" height="5.7" rx="1.5"/><rect x="320.8" y="382.4" width="5.3" height="5.7" rx="1.5"/><rect x="336.4" y="362.9" width="5.3" height="5.7" rx="1.5"/><rect x="400.8" y="338.0" width="5.3" height="5.7" rx="1.5"/><rect x="355.1" y="390.2" width="5.3" height="5.7" rx="1.5"/><rect x="334.1" y="369.8" width="5.3" height="5.7" rx="1.5"/><rect x="330.2" y="359.7" width="5.3" height="5.7" rx="1.5"/><rect x="313.5" y="393.7" width="5.3" height="5.7" rx="1.5"/><rect x="312.2" y="313.6" width="5.3" height="5.7" rx="1.5"/><rect x="300.6" y="386.5" width="5.3" height="5.7" rx="1.5"/><rect x="388.4" y="357.4" width="5.3" height="5.7" rx="1.5"/><rect x="361.2" y="351.6" width="5.3" height="5.7" rx="1.5"/><rect x="293.3" y="368.6" width="5.3" height="5.7" rx="1.5"/><rect x="369.6" y="376.9" width="5.3" height="5.7" rx="1.5"/><rect x="366.7" y="344.7" width="5.3" height="5.7" rx="1.5"/><rect x="371.9" y="365.8" width="5.3" height="5.7" rx="1.5"/><rect x="366.3" y="370.6" width="5.3" height="5.7" rx="1.5"/><rect x="409.8" y="377.3" width="5.3" height="5.7" rx="1.5"/><rect x="376.3" y="408.1" width="5.3" height="5.7" rx="1.5"/><rect x="356.1" y="416.1" width="5.3" height="5.7" rx="1.5"/><rect x="366.5" y="346.7" width="5.3" height="5.7" rx="1.5"/><rect x="306.6" y="341.4" width="5.3" height="5.7" rx="1.5"/><rect x="369.7" y="412.3" width="5.3" height="5.7" rx="1.5"/><rect x="380.5" y="343.5" width="5.3" height="5.7" rx="1.5"/><rect x="363.6" y="348.8" width="5.3" height="5.7" rx="1.5"/><rect x="367.7" y="353.6" width="5.3" height="5.7" rx="1.5"/><rect x="321.0" y="318.5" width="5.3" height="5.7" rx="1.5"/><rect x="382.0" y="366.7" width="5.3" height="5.7" rx="1.5"/><rect x="343.5" y="409.7" width="5.3" height="5.7" rx="1.5"/><rect x="327.1" y="363.1" width="5.3" height="5.7" rx="1.5"/><rect x="339.4" y="412.6" width="5.3" height="5.7" rx="1.5"/><rect x="399.4" y="347.9" width="5.3" height="5.7" rx="1.5"/><rect x="337.6" y="380.9" width="5.3" height="5.7" rx="1.5"/><rect x="295.9" y="309.3" width="5.3" height="5.7" rx="1.5"/><rect x="322.0" y="374.0" width="5.3" height="5.7" rx="1.5"/><rect x="388.0" y="361.4" width="5.3" height="5.7" rx="1.5"/><rect x="363.7" y="388.2" width="5.3" height="5.7" rx="1.5"/><rect x="384.9" y="372.4" width="5.3" height="5.7" rx="1.5"/><rect x="362.4" y="400.5" width="5.3" height="5.7" rx="1.5"/><rect x="332.3" y="391.5" width="5.3" height="5.7" rx="1.5"/><rect x="387.7" y="353.2" width="5.3" height="5.7" rx="1.5"/><rect x="325.2" y="387.8" width="5.3" height="5.7" rx="1.5"/><rect x="373.9" y="371.9" width="5.3" height="5.7" rx="1.5"/><rect x="374.4" y="320.4" width="5.3" height="5.7" rx="1.5"/><rect x="370.9" y="368.4" width="5.3" height="5.7" rx="1.5"/><rect x="383.3" y="372.5" width="5.3" height="5.7" rx="1.5"/><rect x="365.4" y="389.7" width="5.3" height="5.7" rx="1.5"/><rect x="366.2" y="375.4" width="5.3" height="5.7" rx="1.5"/><rect x="380.0" y="351.4" width="5.3" height="5.7" rx="1.5"/><rect x="307.7" y="331.2" width="5.3" height="5.7" rx="1.5"/><rect x="373.5" y="393.9" width="5.3" height="5.7" rx="1.5"/><rect x="366.2" y="412.9" width="5.3" height="5.7" rx="1.5"/><rect x="340.6" y="387.6" width="5.3" height="5.7" rx="1.5"/><rect x="317.8" y="385.0" width="5.3" height="5.7" rx="1.5"/><rect x="343.3" y="375.1" width="5.3" height="5.7" rx="1.5"/><rect x="331.9" y="356.5" width="5.3" height="5.7" rx="1.5"/><rect x="309.9" y="383.4" width="5.3" height="5.7" rx="1.5"/><rect x="309.2" y="346.4" width="5.3" height="5.7" rx="1.5"/><rect x="349.6" y="416.7" width="5.3" height="5.7" rx="1.5"/><rect x="320.5" y="369.7" width="5.3" height="5.7" rx="1.5"/><rect x="330.1" y="339.1" width="5.3" height="5.7" rx="1.5"/><rect x="339.0" y="374.7" width="5.3" height="5.7" rx="1.5"/><rect x="367.2" y="387.2" width="5.3" height="5.7" rx="1.5"/><rect x="372.9" y="365.9" width="5.3" height="5.7" rx="1.5"/><rect x="336.3" y="405.3" width="5.3" height="5.7" rx="1.5"/><rect x="369.1" y="405.9" width="5.3" height="5.7" rx="1.5"/><rect x="337.4" y="379.8" width="5.3" height="5.7" rx="1.5"/><rect x="330.2" y="355.3" width="5.3" height="5.7" rx="1.5"/><rect x="341.6" y="360.4" width="5.3" height="5.7" rx="1.5"/><rect x="356.3" y="403.7" width="5.3" height="5.7" rx="1.5"/><rect x="336.1" y="401.3" width="5.3" height="5.7" rx="1.5"/><rect x="348.8" y="407.4" width="5.3" height="5.7" rx="1.5"/><rect x="297.1" y="389.1" width="5.3" height="5.7" rx="1.5"/><rect x="315.3" y="369.6" width="5.3" height="5.7" rx="1.5"/><rect x="323.0" y="362.7" width="5.3" height="5.7" rx="1.5"/><rect x="367.4" y="372.0" width="5.3" height="5.7" rx="1.5"/><rect x="315.5" y="346.3" width="5.3" height="5.7" rx="1.5"/><rect x="370.3" y="336.5" width="5.3" height="5.7" rx="1.5"/><rect x="365.3" y="396.4" width="5.3" height="5.7" rx="1.5"/><rect x="340.8" y="373.0" width="5.3" height="5.7" rx="1.5"/><rect x="386.5" y="404.0" width="5.3" height="5.7" rx="1.5"/><rect x="300.4" y="315.9" width="5.3" height="5.7" rx="1.5"/><rect x="321.2" y="324.7" width="5.3" height="5.7" rx="1.5"/><rect x="378.1" y="330.0" width="5.3" height="5.7" rx="1.5"/><rect x="379.4" y="372.4" width="5.3" height="5.7" rx="1.5"/><rect x="301.4" y="397.4" width="5.3" height="5.7" rx="1.5"/><rect x="308.0" y="352.5" width="5.3" height="5.7" rx="1.5"/><rect x="383.8" y="393.6" width="5.3" height="5.7" rx="1.5"/><rect x="366.7" y="316.9" width="5.3" height="5.7" rx="1.5"/><rect x="314.3" y="374.3" width="5.3" height="5.7" rx="1.5"/><rect x="376.8" y="300.4" width="5.3" height="5.7" rx="1.5"/><rect x="387.3" y="316.6" width="5.3" height="5.7" rx="1.5"/><rect x="290.8" y="292.3" width="5.3" height="5.7" rx="1.5"/><rect x="305.7" y="372.9" width="5.3" height="5.7" rx="1.5"/><rect x="329.9" y="365.3" width="5.3" height="5.7" rx="1.5"/><rect x="338.7" y="412.1" width="5.3" height="5.7" rx="1.5"/><rect x="345.7" y="396.8" width="5.3" height="5.7" rx="1.5"/><rect x="346.1" y="414.0" width="5.3" height="5.7" rx="1.5"/><rect x="371.8" y="341.3" width="5.3" height="5.7" rx="1.5"/><rect x="375.9" y="348.6" width="5.3" height="5.7" rx="1.5"/><rect x="375.8" y="352.5" width="5.3" height="5.7" rx="1.5"/><rect x="293.2" y="333.1" width="5.3" height="5.7" rx="1.5"/><rect x="344.3" y="396.9" width="5.3" height="5.7" rx="1.5"/><rect x="298.4" y="379.4" width="5.3" height="5.7" rx="1.5"/><rect x="293.5" y="365.4" width="5.3" height="5.7" rx="1.5"/><rect x="361.9" y="397.5" width="5.3" height="5.7" rx="1.5"/><rect x="380.2" y="380.8" width="5.3" height="5.7" rx="1.5"/><rect x="308.4" y="329.2" width="5.3" height="5.7" rx="1.5"/><rect x="334.7" y="412.6" width="5.3" height="5.7" rx="1.5"/><rect x="367.6" y="395.6" width="5.3" height="5.7" rx="1.5"/><rect x="361.2" y="359.5" width="5.3" height="5.7" rx="1.5"/><rect x="334.8" y="376.7" width="5.3" height="5.7" rx="1.5"/><rect x="339.3" y="343.7" width="5.3" height="5.7" rx="1.5"/><rect x="320.0" y="343.8" width="5.3" height="5.7" rx="1.5"/><rect x="339.3" y="359.7" width="5.3" height="5.7" rx="1.5"/><rect x="315.9" y="377.2" width="5.3" height="5.7" rx="1.5"/><rect x="313.3" y="370.2" width="5.3" height="5.7" rx="1.5"/><rect x="365.4" y="312.1" width="5.3" height="5.7" rx="1.5"/><rect x="382.0" y="390.7" width="5.3" height="5.7" rx="1.5"/><rect x="320.5" y="296.3" width="5.3" height="5.7" rx="1.5"/><rect x="312.1" y="363.4" width="5.3" height="5.7" rx="1.5"/><rect x="324.5" y="379.8" width="5.3" height="5.7" rx="1.5"/><rect x="302.7" y="365.7" width="5.3" height="5.7" rx="1.5"/><rect x="379.4" y="349.2" width="5.3" height="5.7" rx="1.5"/><rect x="337.2" y="414.9" width="5.3" height="5.7" rx="1.5"/><rect x="370.8" y="372.7" width="5.3" height="5.7" rx="1.5"/><rect x="323.4" y="389.3" width="5.3" height="5.7" rx="1.5"/><rect x="311.1" y="353.9" width="5.3" height="5.7" rx="1.5"/><rect x="337.3" y="371.9" width="5.3" height="5.7" rx="1.5"/><rect x="361.5" y="400.9" width="5.3" height="5.7" rx="1.5"/><rect x="335.0" y="363.1" width="5.3" height="5.7" rx="1.5"/><rect x="321.4" y="346.4" width="5.3" height="5.7" rx="1.5"/><rect x="341.6" y="358.2" width="5.3" height="5.7" rx="1.5"/><rect x="363.2" y="379.2" width="5.3" height="5.7" rx="1.5"/><rect x="331.8" y="383.3" width="5.3" height="5.7" rx="1.5"/><rect x="359.7" y="395.2" width="5.3" height="5.7" rx="1.5"/><rect x="389.5" y="361.8" width="5.3" height="5.7" rx="1.5"/><rect x="318.5" y="382.7" width="5.3" height="5.7" rx="1.5"/><rect x="386.9" y="352.1" width="5.3" height="5.7" rx="1.5"/><rect x="327.8" y="404.5" width="5.3" height="5.7" rx="1.5"/><rect x="366.4" y="384.5" width="5.3" height="5.7" rx="1.5"/><rect x="382.7" y="339.4" width="5.3" height="5.7" rx="1.5"/><rect x="335.0" y="341.8" width="5.3" height="5.7" rx="1.5"/><rect x="339.7" y="345.4" width="5.3" height="5.7" rx="1.5"/><rect x="309.6" y="389.9" width="5.3" height="5.7" rx="1.5"/><rect x="309.5" y="396.0" width="5.3" height="5.7" rx="1.5"/><rect x="329.4" y="410.1" width="5.3" height="5.7" rx="1.5"/><rect x="375.6" y="337.8" width="5.3" height="5.7" rx="1.5"/><rect x="393.2" y="304.2" width="5.3" height="5.7" rx="1.5"/><rect x="360.6" y="403.0" width="5.3" height="5.7" rx="1.5"/><rect x="319.3" y="326.5" width="5.3" height="5.7" rx="1.5"/><rect x="429.5" y="295.1" width="5.3" height="5.7" rx="1.5"/><rect x="304.4" y="347.4" width="5.3" height="5.7" rx="1.5"/><rect x="356.3" y="382.9" width="5.3" height="5.7" rx="1.5"/><rect x="322.1" y="408.1" width="5.3" height="5.7" rx="1.5"/><rect x="365.5" y="347.3" width="5.3" height="5.7" rx="1.5"/><rect x="378.4" y="350.4" width="5.3" height="5.7" rx="1.5"/><rect x="370.6" y="316.8" width="5.3" height="5.7" rx="1.5"/><rect x="303.6" y="391.7" width="5.3" height="5.7" rx="1.5"/><rect x="322.2" y="344.3" width="5.3" height="5.7" rx="1.5"/><rect x="376.9" y="307.4" width="5.3" height="5.7" rx="1.5"/><rect x="380.7" y="358.3" width="5.3" height="5.7" rx="1.5"/><rect x="328.5" y="412.0" width="5.3" height="5.7" rx="1.5"/><rect x="360.3" y="385.4" width="5.3" height="5.7" rx="1.5"/><rect x="402.2" y="366.3" width="5.3" height="5.7" rx="1.5"/><rect x="325.2" y="324.7" width="5.3" height="5.7" rx="1.5"/><rect x="377.6" y="329.7" width="5.3" height="5.7" rx="1.5"/><rect x="376.6" y="393.0" width="5.3" height="5.7" rx="1.5"/><rect x="356.6" y="416.3" width="5.3" height="5.7" rx="1.5"/><rect x="326.5" y="406.7" width="5.3" height="5.7" rx="1.5"/><rect x="382.6" y="383.8" width="5.3" height="5.7" rx="1.5"/><rect x="369.4" y="395.5" width="5.3" height="5.7" rx="1.5"/><rect x="330.4" y="402.9" width="5.3" height="5.7" rx="1.5"/><rect x="302.5" y="387.4" width="5.3" height="5.7" rx="1.5"/><rect x="365.1" y="342.5" width="5.3" height="5.7" rx="1.5"/><rect x="357.1" y="414.0" width="5.3" height="5.7" rx="1.5"/><rect x="340.7" y="370.8" width="5.3" height="5.7" rx="1.5"/><rect x="366.4" y="293.6" width="5.3" height="5.7" rx="1.5"/><rect x="335.3" y="354.5" width="5.3" height="5.7" rx="1.5"/><rect x="383.1" y="391.5" width="5.3" height="5.7" rx="1.5"/><rect x="301.8" y="356.7" width="5.3" height="5.7" rx="1.5"/><rect x="325.5" y="388.9" width="5.3" height="5.7" rx="1.5"/><rect x="335.4" y="384.2" width="5.3" height="5.7" rx="1.5"/><rect x="373.4" y="365.5" width="5.3" height="5.7" rx="1.5"/><rect x="333.9" y="340.7" width="5.3" height="5.7" rx="1.5"/><rect x="321.9" y="398.1" width="5.3" height="5.7" rx="1.5"/><rect x="363.3" y="406.8" width="5.3" height="5.7" rx="1.5"/><rect x="337.4" y="395.9" width="5.3" height="5.7" rx="1.5"/><rect x="359.4" y="361.7" width="5.3" height="5.7" rx="1.5"/><rect x="334.3" y="387.0" width="5.3" height="5.7" rx="1.5"/><rect x="360.4" y="367.3" width="5.3" height="5.7" rx="1.5"/><rect x="342.5" y="390.3" width="5.3" height="5.7" rx="1.5"/><rect x="338.4" y="356.2" width="5.3" height="5.7" rx="1.5"/><rect x="366.9" y="347.6" width="5.3" height="5.7" rx="1.5"/><rect x="370.8" y="325.1" width="5.3" height="5.7" rx="1.5"/><rect x="388.5" y="341.9" width="5.3" height="5.7" rx="1.5"/><rect x="363.3" y="338.1" width="5.3" height="5.7" rx="1.5"/><rect x="349.6" y="419.8" width="5.3" height="5.7" rx="1.5"/><rect x="357.0" y="411.9" width="5.3" height="5.7" rx="1.5"/><rect x="357.9" y="410.3" width="5.3" height="5.7" rx="1.5"/><rect x="392.3" y="348.6" width="5.3" height="5.7" rx="1.5"/><rect x="321.6" y="312.9" width="5.3" height="5.7" rx="1.5"/><rect x="305.4" y="366.8" width="5.3" height="5.7" rx="1.5"/><rect x="319.0" y="347.8" width="5.3" height="5.7" rx="1.5"/><rect x="397.4" y="375.9" width="5.3" height="5.7" rx="1.5"/><rect x="366.4" y="398.7" width="5.3" height="5.7" rx="1.5"/><rect x="376.1" y="359.7" width="5.3" height="5.7" rx="1.5"/><rect x="320.2" y="385.4" width="5.3" height="5.7" rx="1.5"/><rect x="376.7" y="351.0" width="5.3" height="5.7" rx="1.5"/><rect x="384.6" y="381.8" width="5.3" height="5.7" rx="1.5"/><rect x="320.7" y="369.1" width="5.3" height="5.7" rx="1.5"/><rect x="383.8" y="390.8" width="5.3" height="5.7" rx="1.5"/><rect x="411.1" y="386.0" width="5.3" height="5.7" rx="1.5"/><rect x="380.3" y="369.4" width="5.3" height="5.7" rx="1.5"/><rect x="379.4" y="370.6" width="5.3" height="5.7" rx="1.5"/><rect x="382.7" y="380.1" width="5.3" height="5.7" rx="1.5"/><rect x="396.5" y="298.3" width="5.3" height="5.7" rx="1.5"/><rect x="355.2" y="403.8" width="5.3" height="5.7" rx="1.5"/><rect x="341.0" y="377.9" width="5.3" height="5.7" rx="1.5"/><rect x="333.3" y="385.1" width="5.3" height="5.7" rx="1.5"/><rect x="325.9" y="301.6" width="5.3" height="5.7" rx="1.5"/><rect x="347.1" y="412.6" width="5.3" height="5.7" rx="1.5"/><rect x="308.5" y="386.6" width="5.3" height="5.7" rx="1.5"/><rect x="363.3" y="390.0" width="5.3" height="5.7" rx="1.5"/><rect x="309.3" y="378.9" width="5.3" height="5.7" rx="1.5"/><rect x="343.4" y="392.0" width="5.3" height="5.7" rx="1.5"/><rect x="338.6" y="377.4" width="5.3" height="5.7" rx="1.5"/><rect x="389.9" y="380.3" width="5.3" height="5.7" rx="1.5"/><rect x="383.6" y="368.6" width="5.3" height="5.7" rx="1.5"/><rect x="346.1" y="397.3" width="5.3" height="5.7" rx="1.5"/><rect x="368.3" y="326.9" width="5.3" height="5.7" rx="1.5"/><rect x="321.1" y="388.8" width="5.3" height="5.7" rx="1.5"/><rect x="323.1" y="354.2" width="5.3" height="5.7" rx="1.5"/><rect x="349.1" y="416.5" width="5.3" height="5.7" rx="1.5"/><rect x="406.6" y="370.9" width="5.3" height="5.7" rx="1.5"/><rect x="362.1" y="361.0" width="5.3" height="5.7" rx="1.5"/><rect x="384.0" y="324.9" width="5.3" height="5.7" rx="1.5"/><rect x="324.1" y="359.1" width="5.3" height="5.7" rx="1.5"/><rect x="322.1" y="319.0" width="5.3" height="5.7" rx="1.5"/><rect x="368.1" y="391.7" width="5.3" height="5.7" rx="1.5"/><rect x="361.8" y="359.6" width="5.3" height="5.7" rx="1.5"/><rect x="355.6" y="387.4" width="5.3" height="5.7" rx="1.5"/><rect x="382.6" y="333.0" width="5.3" height="5.7" rx="1.5"/><rect x="320.5" y="347.8" width="5.3" height="5.7" rx="1.5"/><rect x="323.6" y="367.3" width="5.3" height="5.7" rx="1.5"/><rect x="322.8" y="353.9" width="5.3" height="5.7" rx="1.5"/><rect x="392.3" y="392.0" width="5.3" height="5.7" rx="1.5"/><rect x="364.1" y="369.0" width="5.3" height="5.7" rx="1.5"/><rect x="362.1" y="361.9" width="5.3" height="5.7" rx="1.5"/><rect x="388.6" y="371.9" width="5.3" height="5.7" rx="1.5"/><rect x="368.5" y="371.8" width="5.3" height="5.7" rx="1.5"/><rect x="363.9" y="381.9" width="5.3" height="5.7" rx="1.5"/><rect x="370.0" y="346.4" width="5.3" height="5.7" rx="1.5"/><rect x="343.7" y="399.9" width="5.3" height="5.7" rx="1.5"/><rect x="307.3" y="373.2" width="5.3" height="5.7" rx="1.5"/><rect x="330.3" y="357.9" width="5.3" height="5.7" rx="1.5"/><rect x="370.5" y="373.5" width="5.3" height="5.7" rx="1.5"/><rect x="317.5" y="362.4" width="5.3" height="5.7" rx="1.5"/><rect x="315.7" y="325.8" width="5.3" height="5.7" rx="1.5"/><rect x="316.8" y="364.0" width="5.3" height="5.7" rx="1.5"/><rect x="363.6" y="328.4" width="5.3" height="5.7" rx="1.5"/><rect x="362.8" y="355.9" width="5.3" height="5.7" rx="1.5"/><rect x="312.1" y="346.1" width="5.3" height="5.7" rx="1.5"/><rect x="329.8" y="361.8" width="5.3" height="5.7" rx="1.5"/><rect x="385.1" y="367.2" width="5.3" height="5.7" rx="1.5"/><rect x="304.9" y="399.6" width="5.3" height="5.7" rx="1.5"/><rect x="284.4" y="360.3" width="5.3" height="5.7" rx="1.5"/><rect x="362.9" y="364.1" width="5.3" height="5.7" rx="1.5"/><rect x="315.2" y="356.2" width="5.3" height="5.7" rx="1.5"/><rect x="334.7" y="387.2" width="5.3" height="5.7" rx="1.5"/><rect x="385.6" y="361.8" width="5.3" height="5.7" rx="1.5"/><rect x="346.5" y="414.1" width="5.3" height="5.7" rx="1.5"/><rect x="356.9" y="382.7" width="5.3" height="5.7" rx="1.5"/><rect x="317.3" y="395.4" width="5.3" height="5.7" rx="1.5"/><rect x="328.4" y="390.8" width="5.3" height="5.7" rx="1.5"/><rect x="287.6" y="369.0" width="5.3" height="5.7" rx="1.5"/><rect x="286.1" y="339.7" width="5.3" height="5.7" rx="1.5"/><rect x="390.7" y="334.3" width="5.3" height="5.7" rx="1.5"/><rect x="349.0" y="414.1" width="5.3" height="5.7" rx="1.5"/><rect x="370.8" y="386.4" width="5.3" height="5.7" rx="1.5"/><rect x="329.5" y="349.4" width="5.3" height="5.7" rx="1.5"/><rect x="323.4" y="363.6" width="5.3" height="5.7" rx="1.5"/><rect x="330.2" y="411.2" width="5.3" height="5.7" rx="1.5"/><rect x="340.3" y="409.7" width="5.3" height="5.7" rx="1.5"/><rect x="334.8" y="389.8" width="5.3" height="5.7" rx="1.5"/><rect x="307.9" y="369.3" width="5.3" height="5.7" rx="1.5"/><rect x="325.8" y="341.3" width="5.3" height="5.7" rx="1.5"/><rect x="334.7" y="393.5" width="5.3" height="5.7" rx="1.5"/><rect x="318.6" y="368.2" width="5.3" height="5.7" rx="1.5"/><rect x="326.9" y="407.2" width="5.3" height="5.7" rx="1.5"/><rect x="360.1" y="373.5" width="5.3" height="5.7" rx="1.5"/><rect x="319.0" y="345.2" width="5.3" height="5.7" rx="1.5"/><rect x="311.9" y="380.9" width="5.3" height="5.7" rx="1.5"/><rect x="335.0" y="386.3" width="5.3" height="5.7" rx="1.5"/><rect x="402.6" y="351.4" width="5.3" height="5.7" rx="1.5"/><rect x="435.0" y="358.1" width="5.3" height="5.7" rx="1.5"/><rect x="343.2" y="372.7" width="5.3" height="5.7" rx="1.5"/><rect x="317.5" y="331.1" width="5.3" height="5.7" rx="1.5"/><rect x="394.3" y="394.8" width="5.3" height="5.7" rx="1.5"/><rect x="367.0" y="343.2" width="5.3" height="5.7" rx="1.5"/><rect x="332.6" y="354.3" width="5.3" height="5.7" rx="1.5"/><rect x="367.9" y="373.7" width="5.3" height="5.7" rx="1.5"/><rect x="358.5" y="417.0" width="5.3" height="5.7" rx="1.5"/><rect x="384.6" y="310.5" width="5.3" height="5.7" rx="1.5"/><rect x="369.6" y="375.1" width="5.3" height="5.7" rx="1.5"/><rect x="300.0" y="384.2" width="5.3" height="5.7" rx="1.5"/><rect x="408.9" y="344.2" width="5.3" height="5.7" rx="1.5"/><rect x="377.6" y="379.8" width="5.3" height="5.7" rx="1.5"/><rect x="303.3" y="359.0" width="5.3" height="5.7" rx="1.5"/><rect x="317.2" y="403.5" width="5.3" height="5.7" rx="1.5"/><rect x="361.1" y="372.0" width="5.3" height="5.7" rx="1.5"/><rect x="376.0" y="328.7" width="5.3" height="5.7" rx="1.5"/><rect x="382.1" y="352.0" width="5.3" height="5.7" rx="1.5"/><rect x="324.8" y="341.0" width="5.3" height="5.7" rx="1.5"/><rect x="399.5" y="336.3" width="5.3" height="5.7" rx="1.5"/><rect x="320.6" y="397.9" width="5.3" height="5.7" rx="1.5"/><rect x="374.9" y="341.3" width="5.3" height="5.7" rx="1.5"/><rect x="361.3" y="390.8" width="5.3" height="5.7" rx="1.5"/><rect x="388.5" y="378.5" width="5.3" height="5.7" rx="1.5"/><rect x="314.1" y="375.1" width="5.3" height="5.7" rx="1.5"/><rect x="320.3" y="344.8" width="5.3" height="5.7" rx="1.5"/><rect x="323.8" y="395.2" width="5.3" height="5.7" rx="1.5"/><rect x="368.7" y="383.2" width="5.3" height="5.7" rx="1.5"/><rect x="322.5" y="341.0" width="5.3" height="5.7" rx="1.5"/><rect x="328.9" y="408.6" width="5.3" height="5.7" rx="1.5"/><rect x="333.9" y="345.5" width="5.3" height="5.7" rx="1.5"/><rect x="301.1" y="367.2" width="5.3" height="5.7" rx="1.5"/><rect x="363.3" y="343.9" width="5.3" height="5.7" rx="1.5"/><rect x="289.0" y="390.4" width="5.3" height="5.7" rx="1.5"/><rect x="332.0" y="360.1" width="5.3" height="5.7" rx="1.5"/><rect x="361.0" y="399.4" width="5.3" height="5.7" rx="1.5"/><rect x="300.0" y="396.8" width="5.3" height="5.7" rx="1.5"/><rect x="303.5" y="372.0" width="5.3" height="5.7" rx="1.5"/><rect x="364.8" y="391.5" width="5.3" height="5.7" rx="1.5"/><rect x="320.8" y="347.3" width="5.3" height="5.7" rx="1.5"/><rect x="314.6" y="337.5" width="5.3" height="5.7" rx="1.5"/><rect x="304.4" y="334.3" width="5.3" height="5.7" rx="1.5"/><rect x="371.1" y="363.3" width="5.3" height="5.7" rx="1.5"/><rect x="367.1" y="394.9" width="5.3" height="5.7" rx="1.5"/><rect x="365.4" y="373.8" width="5.3" height="5.7" rx="1.5"/><rect x="377.9" y="354.5" width="5.3" height="5.7" rx="1.5"/><rect x="374.7" y="382.9" width="5.3" height="5.7" rx="1.5"/><rect x="367.8" y="374.8" width="5.3" height="5.7" rx="1.5"/><rect x="390.9" y="399.9" width="5.3" height="5.7" rx="1.5"/><rect x="332.7" y="390.5" width="5.3" height="5.7" rx="1.5"/><rect x="339.0" y="384.6" width="5.3" height="5.7" rx="1.5"/><rect x="369.5" y="305.0" width="5.3" height="5.7" rx="1.5"/><rect x="372.4" y="392.1" width="5.3" height="5.7" rx="1.5"/><rect x="369.3" y="408.3" width="5.3" height="5.7" rx="1.5"/><rect x="323.3" y="349.7" width="5.3" height="5.7" rx="1.5"/><rect x="284.1" y="309.0" width="5.3" height="5.7" rx="1.5"/><rect x="373.8" y="327.4" width="5.3" height="5.7" rx="1.5"/><rect x="364.0" y="353.5" width="5.3" height="5.7" rx="1.5"/><rect x="351.7" y="420.1" width="5.3" height="5.7" rx="1.5"/><rect x="359.9" y="369.4" width="5.3" height="5.7" rx="1.5"/><rect x="401.8" y="361.2" width="5.3" height="5.7" rx="1.5"/><rect x="343.0" y="405.9" width="5.3" height="5.7" rx="1.5"/><rect x="327.8" y="329.3" width="5.3" height="5.7" rx="1.5"/><rect x="425.7" y="354.1" width="5.3" height="5.7" rx="1.5"/><rect x="328.4" y="323.4" width="5.3" height="5.7" rx="1.5"/><rect x="368.3" y="367.7" width="5.3" height="5.7" rx="1.5"/><rect x="316.4" y="385.0" width="5.3" height="5.7" rx="1.5"/><rect x="358.0" y="414.8" width="5.3" height="5.7" rx="1.5"/><rect x="323.1" y="353.4" width="5.3" height="5.7" rx="1.5"/><rect x="342.6" y="405.2" width="5.3" height="5.7" rx="1.5"/><rect x="366.1" y="375.4" width="5.3" height="5.7" rx="1.5"/><rect x="341.5" y="395.4" width="5.3" height="5.7" rx="1.5"/><rect x="296.6" y="338.3" width="5.3" height="5.7" rx="1.5"/><rect x="369.6" y="312.3" width="5.3" height="5.7" rx="1.5"/><rect x="332.6" y="392.0" width="5.3" height="5.7" rx="1.5"/><rect x="340.1" y="401.9" width="5.3" height="5.7" rx="1.5"/><rect x="305.3" y="351.1" width="5.3" height="5.7" rx="1.5"/><rect x="314.3" y="351.8" width="5.3" height="5.7" rx="1.5"/><rect x="326.6" y="387.8" width="5.3" height="5.7" rx="1.5"/><rect x="311.9" y="323.7" width="5.3" height="5.7" rx="1.5"/><rect x="367.3" y="349.2" width="5.3" height="5.7" rx="1.5"/><rect x="323.8" y="354.3" width="5.3" height="5.7" rx="1.5"/><rect x="366.0" y="316.7" width="5.3" height="5.7" rx="1.5"/><rect x="333.4" y="388.4" width="5.3" height="5.7" rx="1.5"/><rect x="361.1" y="413.7" width="5.3" height="5.7" rx="1.5"/><rect x="328.8" y="377.0" width="5.3" height="5.7" rx="1.5"/><rect x="349.5" y="409.1" width="5.3" height="5.7" rx="1.5"/><rect x="386.2" y="342.1" width="5.3" height="5.7" rx="1.5"/><rect x="372.4" y="375.5" width="5.3" height="5.7" rx="1.5"/><rect x="392.6" y="312.9" width="5.3" height="5.7" rx="1.5"/><rect x="372.9" y="383.6" width="5.3" height="5.7" rx="1.5"/><rect x="376.7" y="348.4" width="5.3" height="5.7" rx="1.5"/><rect x="344.8" y="409.2" width="5.3" height="5.7" rx="1.5"/><rect x="332.3" y="365.3" width="5.3" height="5.7" rx="1.5"/><rect x="374.4" y="389.4" width="5.3" height="5.7" rx="1.5"/><rect x="321.5" y="343.4" width="5.3" height="5.7" rx="1.5"/><rect x="370.2" y="365.4" width="5.3" height="5.7" rx="1.5"/><rect x="320.2" y="383.7" width="5.3" height="5.7" rx="1.5"/><rect x="319.9" y="301.5" width="5.3" height="5.7" rx="1.5"/><rect x="316.5" y="298.7" width="5.3" height="5.7" rx="1.5"/><rect x="339.7" y="395.2" width="5.3" height="5.7" rx="1.5"/><rect x="320.9" y="366.4" width="5.3" height="5.7" rx="1.5"/><rect x="332.5" y="409.9" width="5.3" height="5.7" rx="1.5"/><rect x="381.6" y="396.1" width="5.3" height="5.7" rx="1.5"/><rect x="299.9" y="359.2" width="5.3" height="5.7" rx="1.5"/><rect x="428.4" y="368.4" width="5.3" height="5.7" rx="1.5"/><rect x="366.4" y="372.5" width="5.3" height="5.7" rx="1.5"/><rect x="436.1" y="349.7" width="5.3" height="5.7" rx="1.5"/><rect x="397.9" y="373.2" width="5.3" height="5.7" rx="1.5"/><rect x="363.9" y="367.1" width="5.3" height="5.7" rx="1.5"/><rect x="313.2" y="362.7" width="5.3" height="5.7" rx="1.5"/><rect x="396.8" y="372.7" width="5.3" height="5.7" rx="1.5"/><rect x="370.6" y="377.4" width="5.3" height="5.7" rx="1.5"/><rect x="382.5" y="363.4" width="5.3" height="5.7" rx="1.5"/><rect x="328.2" y="367.2" width="5.3" height="5.7" rx="1.5"/><rect x="363.8" y="320.6" width="5.3" height="5.7" rx="1.5"/><rect x="381.1" y="365.2" width="5.3" height="5.7" rx="1.5"/><rect x="315.7" y="388.8" width="5.3" height="5.7" rx="1.5"/><rect x="341.3" y="368.0" width="5.3" height="5.7" rx="1.5"/><rect x="376.9" y="403.2" width="5.3" height="5.7" rx="1.5"/><rect x="314.2" y="393.5" width="5.3" height="5.7" rx="1.5"/><rect x="365.6" y="375.6" width="5.3" height="5.7" rx="1.5"/><rect x="377.2" y="368.8" width="5.3" height="5.7" rx="1.5"/><rect x="309.5" y="378.3" width="5.3" height="5.7" rx="1.5"/><rect x="336.2" y="401.1" width="5.3" height="5.7" rx="1.5"/><rect x="367.6" y="405.7" width="5.3" height="5.7" rx="1.5"/><rect x="360.2" y="380.4" width="5.3" height="5.7" rx="1.5"/><rect x="358.8" y="371.4" width="5.3" height="5.7" rx="1.5"/><rect x="307.8" y="375.1" width="5.3" height="5.7" rx="1.5"/><rect x="307.7" y="396.1" width="5.3" height="5.7" rx="1.5"/><rect x="309.4" y="383.3" width="5.3" height="5.7" rx="1.5"/><rect x="297.6" y="348.5" width="5.3" height="5.7" rx="1.5"/><rect x="374.6" y="325.4" width="5.3" height="5.7" rx="1.5"/><rect x="381.7" y="395.2" width="5.3" height="5.7" rx="1.5"/><rect x="320.7" y="340.5" width="5.3" height="5.7" rx="1.5"/><rect x="384.2" y="377.1" width="5.3" height="5.7" rx="1.5"/><rect x="391.1" y="322.9" width="5.3" height="5.7" rx="1.5"/><rect x="300.2" y="377.8" width="5.3" height="5.7" rx="1.5"/><rect x="322.7" y="404.6" width="5.3" height="5.7" rx="1.5"/><rect x="342.6" y="409.5" width="5.3" height="5.7" rx="1.5"/><rect x="377.3" y="339.5" width="5.3" height="5.7" rx="1.5"/><rect x="293.5" y="359.5" width="5.3" height="5.7" rx="1.5"/><rect x="314.0" y="382.8" width="5.3" height="5.7" rx="1.5"/><rect x="360.1" y="371.8" width="5.3" height="5.7" rx="1.5"/><rect x="361.4" y="404.9" width="5.3" height="5.7" rx="1.5"/><rect x="344.8" y="398.3" width="5.3" height="5.7" rx="1.5"/><rect x="321.6" y="338.0" width="5.3" height="5.7" rx="1.5"/><rect x="359.1" y="372.0" width="5.3" height="5.7" rx="1.5"/><rect x="303.3" y="365.8" width="5.3" height="5.7" rx="1.5"/><rect x="295.1" y="301.9" width="5.3" height="5.7" rx="1.5"/><rect x="367.4" y="411.4" width="5.3" height="5.7" rx="1.5"/><rect x="318.6" y="359.5" width="5.3" height="5.7" rx="1.5"/><rect x="331.5" y="396.2" width="5.3" height="5.7" rx="1.5"/><rect x="369.3" y="406.1" width="5.3" height="5.7" rx="1.5"/><rect x="318.0" y="336.6" width="5.3" height="5.7" rx="1.5"/><rect x="330.1" y="371.8" width="5.3" height="5.7" rx="1.5"/><rect x="330.0" y="380.7" width="5.3" height="5.7" rx="1.5"/><rect x="308.1" y="326.1" width="5.3" height="5.7" rx="1.5"/><rect x="309.9" y="389.1" width="5.3" height="5.7" rx="1.5"/><rect x="326.6" y="374.3" width="5.3" height="5.7" rx="1.5"/><rect x="390.4" y="385.2" width="5.3" height="5.7" rx="1.5"/><rect x="307.1" y="322.5" width="5.3" height="5.7" rx="1.5"/><rect x="377.3" y="329.8" width="5.3" height="5.7" rx="1.5"/><rect x="321.6" y="379.8" width="5.3" height="5.7" rx="1.5"/><rect x="322.0" y="380.2" width="5.3" height="5.7" rx="1.5"/><rect x="409.1" y="366.9" width="5.3" height="5.7" rx="1.5"/><rect x="318.7" y="392.2" width="5.3" height="5.7" rx="1.5"/><rect x="373.4" y="335.1" width="5.3" height="5.7" rx="1.5"/><rect x="313.0" y="317.8" width="5.3" height="5.7" rx="1.5"/><rect x="309.4" y="382.8" width="5.3" height="5.7" rx="1.5"/><rect x="408.8" y="354.5" width="5.3" height="5.7" rx="1.5"/><rect x="356.0" y="399.6" width="5.3" height="5.7" rx="1.5"/><rect x="317.6" y="383.4" width="5.3" height="5.7" rx="1.5"/><rect x="323.8" y="411.2" width="5.3" height="5.7" rx="1.5"/><rect x="291.9" y="303.0" width="5.3" height="5.7" rx="1.5"/><rect x="379.8" y="367.6" width="5.3" height="5.7" rx="1.5"/><rect x="337.9" y="344.2" width="5.3" height="5.7" rx="1.5"/><rect x="390.0" y="374.3" width="5.3" height="5.7" rx="1.5"/><rect x="301.7" y="371.0" width="5.3" height="5.7" rx="1.5"/><rect x="361.2" y="362.1" width="5.3" height="5.7" rx="1.5"/><rect x="381.2" y="392.4" width="5.3" height="5.7" rx="1.5"/><rect x="320.6" y="348.8" width="5.3" height="5.7" rx="1.5"/><rect x="308.2" y="380.5" width="5.3" height="5.7" rx="1.5"/><rect x="310.9" y="358.3" width="5.3" height="5.7" rx="1.5"/><rect x="383.4" y="399.5" width="5.3" height="5.7" rx="1.5"/><rect x="320.4" y="341.2" width="5.3" height="5.7" rx="1.5"/><rect x="352.1" y="409.0" width="5.3" height="5.7" rx="1.5"/><rect x="383.1" y="341.0" width="5.3" height="5.7" rx="1.5"/><rect x="369.6" y="357.6" width="5.3" height="5.7" rx="1.5"/><rect x="423.5" y="356.9" width="5.3" height="5.7" rx="1.5"/><rect x="334.5" y="414.9" width="5.3" height="5.7" rx="1.5"/><rect x="359.1" y="402.4" width="5.3" height="5.7" rx="1.5"/><rect x="318.8" y="330.3" width="5.3" height="5.7" rx="1.5"/><rect x="309.0" y="316.4" width="5.3" height="5.7" rx="1.5"/><rect x="371.1" y="308.4" width="5.3" height="5.7" rx="1.5"/><rect x="319.2" y="356.5" width="5.3" height="5.7" rx="1.5"/><rect x="355.5" y="404.6" width="5.3" height="5.7" rx="1.5"/><rect x="378.8" y="354.3" width="5.3" height="5.7" rx="1.5"/><rect x="372.3" y="308.6" width="5.3" height="5.7" rx="1.5"/><rect x="370.5" y="364.9" width="5.3" height="5.7" rx="1.5"/><rect x="370.2" y="387.0" width="5.3" height="5.7" rx="1.5"/><rect x="388.2" y="389.5" width="5.3" height="5.7" rx="1.5"/><rect x="383.1" y="361.7" width="5.3" height="5.7" rx="1.5"/><rect x="372.5" y="365.1" width="5.3" height="5.7" rx="1.5"/><rect x="333.7" y="344.1" width="5.3" height="5.7" rx="1.5"/><rect x="333.5" y="350.4" width="5.3" height="5.7" rx="1.5"/><rect x="304.9" y="385.1" width="5.3" height="5.7" rx="1.5"/><rect x="363.0" y="372.1" width="5.3" height="5.7" rx="1.5"/><rect x="338.8" y="372.2" width="5.3" height="5.7" rx="1.5"/><rect x="368.4" y="410.2" width="5.3" height="5.7" rx="1.5"/><rect x="357.6" y="383.9" width="5.3" height="5.7" rx="1.5"/><rect x="312.3" y="346.4" width="5.3" height="5.7" rx="1.5"/><rect x="310.5" y="386.8" width="5.3" height="5.7" rx="1.5"/><rect x="353.5" y="417.1" width="5.3" height="5.7" rx="1.5"/><rect x="312.5" y="360.4" width="5.3" height="5.7" rx="1.5"/><rect x="314.6" y="380.8" width="5.3" height="5.7" rx="1.5"/><rect x="333.6" y="339.4" width="5.3" height="5.7" rx="1.5"/><rect x="340.0" y="401.0" width="5.3" height="5.7" rx="1.5"/><rect x="323.7" y="397.8" width="5.3" height="5.7" rx="1.5"/><rect x="377.7" y="353.4" width="5.3" height="5.7" rx="1.5"/><rect x="382.1" y="344.7" width="5.3" height="5.7" rx="1.5"/><rect x="342.2" y="397.9" width="5.3" height="5.7" rx="1.5"/><rect x="373.3" y="364.6" width="5.3" height="5.7" rx="1.5"/><rect x="377.3" y="377.0" width="5.3" height="5.7" rx="1.5"/><rect x="324.5" y="369.1" width="5.3" height="5.7" rx="1.5"/><rect x="345.2" y="412.0" width="5.3" height="5.7" rx="1.5"/><rect x="297.9" y="386.1" width="5.3" height="5.7" rx="1.5"/><rect x="347.0" y="416.8" width="5.3" height="5.7" rx="1.5"/><rect x="327.3" y="334.2" width="5.3" height="5.7" rx="1.5"/><rect x="332.8" y="399.2" width="5.3" height="5.7" rx="1.5"/><rect x="399.1" y="377.1" width="5.3" height="5.7" rx="1.5"/><rect x="390.1" y="355.9" width="5.3" height="5.7" rx="1.5"/><rect x="420.9" y="380.6" width="5.3" height="5.7" rx="1.5"/><rect x="365.1" y="401.5" width="5.3" height="5.7" rx="1.5"/><rect x="374.9" y="361.5" width="5.3" height="5.7" rx="1.5"/><rect x="361.7" y="406.6" width="5.3" height="5.7" rx="1.5"/><rect x="322.3" y="390.9" width="5.3" height="5.7" rx="1.5"/><rect x="366.0" y="404.5" width="5.3" height="5.7" rx="1.5"/><rect x="335.7" y="393.3" width="5.3" height="5.7" rx="1.5"/><rect x="299.4" y="392.7" width="5.3" height="5.7" rx="1.5"/><rect x="300.4" y="397.9" width="5.3" height="5.7" rx="1.5"/><rect x="306.9" y="348.9" width="5.3" height="5.7" rx="1.5"/><rect x="320.6" y="374.6" width="5.3" height="5.7" rx="1.5"/><rect x="406.4" y="324.5" width="5.3" height="5.7" rx="1.5"/><rect x="331.3" y="305.7" width="5.3" height="5.7" rx="1.5"/><rect x="350.3" y="419.2" width="5.3" height="5.7" rx="1.5"/><rect x="325.4" y="404.4" width="5.3" height="5.7" rx="1.5"/><rect x="337.9" y="403.5" width="5.3" height="5.7" rx="1.5"/><rect x="328.7" y="363.0" width="5.3" height="5.7" rx="1.5"/><rect x="398.7" y="377.2" width="5.3" height="5.7" rx="1.5"/><rect x="327.6" y="349.4" width="5.3" height="5.7" rx="1.5"/><rect x="293.2" y="352.4" width="5.3" height="5.7" rx="1.5"/><rect x="316.2" y="361.8" width="5.3" height="5.7" rx="1.5"/><rect x="297.2" y="376.9" width="5.3" height="5.7" rx="1.5"/><rect x="373.9" y="341.5" width="5.3" height="5.7" rx="1.5"/><rect x="386.7" y="371.2" width="5.3" height="5.7" rx="1.5"/><rect x="299.6" y="402.9" width="5.3" height="5.7" rx="1.5"/><rect x="312.2" y="406.4" width="5.3" height="5.7" rx="1.5"/><rect x="285.3" y="346.9" width="5.3" height="5.7" rx="1.5"/><rect x="397.7" y="367.9" width="5.3" height="5.7" rx="1.5"/><rect x="346.2" y="416.8" width="5.3" height="5.7" rx="1.5"/><rect x="366.3" y="331.2" width="5.3" height="5.7" rx="1.5"/><rect x="320.8" y="376.0" width="5.3" height="5.7" rx="1.5"/><rect x="387.5" y="342.2" width="5.3" height="5.7" rx="1.5"/><rect x="334.8" y="327.2" width="5.3" height="5.7" rx="1.5"/><rect x="359.6" y="401.2" width="5.3" height="5.7" rx="1.5"/><rect x="343.8" y="383.3" width="5.3" height="5.7" rx="1.5"/><rect x="303.0" y="344.2" width="5.3" height="5.7" rx="1.5"/><rect x="373.4" y="382.0" width="5.3" height="5.7" rx="1.5"/><rect x="371.2" y="378.3" width="5.3" height="5.7" rx="1.5"/><rect x="345.8" y="393.5" width="5.3" height="5.7" rx="1.5"/><rect x="370.5" y="383.3" width="5.3" height="5.7" rx="1.5"/><rect x="381.6" y="367.4" width="5.3" height="5.7" rx="1.5"/><rect x="366.5" y="340.6" width="5.3" height="5.7" rx="1.5"/><rect x="340.3" y="400.9" width="5.3" height="5.7" rx="1.5"/><rect x="359.0" y="354.9" width="5.3" height="5.7" rx="1.5"/><rect x="301.8" y="400.6" width="5.3" height="5.7" rx="1.5"/><rect x="375.4" y="378.2" width="5.3" height="5.7" rx="1.5"/><rect x="378.8" y="354.7" width="5.3" height="5.7" rx="1.5"/><rect x="334.7" y="369.3" width="5.3" height="5.7" rx="1.5"/><rect x="303.1" y="367.0" width="5.3" height="5.7" rx="1.5"/><rect x="342.1" y="383.3" width="5.3" height="5.7" rx="1.5"/><rect x="297.4" y="398.4" width="5.3" height="5.7" rx="1.5"/><rect x="314.7" y="356.2" width="5.3" height="5.7" rx="1.5"/><rect x="321.5" y="365.0" width="5.3" height="5.7" rx="1.5"/><rect x="367.4" y="391.4" width="5.3" height="5.7" rx="1.5"/><rect x="367.4" y="390.7" width="5.3" height="5.7" rx="1.5"/><rect x="371.9" y="327.9" width="5.3" height="5.7" rx="1.5"/><rect x="284.1" y="347.1" width="5.3" height="5.7" rx="1.5"/><rect x="319.7" y="382.6" width="5.3" height="5.7" rx="1.5"/><rect x="327.2" y="380.1" width="5.3" height="5.7" rx="1.5"/><rect x="333.1" y="313.3" width="5.3" height="5.7" rx="1.5"/><rect x="367.0" y="414.7" width="5.3" height="5.7" rx="1.5"/><rect x="320.6" y="392.7" width="5.3" height="5.7" rx="1.5"/><rect x="290.9" y="298.3" width="5.3" height="5.7" rx="1.5"/><rect x="335.8" y="408.4" width="5.3" height="5.7" rx="1.5"/><rect x="383.6" y="341.4" width="5.3" height="5.7" rx="1.5"/><rect x="426.3" y="375.3" width="5.3" height="5.7" rx="1.5"/><rect x="331.5" y="367.9" width="5.3" height="5.7" rx="1.5"/><rect x="343.8" y="386.8" width="5.3" height="5.7" rx="1.5"/><rect x="289.4" y="306.4" width="5.3" height="5.7" rx="1.5"/><rect x="332.0" y="338.6" width="5.3" height="5.7" rx="1.5"/><rect x="330.7" y="361.7" width="5.3" height="5.7" rx="1.5"/><rect x="358.3" y="400.5" width="5.3" height="5.7" rx="1.5"/><rect x="323.1" y="396.6" width="5.3" height="5.7" rx="1.5"/><rect x="368.6" y="343.1" width="5.3" height="5.7" rx="1.5"/><rect x="364.9" y="399.5" width="5.3" height="5.7" rx="1.5"/><rect x="314.7" y="392.9" width="5.3" height="5.7" rx="1.5"/><rect x="353.2" y="416.2" width="5.3" height="5.7" rx="1.5"/><rect x="410.0" y="358.6" width="5.3" height="5.7" rx="1.5"/><rect x="377.7" y="382.0" width="5.3" height="5.7" rx="1.5"/><rect x="306.9" y="369.1" width="5.3" height="5.7" rx="1.5"/><rect x="372.0" y="379.1" width="5.3" height="5.7" rx="1.5"/><rect x="316.9" y="327.0" width="5.3" height="5.7" rx="1.5"/><rect x="355.7" y="394.9" width="5.3" height="5.7" rx="1.5"/><rect x="337.2" y="344.0" width="5.3" height="5.7" rx="1.5"/><rect x="372.6" y="391.8" width="5.3" height="5.7" rx="1.5"/><rect x="321.9" y="367.0" width="5.3" height="5.7" rx="1.5"/><rect x="300.5" y="376.9" width="5.3" height="5.7" rx="1.5"/><rect x="388.5" y="390.7" width="5.3" height="5.7" rx="1.5"/><rect x="346.7" y="408.4" width="5.3" height="5.7" rx="1.5"/><rect x="299.7" y="368.3" width="5.3" height="5.7" rx="1.5"/><rect x="322.7" y="373.5" width="5.3" height="5.7" rx="1.5"/><rect x="389.6" y="352.7" width="5.3" height="5.7" rx="1.5"/><rect x="395.3" y="375.5" width="5.3" height="5.7" rx="1.5"/><rect x="365.9" y="394.8" width="5.3" height="5.7" rx="1.5"/><rect x="326.3" y="386.9" width="5.3" height="5.7" rx="1.5"/><rect x="304.3" y="394.1" width="5.3" height="5.7" rx="1.5"/><rect x="333.3" y="339.8" width="5.3" height="5.7" rx="1.5"/><rect x="368.3" y="340.2" width="5.3" height="5.7" rx="1.5"/><rect x="389.5" y="359.6" width="5.3" height="5.7" rx="1.5"/><rect x="323.3" y="402.7" width="5.3" height="5.7" rx="1.5"/><rect x="286.5" y="321.9" width="5.3" height="5.7" rx="1.5"/><rect x="322.7" y="384.1" width="5.3" height="5.7" rx="1.5"/><rect x="319.7" y="371.3" width="5.3" height="5.7" rx="1.5"/><rect x="309.2" y="405.1" width="5.3" height="5.7" rx="1.5"/><rect x="385.6" y="307.0" width="5.3" height="5.7" rx="1.5"/><rect x="332.2" y="334.3" width="5.3" height="5.7" rx="1.5"/><rect x="380.4" y="363.0" width="5.3" height="5.7" rx="1.5"/><rect x="315.8" y="387.5" width="5.3" height="5.7" rx="1.5"/><rect x="377.3" y="409.8" width="5.3" height="5.7" rx="1.5"/><rect x="306.4" y="353.6" width="5.3" height="5.7" rx="1.5"/><rect x="335.5" y="373.1" width="5.3" height="5.7" rx="1.5"/><rect x="312.6" y="362.7" width="5.3" height="5.7" rx="1.5"/><rect x="394.3" y="298.7" width="5.3" height="5.7" rx="1.5"/><rect x="299.2" y="353.5" width="5.3" height="5.7" rx="1.5"/><rect x="396.6" y="365.7" width="5.3" height="5.7" rx="1.5"/><rect x="330.9" y="396.5" width="5.3" height="5.7" rx="1.5"/><rect x="384.1" y="352.6" width="5.3" height="5.7" rx="1.5"/><rect x="372.2" y="387.5" width="5.3" height="5.7" rx="1.5"/><rect x="336.3" y="388.3" width="5.3" height="5.7" rx="1.5"/><rect x="377.7" y="355.6" width="5.3" height="5.7" rx="1.5"/><rect x="332.2" y="324.5" width="5.3" height="5.7" rx="1.5"/><rect x="377.5" y="361.8" width="5.3" height="5.7" rx="1.5"/><rect x="348.3" y="419.3" width="5.3" height="5.7" rx="1.5"/><rect x="324.7" y="393.5" width="5.3" height="5.7" rx="1.5"/><rect x="379.4" y="378.8" width="5.3" height="5.7" rx="1.5"/><rect x="315.1" y="323.9" width="5.3" height="5.7" rx="1.5"/><rect x="322.1" y="327.7" width="5.3" height="5.7" rx="1.5"/><rect x="303.8" y="298.5" width="5.3" height="5.7" rx="1.5"/><rect x="335.1" y="355.5" width="5.3" height="5.7" rx="1.5"/><rect x="317.3" y="338.6" width="5.3" height="5.7" rx="1.5"/><rect x="336.1" y="383.8" width="5.3" height="5.7" rx="1.5"/><rect x="368.2" y="394.6" width="5.3" height="5.7" rx="1.5"/><rect x="373.1" y="369.3" width="5.3" height="5.7" rx="1.5"/><rect x="321.4" y="379.8" width="5.3" height="5.7" rx="1.5"/><rect x="376.8" y="342.5" width="5.3" height="5.7" rx="1.5"/><rect x="318.1" y="346.4" width="5.3" height="5.7" rx="1.5"/><rect x="380.2" y="346.6" width="5.3" height="5.7" rx="1.5"/><rect x="366.2" y="393.2" width="5.3" height="5.7" rx="1.5"/><rect x="330.1" y="336.1" width="5.3" height="5.7" rx="1.5"/><rect x="326.3" y="318.1" width="5.3" height="5.7" rx="1.5"/><rect x="363.0" y="348.2" width="5.3" height="5.7" rx="1.5"/><rect x="333.5" y="335.5" width="5.3" height="5.7" rx="1.5"/><rect x="339.9" y="385.6" width="5.3" height="5.7" rx="1.5"/><rect x="393.8" y="384.6" width="5.3" height="5.7" rx="1.5"/><rect x="364.3" y="407.7" width="5.3" height="5.7" rx="1.5"/><rect x="401.7" y="382.4" width="5.3" height="5.7" rx="1.5"/><rect x="314.4" y="370.2" width="5.3" height="5.7" rx="1.5"/><rect x="303.6" y="402.6" width="5.3" height="5.7" rx="1.5"/><rect x="369.7" y="390.4" width="5.3" height="5.7" rx="1.5"/><rect x="370.4" y="379.0" width="5.3" height="5.7" rx="1.5"/><rect x="347.9" y="420.0" width="5.3" height="5.7" rx="1.5"/><rect x="304.6" y="344.9" width="5.3" height="5.7" rx="1.5"/><rect x="374.5" y="387.4" width="5.3" height="5.7" rx="1.5"/><rect x="387.8" y="324.2" width="5.3" height="5.7" rx="1.5"/><rect x="339.6" y="409.2" width="5.3" height="5.7" rx="1.5"/><rect x="367.2" y="363.5" width="5.3" height="5.7" rx="1.5"/><rect x="390.3" y="361.2" width="5.3" height="5.7" rx="1.5"/><rect x="378.0" y="389.6" width="5.3" height="5.7" rx="1.5"/><rect x="315.6" y="358.3" width="5.3" height="5.7" rx="1.5"/><rect x="403.1" y="346.4" width="5.3" height="5.7" rx="1.5"/><rect x="313.8" y="400.2" width="5.3" height="5.7" rx="1.5"/><rect x="371.4" y="360.3" width="5.3" height="5.7" rx="1.5"/><rect x="372.0" y="370.2" width="5.3" height="5.7" rx="1.5"/><rect x="364.7" y="402.2" width="5.3" height="5.7" rx="1.5"/><rect x="390.6" y="400.4" width="5.3" height="5.7" rx="1.5"/><rect x="371.3" y="402.4" width="5.3" height="5.7" rx="1.5"/><rect x="298.9" y="316.3" width="5.3" height="5.7" rx="1.5"/><rect x="296.5" y="359.7" width="5.3" height="5.7" rx="1.5"/><rect x="357.5" y="405.8" width="5.3" height="5.7" rx="1.5"/><rect x="399.4" y="350.3" width="5.3" height="5.7" rx="1.5"/><rect x="424.4" y="320.7" width="5.3" height="5.7" rx="1.5"/><rect x="306.1" y="355.4" width="5.3" height="5.7" rx="1.5"/><rect x="319.7" y="345.3" width="5.3" height="5.7" rx="1.5"/><rect x="357.4" y="394.4" width="5.3" height="5.7" rx="1.5"/><rect x="316.3" y="385.1" width="5.3" height="5.7" rx="1.5"/><rect x="337.8" y="376.7" width="5.3" height="5.7" rx="1.5"/><rect x="370.0" y="369.2" width="5.3" height="5.7" rx="1.5"/><rect x="294.0" y="336.2" width="5.3" height="5.7" rx="1.5"/><rect x="314.2" y="351.3" width="5.3" height="5.7" rx="1.5"/><rect x="380.8" y="383.2" width="5.3" height="5.7" rx="1.5"/><rect x="383.2" y="330.9" width="5.3" height="5.7" rx="1.5"/><rect x="365.1" y="387.5" width="5.3" height="5.7" rx="1.5"/><rect x="340.6" y="411.6" width="5.3" height="5.7" rx="1.5"/><rect x="308.8" y="354.9" width="5.3" height="5.7" rx="1.5"/><rect x="335.7" y="411.1" width="5.3" height="5.7" rx="1.5"/><rect x="363.7" y="344.3" width="5.3" height="5.7" rx="1.5"/><rect x="330.5" y="359.9" width="5.3" height="5.7" rx="1.5"/><rect x="314.4" y="385.0" width="5.3" height="5.7" rx="1.5"/><rect x="329.9" y="398.7" width="5.3" height="5.7" rx="1.5"/><rect x="325.8" y="349.0" width="5.3" height="5.7" rx="1.5"/><rect x="330.4" y="313.1" width="5.3" height="5.7" rx="1.5"/><rect x="319.9" y="381.0" width="5.3" height="5.7" rx="1.5"/><rect x="372.1" y="323.0" width="5.3" height="5.7" rx="1.5"/><rect x="378.0" y="326.3" width="5.3" height="5.7" rx="1.5"/><rect x="363.3" y="373.8" width="5.3" height="5.7" rx="1.5"/><rect x="357.4" y="382.1" width="5.3" height="5.7" rx="1.5"/><rect x="358.0" y="402.3" width="5.3" height="5.7" rx="1.5"/><rect x="326.3" y="411.3" width="5.3" height="5.7" rx="1.5"/><rect x="337.1" y="402.2" width="5.3" height="5.7" rx="1.5"/><rect x="365.3" y="361.6" width="5.3" height="5.7" rx="1.5"/><rect x="414.8" y="361.0" width="5.3" height="5.7" rx="1.5"/><rect x="322.5" y="347.6" width="5.3" height="5.7" rx="1.5"/><rect x="387.1" y="398.9" width="5.3" height="5.7" rx="1.5"/><rect x="350.1" y="418.1" width="5.3" height="5.7" rx="1.5"/><rect x="345.3" y="418.1" width="5.3" height="5.7" rx="1.5"/><rect x="312.9" y="323.2" width="5.3" height="5.7" rx="1.5"/><rect x="383.7" y="368.4" width="5.3" height="5.7" rx="1.5"/><rect x="398.2" y="355.8" width="5.3" height="5.7" rx="1.5"/><rect x="389.9" y="310.2" width="5.3" height="5.7" rx="1.5"/><rect x="375.0" y="356.6" width="5.3" height="5.7" rx="1.5"/><rect x="310.7" y="341.7" width="5.3" height="5.7" rx="1.5"/><rect x="340.0" y="371.3" width="5.3" height="5.7" rx="1.5"/><rect x="301.8" y="350.7" width="5.3" height="5.7" rx="1.5"/><rect x="394.6" y="321.7" width="5.3" height="5.7" rx="1.5"/><rect x="376.0" y="356.7" width="5.3" height="5.7" rx="1.5"/><rect x="376.2" y="361.4" width="5.3" height="5.7" rx="1.5"/><rect x="396.4" y="324.2" width="5.3" height="5.7" rx="1.5"/><rect x="349.4" y="417.7" width="5.3" height="5.7" rx="1.5"/><rect x="334.8" y="332.6" width="5.3" height="5.7" rx="1.5"/><rect x="311.7" y="379.2" width="5.3" height="5.7" rx="1.5"/><rect x="320.5" y="366.7" width="5.3" height="5.7" rx="1.5"/><rect x="296.8" y="331.1" width="5.3" height="5.7" rx="1.5"/><rect x="397.9" y="380.3" width="5.3" height="5.7" rx="1.5"/><rect x="342.7" y="383.1" width="5.3" height="5.7" rx="1.5"/><rect x="375.9" y="373.4" width="5.3" height="5.7" rx="1.5"/><rect x="377.7" y="383.7" width="5.3" height="5.7" rx="1.5"/><rect x="378.5" y="358.6" width="5.3" height="5.7" rx="1.5"/><rect x="330.4" y="320.0" width="5.3" height="5.7" rx="1.5"/><rect x="324.3" y="347.1" width="5.3" height="5.7" rx="1.5"/><rect x="328.4" y="373.7" width="5.3" height="5.7" rx="1.5"/><rect x="362.6" y="378.2" width="5.3" height="5.7" rx="1.5"/><rect x="372.1" y="336.7" width="5.3" height="5.7" rx="1.5"/><rect x="314.5" y="336.3" width="5.3" height="5.7" rx="1.5"/><rect x="327.2" y="347.4" width="5.3" height="5.7" rx="1.5"/><rect x="309.4" y="409.5" width="5.3" height="5.7" rx="1.5"/><rect x="308.6" y="374.5" width="5.3" height="5.7" rx="1.5"/><rect x="392.3" y="333.3" width="5.3" height="5.7" rx="1.5"/><rect x="358.9" y="382.8" width="5.3" height="5.7" rx="1.5"/><rect x="368.4" y="410.6" width="5.3" height="5.7" rx="1.5"/><rect x="364.2" y="383.8" width="5.3" height="5.7" rx="1.5"/><rect x="324.9" y="389.8" width="5.3" height="5.7" rx="1.5"/><rect x="364.8" y="353.8" width="5.3" height="5.7" rx="1.5"/><rect x="326.7" y="388.6" width="5.3" height="5.7" rx="1.5"/><rect x="326.2" y="374.0" width="5.3" height="5.7" rx="1.5"/><rect x="331.6" y="334.2" width="5.3" height="5.7" rx="1.5"/><rect x="374.0" y="389.6" width="5.3" height="5.7" rx="1.5"/><rect x="372.9" y="387.3" width="5.3" height="5.7" rx="1.5"/><rect x="332.6" y="368.9" width="5.3" height="5.7" rx="1.5"/><rect x="320.3" y="382.5" width="5.3" height="5.7" rx="1.5"/><rect x="309.8" y="378.8" width="5.3" height="5.7" rx="1.5"/><rect x="339.8" y="367.3" width="5.3" height="5.7" rx="1.5"/><rect x="357.8" y="385.8" width="5.3" height="5.7" rx="1.5"/><rect x="369.1" y="386.9" width="5.3" height="5.7" rx="1.5"/><rect x="326.9" y="357.4" width="5.3" height="5.7" rx="1.5"/><rect x="359.7" y="401.8" width="5.3" height="5.7" rx="1.5"/><rect x="300.2" y="399.9" width="5.3" height="5.7" rx="1.5"/><rect x="364.2" y="353.5" width="5.3" height="5.7" rx="1.5"/><rect x="309.0" y="347.1" width="5.3" height="5.7" rx="1.5"/><rect x="387.1" y="369.8" width="5.3" height="5.7" rx="1.5"/><rect x="327.3" y="357.7" width="5.3" height="5.7" rx="1.5"/><rect x="362.2" y="368.9" width="5.3" height="5.7" rx="1.5"/><rect x="340.6" y="371.1" width="5.3" height="5.7" rx="1.5"/><rect x="323.1" y="345.6" width="5.3" height="5.7" rx="1.5"/><rect x="367.8" y="393.7" width="5.3" height="5.7" rx="1.5"/><rect x="296.3" y="352.6" width="5.3" height="5.7" rx="1.5"/><rect x="403.0" y="350.2" width="5.3" height="5.7" rx="1.5"/><rect x="337.5" y="368.4" width="5.3" height="5.7" rx="1.5"/><rect x="381.3" y="380.4" width="5.3" height="5.7" rx="1.5"/><rect x="365.3" y="354.2" width="5.3" height="5.7" rx="1.5"/><rect x="311.6" y="333.3" width="5.3" height="5.7" rx="1.5"/><rect x="378.4" y="410.5" width="5.3" height="5.7" rx="1.5"/><rect x="364.0" y="367.8" width="5.3" height="5.7" rx="1.5"/><rect x="373.1" y="388.6" width="5.3" height="5.7" rx="1.5"/><rect x="293.4" y="354.0" width="5.3" height="5.7" rx="1.5"/><rect x="369.4" y="347.9" width="5.3" height="5.7" rx="1.5"/><rect x="381.4" y="364.5" width="5.3" height="5.7" rx="1.5"/><rect x="297.7" y="399.1" width="5.3" height="5.7" rx="1.5"/><rect x="390.1" y="378.3" width="5.3" height="5.7" rx="1.5"/><rect x="317.3" y="367.0" width="5.3" height="5.7" rx="1.5"/><rect x="320.0" y="376.7" width="5.3" height="5.7" rx="1.5"/><rect x="380.3" y="314.1" width="5.3" height="5.7" rx="1.5"/><rect x="325.0" y="378.4" width="5.3" height="5.7" rx="1.5"/><rect x="362.5" y="413.8" width="5.3" height="5.7" rx="1.5"/><rect x="305.3" y="364.4" width="5.3" height="5.7" rx="1.5"/><rect x="390.9" y="387.8" width="5.3" height="5.7" rx="1.5"/><rect x="373.9" y="329.6" width="5.3" height="5.7" rx="1.5"/><rect x="362.4" y="358.2" width="5.3" height="5.7" rx="1.5"/><rect x="363.0" y="405.9" width="5.3" height="5.7" rx="1.5"/><rect x="326.6" y="343.4" width="5.3" height="5.7" rx="1.5"/><rect x="398.3" y="359.4" width="5.3" height="5.7" rx="1.5"/><rect x="362.4" y="359.9" width="5.3" height="5.7" rx="1.5"/><rect x="319.3" y="357.5" width="5.3" height="5.7" rx="1.5"/><rect x="382.1" y="390.9" width="5.3" height="5.7" rx="1.5"/><rect x="383.2" y="393.6" width="5.3" height="5.7" rx="1.5"/><rect x="321.3" y="364.3" width="5.3" height="5.7" rx="1.5"/><rect x="389.2" y="348.1" width="5.3" height="5.7" rx="1.5"/><rect x="334.8" y="412.9" width="5.3" height="5.7" rx="1.5"/><rect x="293.4" y="347.0" width="5.3" height="5.7" rx="1.5"/><rect x="315.1" y="316.6" width="5.3" height="5.7" rx="1.5"/><rect x="344.9" y="411.4" width="5.3" height="5.7" rx="1.5"/><rect x="323.6" y="407.9" width="5.3" height="5.7" rx="1.5"/><rect x="358.9" y="388.8" width="5.3" height="5.7" rx="1.5"/><rect x="302.0" y="396.5" width="5.3" height="5.7" rx="1.5"/><rect x="355.7" y="410.3" width="5.3" height="5.7" rx="1.5"/><rect x="320.9" y="369.7" width="5.3" height="5.7" rx="1.5"/><rect x="330.2" y="368.8" width="5.3" height="5.7" rx="1.5"/><rect x="368.0" y="390.7" width="5.3" height="5.7" rx="1.5"/><rect x="358.4" y="414.6" width="5.3" height="5.7" rx="1.5"/><rect x="334.6" y="361.4" width="5.3" height="5.7" rx="1.5"/><rect x="386.1" y="312.1" width="5.3" height="5.7" rx="1.5"/><rect x="341.8" y="357.8" width="5.3" height="5.7" rx="1.5"/><rect x="382.6" y="401.5" width="5.3" height="5.7" rx="1.5"/><rect x="330.5" y="387.0" width="5.3" height="5.7" rx="1.5"/><rect x="339.1" y="344.8" width="5.3" height="5.7" rx="1.5"/><rect x="324.3" y="363.1" width="5.3" height="5.7" rx="1.5"/><rect x="339.1" y="325.7" width="5.3" height="5.7" rx="1.5"/><rect x="373.8" y="364.9" width="5.3" height="5.7" rx="1.5"/><rect x="319.5" y="324.3" width="5.3" height="5.7" rx="1.5"/><rect x="386.9" y="329.0" width="5.3" height="5.7" rx="1.5"/><rect x="364.4" y="361.9" width="5.3" height="5.7" rx="1.5"/><rect x="370.6" y="356.0" width="5.3" height="5.7" rx="1.5"/><rect x="321.8" y="353.1" width="5.3" height="5.7" rx="1.5"/><rect x="301.1" y="315.2" width="5.3" height="5.7" rx="1.5"/><rect x="383.7" y="361.7" width="5.3" height="5.7" rx="1.5"/><rect x="370.0" y="411.5" width="5.3" height="5.7" rx="1.5"/><rect x="366.2" y="397.1" width="5.3" height="5.7" rx="1.5"/><rect x="364.1" y="319.6" width="5.3" height="5.7" rx="1.5"/><rect x="323.3" y="325.5" width="5.3" height="5.7" rx="1.5"/><rect x="323.6" y="384.1" width="5.3" height="5.7" rx="1.5"/><rect x="337.4" y="340.8" width="5.3" height="5.7" rx="1.5"/><rect x="346.2" y="397.3" width="5.3" height="5.7" rx="1.5"/><rect x="369.8" y="370.4" width="5.3" height="5.7" rx="1.5"/><rect x="380.1" y="325.7" width="5.3" height="5.7" rx="1.5"/><rect x="320.8" y="377.3" width="5.3" height="5.7" rx="1.5"/><rect x="386.2" y="350.8" width="5.3" height="5.7" rx="1.5"/><rect x="358.1" y="385.8" width="5.3" height="5.7" rx="1.5"/><rect x="322.5" y="382.4" width="5.3" height="5.7" rx="1.5"/><rect x="318.9" y="385.9" width="5.3" height="5.7" rx="1.5"/><rect x="334.7" y="391.0" width="5.3" height="5.7" rx="1.5"/><rect x="327.4" y="312.2" width="5.3" height="5.7" rx="1.5"/><rect x="373.5" y="374.5" width="5.3" height="5.7" rx="1.5"/><rect x="362.6" y="385.0" width="5.3" height="5.7" rx="1.5"/><rect x="296.7" y="360.3" width="5.3" height="5.7" rx="1.5"/><rect x="320.4" y="396.7" width="5.3" height="5.7" rx="1.5"/><rect x="333.7" y="377.5" width="5.3" height="5.7" rx="1.5"/><rect x="320.8" y="386.7" width="5.3" height="5.7" rx="1.5"/><rect x="340.4" y="367.0" width="5.3" height="5.7" rx="1.5"/><rect x="370.7" y="397.3" width="5.3" height="5.7" rx="1.5"/><rect x="308.8" y="392.0" width="5.3" height="5.7" rx="1.5"/><rect x="383.2" y="347.9" width="5.3" height="5.7" rx="1.5"/><rect x="334.9" y="379.2" width="5.3" height="5.7" rx="1.5"/><rect x="312.3" y="298.2" width="5.3" height="5.7" rx="1.5"/><rect x="318.5" y="343.5" width="5.3" height="5.7" rx="1.5"/><rect x="333.0" y="351.7" width="5.3" height="5.7" rx="1.5"/><rect x="395.5" y="332.0" width="5.3" height="5.7" rx="1.5"/><rect x="302.6" y="315.2" width="5.3" height="5.7" rx="1.5"/><rect x="316.9" y="354.2" width="5.3" height="5.7" rx="1.5"/><rect x="301.7" y="367.4" width="5.3" height="5.7" rx="1.5"/><rect x="380.2" y="351.0" width="5.3" height="5.7" rx="1.5"/><rect x="298.2" y="378.9" width="5.3" height="5.7" rx="1.5"/><rect x="327.4" y="338.3" width="5.3" height="5.7" rx="1.5"/><rect x="334.7" y="384.1" width="5.3" height="5.7" rx="1.5"/><rect x="318.8" y="397.3" width="5.3" height="5.7" rx="1.5"/><rect x="304.9" y="355.7" width="5.3" height="5.7" rx="1.5"/><rect x="354.6" y="397.5" width="5.3" height="5.7" rx="1.5"/><rect x="371.8" y="342.9" width="5.3" height="5.7" rx="1.5"/><rect x="369.3" y="325.1" width="5.3" height="5.7" rx="1.5"/><rect x="381.3" y="362.8" width="5.3" height="5.7" rx="1.5"/><rect x="326.7" y="340.9" width="5.3" height="5.7" rx="1.5"/><rect x="327.3" y="384.0" width="5.3" height="5.7" rx="1.5"/><rect x="358.8" y="411.9" width="5.3" height="5.7" rx="1.5"/><rect x="340.5" y="366.3" width="5.3" height="5.7" rx="1.5"/><rect x="319.6" y="341.2" width="5.3" height="5.7" rx="1.5"/><rect x="395.3" y="368.8" width="5.3" height="5.7" rx="1.5"/><rect x="355.4" y="404.8" width="5.3" height="5.7" rx="1.5"/><rect x="362.7" y="379.1" width="5.3" height="5.7" rx="1.5"/><rect x="338.8" y="405.2" width="5.3" height="5.7" rx="1.5"/><rect x="409.1" y="336.4" width="5.3" height="5.7" rx="1.5"/><rect x="394.6" y="364.4" width="5.3" height="5.7" rx="1.5"/><rect x="372.5" y="335.4" width="5.3" height="5.7" rx="1.5"/><rect x="317.2" y="326.3" width="5.3" height="5.7" rx="1.5"/><rect x="312.2" y="377.4" width="5.3" height="5.7" rx="1.5"/><rect x="356.2" y="400.7" width="5.3" height="5.7" rx="1.5"/><rect x="357.2" y="370.4" width="5.3" height="5.7" rx="1.5"/><rect x="307.1" y="407.1" width="5.3" height="5.7" rx="1.5"/><rect x="340.7" y="399.8" width="5.3" height="5.7" rx="1.5"/><rect x="332.2" y="373.8" width="5.3" height="5.7" rx="1.5"/><rect x="436.2" y="329.2" width="5.3" height="5.7" rx="1.5"/><rect x="363.2" y="327.3" width="5.3" height="5.7" rx="1.5"/><rect x="330.1" y="355.8" width="5.3" height="5.7" rx="1.5"/><rect x="325.0" y="383.9" width="5.3" height="5.7" rx="1.5"/><rect x="383.2" y="361.4" width="5.3" height="5.7" rx="1.5"/><rect x="357.9" y="362.2" width="5.3" height="5.7" rx="1.5"/><rect x="337.5" y="414.6" width="5.3" height="5.7" rx="1.5"/><rect x="344.9" y="415.8" width="5.3" height="5.7" rx="1.5"/><rect x="324.8" y="378.9" width="5.3" height="5.7" rx="1.5"/><rect x="318.1" y="338.7" width="5.3" height="5.7" rx="1.5"/><rect x="379.1" y="378.3" width="5.3" height="5.7" rx="1.5"/><rect x="288.6" y="305.7" width="5.3" height="5.7" rx="1.5"/><rect x="374.3" y="349.0" width="5.3" height="5.7" rx="1.5"/><rect x="362.5" y="372.5" width="5.3" height="5.7" rx="1.5"/><rect x="384.9" y="330.0" width="5.3" height="5.7" rx="1.5"/><rect x="309.4" y="349.8" width="5.3" height="5.7" rx="1.5"/><rect x="374.3" y="410.0" width="5.3" height="5.7" rx="1.5"/><rect x="323.2" y="382.0" width="5.3" height="5.7" rx="1.5"/><rect x="310.6" y="379.6" width="5.3" height="5.7" rx="1.5"/><rect x="345.0" y="405.5" width="5.3" height="5.7" rx="1.5"/><rect x="328.3" y="329.4" width="5.3" height="5.7" rx="1.5"/><rect x="384.8" y="375.7" width="5.3" height="5.7" rx="1.5"/><rect x="334.4" y="414.5" width="5.3" height="5.7" rx="1.5"/><rect x="342.2" y="371.7" width="5.3" height="5.7" rx="1.5"/><rect x="366.4" y="307.6" width="5.3" height="5.7" rx="1.5"/><rect x="364.9" y="364.9" width="5.3" height="5.7" rx="1.5"/><rect x="330.2" y="407.9" width="5.3" height="5.7" rx="1.5"/><rect x="352.3" y="405.6" width="5.3" height="5.7" rx="1.5"/><rect x="364.2" y="399.8" width="5.3" height="5.7" rx="1.5"/><rect x="309.7" y="369.3" width="5.3" height="5.7" rx="1.5"/><rect x="382.5" y="336.6" width="5.3" height="5.7" rx="1.5"/><rect x="336.6" y="351.6" width="5.3" height="5.7" rx="1.5"/><rect x="371.5" y="395.9" width="5.3" height="5.7" rx="1.5"/><rect x="321.1" y="329.3" width="5.3" height="5.7" rx="1.5"/><rect x="298.5" y="403.9" width="5.3" height="5.7" rx="1.5"/><rect x="345.3" y="403.5" width="5.3" height="5.7" rx="1.5"/><rect x="336.1" y="319.7" width="5.3" height="5.7" rx="1.5"/><rect x="373.3" y="320.5" width="5.3" height="5.7" rx="1.5"/><rect x="343.5" y="378.8" width="5.3" height="5.7" rx="1.5"/><rect x="370.6" y="370.0" width="5.3" height="5.7" rx="1.5"/><rect x="361.7" y="352.4" width="5.3" height="5.7" rx="1.5"/><rect x="361.7" y="376.6" width="5.3" height="5.7" rx="1.5"/><rect x="381.1" y="328.0" width="5.3" height="5.7" rx="1.5"/><rect x="374.6" y="387.7" width="5.3" height="5.7" rx="1.5"/><rect x="337.9" y="375.2" width="5.3" height="5.7" rx="1.5"/><rect x="368.8" y="381.7" width="5.3" height="5.7" rx="1.5"/><rect x="305.5" y="322.5" width="5.3" height="5.7" rx="1.5"/><rect x="328.0" y="342.2" width="5.3" height="5.7" rx="1.5"/><rect x="309.8" y="389.5" width="5.3" height="5.7" rx="1.5"/><rect x="325.0" y="404.1" width="5.3" height="5.7" rx="1.5"/><rect x="385.6" y="382.8" width="5.3" height="5.7" rx="1.5"/><rect x="395.6" y="371.7" width="5.3" height="5.7" rx="1.5"/><rect x="339.1" y="331.1" width="5.3" height="5.7" rx="1.5"/><rect x="396.4" y="368.5" width="5.3" height="5.7" rx="1.5"/><rect x="338.1" y="335.7" width="5.3" height="5.7" rx="1.5"/><rect x="331.3" y="305.3" width="5.3" height="5.7" rx="1.5"/><rect x="358.4" y="396.5" width="5.3" height="5.7" rx="1.5"/><rect x="315.8" y="362.2" width="5.3" height="5.7" rx="1.5"/><rect x="385.2" y="390.4" width="5.3" height="5.7" rx="1.5"/><rect x="329.7" y="380.6" width="5.3" height="5.7" rx="1.5"/><rect x="315.3" y="364.7" width="5.3" height="5.7" rx="1.5"/><rect x="384.3" y="390.4" width="5.3" height="5.7" rx="1.5"/><rect x="345.9" y="415.4" width="5.3" height="5.7" rx="1.5"/><rect x="328.5" y="348.4" width="5.3" height="5.7" rx="1.5"/><rect x="312.2" y="362.7" width="5.3" height="5.7" rx="1.5"/><rect x="340.4" y="412.1" width="5.3" height="5.7" rx="1.5"/><rect x="303.6" y="340.9" width="5.3" height="5.7" rx="1.5"/><rect x="308.9" y="404.2" width="5.3" height="5.7" rx="1.5"/><rect x="305.2" y="357.9" width="5.3" height="5.7" rx="1.5"/><rect x="319.5" y="376.9" width="5.3" height="5.7" rx="1.5"/><rect x="331.9" y="390.9" width="5.3" height="5.7" rx="1.5"/><rect x="308.4" y="364.4" width="5.3" height="5.7" rx="1.5"/><rect x="326.6" y="340.0" width="5.3" height="5.7" rx="1.5"/><rect x="290.5" y="310.0" width="5.3" height="5.7" rx="1.5"/><rect x="362.3" y="413.7" width="5.3" height="5.7" rx="1.5"/><rect x="376.3" y="401.1" width="5.3" height="5.7" rx="1.5"/><rect x="328.6" y="410.7" width="5.3" height="5.7" rx="1.5"/><rect x="333.1" y="375.7" width="5.3" height="5.7" rx="1.5"/><rect x="376.5" y="393.6" width="5.3" height="5.7" rx="1.5"/><rect x="295.8" y="318.7" width="5.3" height="5.7" rx="1.5"/><rect x="396.0" y="331.4" width="5.3" height="5.7" rx="1.5"/><rect x="311.3" y="395.3" width="5.3" height="5.7" rx="1.5"/><rect x="363.9" y="344.1" width="5.3" height="5.7" rx="1.5"/><rect x="372.7" y="386.7" width="5.3" height="5.7" rx="1.5"/><rect x="292.8" y="339.1" width="5.3" height="5.7" rx="1.5"/><rect x="366.9" y="316.7" width="5.3" height="5.7" rx="1.5"/><rect x="363.8" y="405.8" width="5.3" height="5.7" rx="1.5"/><rect x="300.8" y="342.6" width="5.3" height="5.7" rx="1.5"/><rect x="336.1" y="341.7" width="5.3" height="5.7" rx="1.5"/><rect x="375.6" y="371.1" width="5.3" height="5.7" rx="1.5"/><rect x="332.8" y="405.3" width="5.3" height="5.7" rx="1.5"/><rect x="371.7" y="367.6" width="5.3" height="5.7" rx="1.5"/><rect x="364.6" y="354.0" width="5.3" height="5.7" rx="1.5"/><rect x="318.0" y="371.0" width="5.3" height="5.7" rx="1.5"/><rect x="324.4" y="354.1" width="5.3" height="5.7" rx="1.5"/><rect x="329.2" y="317.0" width="5.3" height="5.7" rx="1.5"/><rect x="358.2" y="400.1" width="5.3" height="5.7" rx="1.5"/><rect x="398.8" y="367.4" width="5.3" height="5.7" rx="1.5"/><rect x="342.2" y="399.3" width="5.3" height="5.7" rx="1.5"/><rect x="363.5" y="379.5" width="5.3" height="5.7" rx="1.5"/><rect x="297.9" y="323.9" width="5.3" height="5.7" rx="1.5"/><rect x="357.4" y="387.7" width="5.3" height="5.7" rx="1.5"/><rect x="334.4" y="338.5" width="5.3" height="5.7" rx="1.5"/><rect x="363.4" y="410.4" width="5.3" height="5.7" rx="1.5"/><rect x="298.1" y="355.1" width="5.3" height="5.7" rx="1.5"/><rect x="322.1" y="400.1" width="5.3" height="5.7" rx="1.5"/><rect x="307.1" y="370.4" width="5.3" height="5.7" rx="1.5"/><rect x="369.7" y="375.6" width="5.3" height="5.7" rx="1.5"/><rect x="377.6" y="400.5" width="5.3" height="5.7" rx="1.5"/><rect x="335.3" y="334.1" width="5.3" height="5.7" rx="1.5"/><rect x="365.4" y="413.3" width="5.3" height="5.7" rx="1.5"/><rect x="311.2" y="348.1" width="5.3" height="5.7" rx="1.5"/><rect x="382.5" y="384.5" width="5.3" height="5.7" rx="1.5"/><rect x="310.8" y="403.6" width="5.3" height="5.7" rx="1.5"/><rect x="381.4" y="371.7" width="5.3" height="5.7" rx="1.5"/><rect x="370.8" y="382.1" width="5.3" height="5.7" rx="1.5"/><rect x="359.6" y="401.1" width="5.3" height="5.7" rx="1.5"/><rect x="354.4" y="409.9" width="5.3" height="5.7" rx="1.5"/><rect x="335.2" y="344.1" width="5.3" height="5.7" rx="1.5"/><rect x="337.0" y="318.3" width="5.3" height="5.7" rx="1.5"/><rect x="359.1" y="371.8" width="5.3" height="5.7" rx="1.5"/><rect x="315.7" y="388.4" width="5.3" height="5.7" rx="1.5"/><rect x="310.0" y="364.2" width="5.3" height="5.7" rx="1.5"/><rect x="377.1" y="375.7" width="5.3" height="5.7" rx="1.5"/><rect x="397.6" y="383.9" width="5.3" height="5.7" rx="1.5"/><rect x="358.1" y="377.2" width="5.3" height="5.7" rx="1.5"/><rect x="325.2" y="380.4" width="5.3" height="5.7" rx="1.5"/><rect x="384.5" y="373.7" width="5.3" height="5.7" rx="1.5"/><rect x="307.1" y="346.0" width="5.3" height="5.7" rx="1.5"/><rect x="413.8" y="325.3" width="5.3" height="5.7" rx="1.5"/><rect x="381.3" y="357.8" width="5.3" height="5.7" rx="1.5"/><rect x="381.9" y="390.7" width="5.3" height="5.7" rx="1.5"/><rect x="382.7" y="377.6" width="5.3" height="5.7" rx="1.5"/><rect x="360.2" y="396.2" width="5.3" height="5.7" rx="1.5"/><rect x="323.9" y="413.7" width="5.3" height="5.7" rx="1.5"/><rect x="311.5" y="405.8" width="5.3" height="5.7" rx="1.5"/><rect x="325.5" y="395.9" width="5.3" height="5.7" rx="1.5"/><rect x="311.9" y="372.7" width="5.3" height="5.7" rx="1.5"/><rect x="401.6" y="377.1" width="5.3" height="5.7" rx="1.5"/><rect x="339.8" y="356.5" width="5.3" height="5.7" rx="1.5"/><rect x="324.2" y="378.8" width="5.3" height="5.7" rx="1.5"/><rect x="309.8" y="355.6" width="5.3" height="5.7" rx="1.5"/><rect x="373.1" y="363.2" width="5.3" height="5.7" rx="1.5"/><rect x="376.9" y="394.1" width="5.3" height="5.7" rx="1.5"/><rect x="389.3" y="365.4" width="5.3" height="5.7" rx="1.5"/><rect x="392.6" y="337.6" width="5.3" height="5.7" rx="1.5"/><rect x="302.7" y="394.7" width="5.3" height="5.7" rx="1.5"/><rect x="365.9" y="357.1" width="5.3" height="5.7" rx="1.5"/><rect x="300.8" y="404.7" width="5.3" height="5.7" rx="1.5"/><rect x="366.4" y="407.2" width="5.3" height="5.7" rx="1.5"/><rect x="394.5" y="347.6" width="5.3" height="5.7" rx="1.5"/><rect x="301.9" y="389.4" width="5.3" height="5.7" rx="1.5"/><rect x="359.7" y="392.9" width="5.3" height="5.7" rx="1.5"/><rect x="322.2" y="337.5" width="5.3" height="5.7" rx="1.5"/><rect x="359.9" y="387.0" width="5.3" height="5.7" rx="1.5"/><rect x="333.2" y="387.0" width="5.3" height="5.7" rx="1.5"/><rect x="326.9" y="338.1" width="5.3" height="5.7" rx="1.5"/><rect x="358.1" y="396.9" width="5.3" height="5.7" rx="1.5"/><rect x="330.3" y="371.9" width="5.3" height="5.7" rx="1.5"/><rect x="292.7" y="384.1" width="5.3" height="5.7" rx="1.5"/><rect x="379.3" y="340.6" width="5.3" height="5.7" rx="1.5"/><rect x="308.0" y="388.1" width="5.3" height="5.7" rx="1.5"/><rect x="372.6" y="381.5" width="5.3" height="5.7" rx="1.5"/><rect x="389.8" y="356.8" width="5.3" height="5.7" rx="1.5"/><rect x="370.4" y="393.0" width="5.3" height="5.7" rx="1.5"/><rect x="376.6" y="377.3" width="5.3" height="5.7" rx="1.5"/><rect x="342.9" y="398.5" width="5.3" height="5.7" rx="1.5"/><rect x="362.0" y="411.9" width="5.3" height="5.7" rx="1.5"/><rect x="332.3" y="378.8" width="5.3" height="5.7" rx="1.5"/><rect x="336.3" y="375.9" width="5.3" height="5.7" rx="1.5"/><rect x="347.6" y="403.2" width="5.3" height="5.7" rx="1.5"/><rect x="341.3" y="400.2" width="5.3" height="5.7" rx="1.5"/><rect x="316.9" y="402.9" width="5.3" height="5.7" rx="1.5"/><rect x="348.7" y="408.8" width="5.3" height="5.7" rx="1.5"/><rect x="313.7" y="403.9" width="5.3" height="5.7" rx="1.5"/><rect x="335.6" y="384.0" width="5.3" height="5.7" rx="1.5"/><rect x="332.8" y="355.1" width="5.3" height="5.7" rx="1.5"/><rect x="339.0" y="334.1" width="5.3" height="5.7" rx="1.5"/><rect x="381.2" y="373.9" width="5.3" height="5.7" rx="1.5"/><rect x="381.4" y="376.1" width="5.3" height="5.7" rx="1.5"/><rect x="328.9" y="368.9" width="5.3" height="5.7" rx="1.5"/><rect x="316.0" y="401.4" width="5.3" height="5.7" rx="1.5"/><rect x="357.6" y="378.6" width="5.3" height="5.7" rx="1.5"/><rect x="318.5" y="340.3" width="5.3" height="5.7" rx="1.5"/><rect x="340.6" y="411.7" width="5.3" height="5.7" rx="1.5"/><rect x="310.8" y="351.7" width="5.3" height="5.7" rx="1.5"/><rect x="312.3" y="376.9" width="5.3" height="5.7" rx="1.5"/><rect x="340.4" y="385.0" width="5.3" height="5.7" rx="1.5"/><rect x="384.2" y="375.4" width="5.3" height="5.7" rx="1.5"/><rect x="330.1" y="356.4" width="5.3" height="5.7" rx="1.5"/><rect x="350.0" y="414.7" width="5.3" height="5.7" rx="1.5"/><rect x="301.8" y="361.4" width="5.3" height="5.7" rx="1.5"/><rect x="302.9" y="304.3" width="5.3" height="5.7" rx="1.5"/><rect x="318.9" y="352.8" width="5.3" height="5.7" rx="1.5"/><rect x="382.4" y="372.2" width="5.3" height="5.7" rx="1.5"/><rect x="365.6" y="333.9" width="5.3" height="5.7" rx="1.5"/><rect x="365.1" y="301.9" width="5.3" height="5.7" rx="1.5"/><rect x="319.2" y="337.4" width="5.3" height="5.7" rx="1.5"/><rect x="372.9" y="382.4" width="5.3" height="5.7" rx="1.5"/><rect x="335.5" y="394.0" width="5.3" height="5.7" rx="1.5"/><rect x="412.3" y="324.6" width="5.3" height="5.7" rx="1.5"/><rect x="358.0" y="405.9" width="5.3" height="5.7" rx="1.5"/><rect x="368.5" y="367.1" width="5.3" height="5.7" rx="1.5"/><rect x="370.0" y="317.0" width="5.3" height="5.7" rx="1.5"/><rect x="306.6" y="382.3" width="5.3" height="5.7" rx="1.5"/><rect x="418.8" y="336.8" width="5.3" height="5.7" rx="1.5"/><rect x="289.2" y="345.4" width="5.3" height="5.7" rx="1.5"/><rect x="339.4" y="330.5" width="5.3" height="5.7" rx="1.5"/><rect x="368.4" y="380.6" width="5.3" height="5.7" rx="1.5"/><rect x="372.4" y="348.8" width="5.3" height="5.7" rx="1.5"/><rect x="312.9" y="370.0" width="5.3" height="5.7" rx="1.5"/><rect x="335.7" y="409.7" width="5.3" height="5.7" rx="1.5"/><rect x="335.1" y="360.2" width="5.3" height="5.7" rx="1.5"/><rect x="339.1" y="406.1" width="5.3" height="5.7" rx="1.5"/><rect x="308.0" y="386.9" width="5.3" height="5.7" rx="1.5"/><rect x="376.4" y="368.7" width="5.3" height="5.7" rx="1.5"/><rect x="367.8" y="380.1" width="5.3" height="5.7" rx="1.5"/><rect x="384.8" y="402.2" width="5.3" height="5.7" rx="1.5"/><rect x="378.0" y="369.4" width="5.3" height="5.7" rx="1.5"/><rect x="309.5" y="390.6" width="5.3" height="5.7" rx="1.5"/><rect x="331.4" y="349.0" width="5.3" height="5.7" rx="1.5"/><rect x="363.4" y="342.4" width="5.3" height="5.7" rx="1.5"/><rect x="382.8" y="392.8" width="5.3" height="5.7" rx="1.5"/><rect x="331.6" y="392.4" width="5.3" height="5.7" rx="1.5"/><rect x="396.5" y="306.0" width="5.3" height="5.7" rx="1.5"/><rect x="306.2" y="404.6" width="5.3" height="5.7" rx="1.5"/><rect x="364.2" y="328.8" width="5.3" height="5.7" rx="1.5"/><rect x="285.5" y="344.1" width="5.3" height="5.7" rx="1.5"/><rect x="285.8" y="351.6" width="5.3" height="5.7" rx="1.5"/><rect x="325.9" y="376.2" width="5.3" height="5.7" rx="1.5"/><rect x="401.7" y="376.1" width="5.3" height="5.7" rx="1.5"/><rect x="342.4" y="365.5" width="5.3" height="5.7" rx="1.5"/><rect x="334.9" y="321.8" width="5.3" height="5.7" rx="1.5"/><rect x="301.2" y="327.3" width="5.3" height="5.7" rx="1.5"/><rect x="326.8" y="378.5" width="5.3" height="5.7" rx="1.5"/><rect x="338.8" y="340.2" width="5.3" height="5.7" rx="1.5"/><rect x="309.2" y="300.3" width="5.3" height="5.7" rx="1.5"/><rect x="368.6" y="396.9" width="5.3" height="5.7" rx="1.5"/><rect x="316.3" y="311.6" width="5.3" height="5.7" rx="1.5"/><rect x="380.7" y="381.8" width="5.3" height="5.7" rx="1.5"/><rect x="322.1" y="378.2" width="5.3" height="5.7" rx="1.5"/><rect x="314.3" y="376.0" width="5.3" height="5.7" rx="1.5"/><rect x="393.8" y="303.5" width="5.3" height="5.7" rx="1.5"/><rect x="296.5" y="359.6" width="5.3" height="5.7" rx="1.5"/><rect x="377.5" y="364.6" width="5.3" height="5.7" rx="1.5"/><rect x="309.9" y="338.2" width="5.3" height="5.7" rx="1.5"/><rect x="386.7" y="335.5" width="5.3" height="5.7" rx="1.5"/><rect x="371.7" y="353.3" width="5.3" height="5.7" rx="1.5"/><rect x="342.7" y="388.3" width="5.3" height="5.7" rx="1.5"/><rect x="312.3" y="384.9" width="5.3" height="5.7" rx="1.5"/><rect x="369.2" y="414.5" width="5.3" height="5.7" rx="1.5"/><rect x="392.5" y="343.0" width="5.3" height="5.7" rx="1.5"/><rect x="313.1" y="319.3" width="5.3" height="5.7" rx="1.5"/><rect x="331.4" y="342.8" width="5.3" height="5.7" rx="1.5"/><rect x="326.3" y="337.7" width="5.3" height="5.7" rx="1.5"/><rect x="383.4" y="397.0" width="5.3" height="5.7" rx="1.5"/><rect x="320.9" y="326.7" width="5.3" height="5.7" rx="1.5"/><rect x="361.6" y="372.5" width="5.3" height="5.7" rx="1.5"/><rect x="378.1" y="349.8" width="5.3" height="5.7" rx="1.5"/><rect x="312.8" y="339.3" width="5.3" height="5.7" rx="1.5"/><rect x="361.2" y="399.2" width="5.3" height="5.7" rx="1.5"/><rect x="323.3" y="399.9" width="5.3" height="5.7" rx="1.5"/><rect x="340.0" y="336.7" width="5.3" height="5.7" rx="1.5"/><rect x="326.6" y="373.7" width="5.3" height="5.7" rx="1.5"/><rect x="343.1" y="396.9" width="5.3" height="5.7" rx="1.5"/><rect x="365.6" y="322.8" width="5.3" height="5.7" rx="1.5"/><rect x="378.4" y="343.6" width="5.3" height="5.7" rx="1.5"/><rect x="369.5" y="388.9" width="5.3" height="5.7" rx="1.5"/><rect x="372.9" y="351.6" width="5.3" height="5.7" rx="1.5"/><rect x="321.9" y="358.7" width="5.3" height="5.7" rx="1.5"/><rect x="329.8" y="377.4" width="5.3" height="5.7" rx="1.5"/><rect x="373.3" y="306.8" width="5.3" height="5.7" rx="1.5"/><rect x="391.7" y="391.7" width="5.3" height="5.7" rx="1.5"/><rect x="321.8" y="338.7" width="5.3" height="5.7" rx="1.5"/><rect x="375.6" y="359.8" width="5.3" height="5.7" rx="1.5"/><rect x="319.8" y="405.3" width="5.3" height="5.7" rx="1.5"/><rect x="316.9" y="318.0" width="5.3" height="5.7" rx="1.5"/><rect x="322.0" y="397.3" width="5.3" height="5.7" rx="1.5"/><rect x="314.5" y="380.3" width="5.3" height="5.7" rx="1.5"/><rect x="382.3" y="328.7" width="5.3" height="5.7" rx="1.5"/><rect x="294.3" y="349.4" width="5.3" height="5.7" rx="1.5"/><rect x="300.7" y="326.9" width="5.3" height="5.7" rx="1.5"/><rect x="353.0" y="414.5" width="5.3" height="5.7" rx="1.5"/><rect x="382.5" y="307.0" width="5.3" height="5.7" rx="1.5"/><rect x="350.7" y="416.6" width="5.3" height="5.7" rx="1.5"/><rect x="293.2" y="348.2" width="5.3" height="5.7" rx="1.5"/><rect x="315.7" y="377.3" width="5.3" height="5.7" rx="1.5"/><rect x="369.7" y="392.9" width="5.3" height="5.7" rx="1.5"/><rect x="341.0" y="349.9" width="5.3" height="5.7" rx="1.5"/><rect x="325.7" y="341.6" width="5.3" height="5.7" rx="1.5"/><rect x="311.0" y="373.6" width="5.3" height="5.7" rx="1.5"/><rect x="312.0" y="407.4" width="5.3" height="5.7" rx="1.5"/><rect x="334.7" y="372.1" width="5.3" height="5.7" rx="1.5"/><rect x="392.4" y="372.4" width="5.3" height="5.7" rx="1.5"/><rect x="310.9" y="350.0" width="5.3" height="5.7" rx="1.5"/><rect x="313.9" y="387.1" width="5.3" height="5.7" rx="1.5"/><rect x="314.5" y="341.5" width="5.3" height="5.7" rx="1.5"/><rect x="328.7" y="393.9" width="5.3" height="5.7" rx="1.5"/><rect x="318.8" y="348.7" width="5.3" height="5.7" rx="1.5"/><rect x="342.5" y="391.3" width="5.3" height="5.7" rx="1.5"/><rect x="334.2" y="363.9" width="5.3" height="5.7" rx="1.5"/><rect x="384.0" y="360.9" width="5.3" height="5.7" rx="1.5"/><rect x="362.1" y="359.6" width="5.3" height="5.7" rx="1.5"/><rect x="392.6" y="401.6" width="5.3" height="5.7" rx="1.5"/><rect x="297.5" y="332.0" width="5.3" height="5.7" rx="1.5"/><rect x="342.8" y="375.3" width="5.3" height="5.7" rx="1.5"/><rect x="390.4" y="344.3" width="5.3" height="5.7" rx="1.5"/><rect x="321.7" y="380.4" width="5.3" height="5.7" rx="1.5"/><rect x="406.5" y="356.8" width="5.3" height="5.7" rx="1.5"/><rect x="305.0" y="398.0" width="5.3" height="5.7" rx="1.5"/><rect x="387.9" y="306.1" width="5.3" height="5.7" rx="1.5"/><rect x="346.2" y="394.8" width="5.3" height="5.7" rx="1.5"/><rect x="429.7" y="366.1" width="5.3" height="5.7" rx="1.5"/><rect x="361.1" y="392.8" width="5.3" height="5.7" rx="1.5"/><rect x="378.4" y="325.1" width="5.3" height="5.7" rx="1.5"/><rect x="333.6" y="357.4" width="5.3" height="5.7" rx="1.5"/><rect x="336.8" y="337.7" width="5.3" height="5.7" rx="1.5"/><rect x="317.3" y="375.9" width="5.3" height="5.7" rx="1.5"/><rect x="356.6" y="405.9" width="5.3" height="5.7" rx="1.5"/><rect x="313.7" y="347.3" width="5.3" height="5.7" rx="1.5"/><rect x="365.6" y="404.8" width="5.3" height="5.7" rx="1.5"/><rect x="390.4" y="354.7" width="5.3" height="5.7" rx="1.5"/><rect x="354.5" y="416.6" width="5.3" height="5.7" rx="1.5"/><rect x="337.0" y="344.8" width="5.3" height="5.7" rx="1.5"/><rect x="339.9" y="391.5" width="5.3" height="5.7" rx="1.5"/><rect x="388.8" y="290.3" width="5.3" height="5.7" rx="1.5"/><rect x="365.1" y="404.4" width="5.3" height="5.7" rx="1.5"/><rect x="373.4" y="373.8" width="5.3" height="5.7" rx="1.5"/><rect x="363.3" y="366.4" width="5.3" height="5.7" rx="1.5"/><rect x="386.3" y="393.1" width="5.3" height="5.7" rx="1.5"/><rect x="354.8" y="408.2" width="5.3" height="5.7" rx="1.5"/><rect x="385.1" y="390.8" width="5.3" height="5.7" rx="1.5"/><rect x="365.0" y="330.5" width="5.3" height="5.7" rx="1.5"/><rect x="335.9" y="336.5" width="5.3" height="5.7" rx="1.5"/><rect x="391.4" y="355.9" width="5.3" height="5.7" rx="1.5"/><rect x="315.7" y="356.9" width="5.3" height="5.7" rx="1.5"/><rect x="392.0" y="374.5" width="5.3" height="5.7" rx="1.5"/><rect x="369.4" y="317.9" width="5.3" height="5.7" rx="1.5"/><rect x="361.9" y="332.3" width="5.3" height="5.7" rx="1.5"/><rect x="343.5" y="407.3" width="5.3" height="5.7" rx="1.5"/><rect x="341.0" y="351.2" width="5.3" height="5.7" rx="1.5"/><rect x="334.4" y="398.5" width="5.3" height="5.7" rx="1.5"/><rect x="334.8" y="334.7" width="5.3" height="5.7" rx="1.5"/><rect x="325.9" y="343.6" width="5.3" height="5.7" rx="1.5"/><rect x="392.8" y="318.7" width="5.3" height="5.7" rx="1.5"/><rect x="334.5" y="336.7" width="5.3" height="5.7" rx="1.5"/><rect x="307.4" y="357.6" width="5.3" height="5.7" rx="1.5"/><rect x="382.3" y="383.1" width="5.3" height="5.7" rx="1.5"/><rect x="384.4" y="346.5" width="5.3" height="5.7" rx="1.5"/><rect x="317.1" y="388.5" width="5.3" height="5.7" rx="1.5"/><rect x="333.5" y="399.4" width="5.3" height="5.7" rx="1.5"/><rect x="323.1" y="365.0" width="5.3" height="5.7" rx="1.5"/><rect x="373.4" y="377.4" width="5.3" height="5.7" rx="1.5"/><rect x="355.1" y="394.5" width="5.3" height="5.7" rx="1.5"/><rect x="368.0" y="389.6" width="5.3" height="5.7" rx="1.5"/><rect x="325.4" y="368.6" width="5.3" height="5.7" rx="1.5"/><rect x="332.8" y="389.0" width="5.3" height="5.7" rx="1.5"/><rect x="371.0" y="317.5" width="5.3" height="5.7" rx="1.5"/><rect x="304.4" y="352.9" width="5.3" height="5.7" rx="1.5"/><rect x="337.2" y="372.2" width="5.3" height="5.7" rx="1.5"/><rect x="387.1" y="379.0" width="5.3" height="5.7" rx="1.5"/><rect x="353.6" y="409.1" width="5.3" height="5.7" rx="1.5"/><rect x="336.7" y="412.4" width="5.3" height="5.7" rx="1.5"/><rect x="342.3" y="402.5" width="5.3" height="5.7" rx="1.5"/><rect x="326.0" y="410.2" width="5.3" height="5.7" rx="1.5"/><rect x="373.4" y="360.8" width="5.3" height="5.7" rx="1.5"/><rect x="372.3" y="411.7" width="5.3" height="5.7" rx="1.5"/><rect x="310.3" y="392.5" width="5.3" height="5.7" rx="1.5"/><rect x="379.7" y="384.0" width="5.3" height="5.7" rx="1.5"/><rect x="320.9" y="380.5" width="5.3" height="5.7" rx="1.5"/><rect x="373.4" y="294.8" width="5.3" height="5.7" rx="1.5"/><rect x="369.7" y="373.7" width="5.3" height="5.7" rx="1.5"/><rect x="317.9" y="358.7" width="5.3" height="5.7" rx="1.5"/><rect x="377.5" y="305.7" width="5.3" height="5.7" rx="1.5"/><rect x="377.4" y="397.3" width="5.3" height="5.7" rx="1.5"/><rect x="387.6" y="402.8" width="5.3" height="5.7" rx="1.5"/><rect x="383.6" y="374.1" width="5.3" height="5.7" rx="1.5"/><rect x="392.5" y="374.5" width="5.3" height="5.7" rx="1.5"/><rect x="306.0" y="370.9" width="5.3" height="5.7" rx="1.5"/><rect x="385.4" y="379.7" width="5.3" height="5.7" rx="1.5"/><rect x="312.8" y="363.7" width="5.3" height="5.7" rx="1.5"/><rect x="329.5" y="365.5" width="5.3" height="5.7" rx="1.5"/><rect x="306.1" y="400.8" width="5.3" height="5.7" rx="1.5"/><rect x="293.8" y="372.2" width="5.3" height="5.7" rx="1.5"/><rect x="303.0" y="334.4" width="5.3" height="5.7" rx="1.5"/><rect x="379.4" y="357.0" width="5.3" height="5.7" rx="1.5"/><rect x="332.5" y="317.9" width="5.3" height="5.7" rx="1.5"/><rect x="364.5" y="397.3" width="5.3" height="5.7" rx="1.5"/><rect x="434.6" y="346.0" width="5.3" height="5.7" rx="1.5"/><rect x="367.3" y="382.2" width="5.3" height="5.7" rx="1.5"/><rect x="291.1" y="385.9" width="5.3" height="5.7" rx="1.5"/><rect x="377.1" y="327.6" width="5.3" height="5.7" rx="1.5"/><rect x="325.1" y="387.0" width="5.3" height="5.7" rx="1.5"/><rect x="332.8" y="412.4" width="5.3" height="5.7" rx="1.5"/><rect x="383.4" y="358.8" width="5.3" height="5.7" rx="1.5"/><rect x="322.2" y="409.3" width="5.3" height="5.7" rx="1.5"/><rect x="357.9" y="414.9" width="5.3" height="5.7" rx="1.5"/><rect x="315.4" y="379.2" width="5.3" height="5.7" rx="1.5"/><rect x="380.6" y="393.5" width="5.3" height="5.7" rx="1.5"/><rect x="330.0" y="395.9" width="5.3" height="5.7" rx="1.5"/><rect x="386.9" y="348.5" width="5.3" height="5.7" rx="1.5"/></g><g fill="#00f" fill-opacity="0.45"><rect x="253.2" y="17.6" width="5.3" height="5.7" rx="1.5"/><rect x="279.2" y="97.9" width="5.3" height="5.7" rx="1.5"/><rect x="235.3" y="135.8" width="5.3" height="5.7" rx="1.5"/><rect x="264.6" y="138.6" width="5.3" height="5.7" rx="1.5"/><rect x="268.6" y="137.1" width="5.3" height="5.7" rx="1.5"/><rect x="292.8" y="154.0" width="5.3" height="5.7" rx="1.5"/><rect x="264.9" y="180.0" width="5.3" height="5.7" rx="1.5"/><rect x="274.1" y="188.2" width="5.3" height="5.7" rx="1.5"/><rect x="249.2" y="191.6" width="5.3" height="5.7" rx="1.5"/><rect x="260.9" y="205.5" width="5.3" height="5.7" rx="1.5"/><rect x="267.0" y="207.3" width="5.3" height="5.7" rx="1.5"/><rect x="242.8" y="212.8" width="5.3" height="5.7" rx="1.5"/><rect x="291.6" y="213.5" width="5.3" height="5.7" rx="1.5"/><rect x="296.0" y="217.6" width="5.3" height="5.7" rx="1.5"/><rect x="311.0" y="182.0" width="5.3" height="5.7" rx="1.5"/><rect x="306.1" y="214.7" width="5.3" height="5.7" rx="1.5"/><rect x="325.5" y="217.8" width="5.3" height="5.7" rx="1.5"/><rect x="308.1" y="226.0" width="5.3" height="5.7" rx="1.5"/><rect x="247.4" y="224.8" width="5.3" height="5.7" rx="1.5"/><rect x="269.8" y="228.6" width="5.3" height="5.7" rx="1.5"/><rect x="287.1" y="232.5" width="5.3" height="5.7" rx="1.5"/><rect x="241.8" y="236.8" width="5.3" height="5.7" rx="1.5"/><rect x="271.1" y="235.8" width="5.3" height="5.7" rx="1.5"/><rect x="272.8" y="242.6" width="5.3" height="5.7" rx="1.5"/><rect x="294.4" y="242.0" width="5.3" height="5.7" rx="1.5"/><rect x="257.2" y="251.0" width="5.3" height="5.7" rx="1.5"/><rect x="279.4" y="250.6" width="5.3" height="5.7" rx="1.5"/><rect x="292.8" y="251.6" width="5.3" height="5.7" rx="1.5"/><rect x="240.8" y="259.2" width="5.3" height="5.7" rx="1.5"/><rect x="260.6" y="264.3" width="5.3" height="5.7" rx="1.5"/><rect x="256.9" y="268.1" width="5.3" height="5.7" rx="1.5"/><rect x="282.6" y="261.8" width="5.3" height="5.7" rx="1.5"/><rect x="293.2" y="266.2" width="5.3" height="5.7" rx="1.5"/><rect x="307.4" y="230.3" width="5.3" height="5.7" rx="1.5"/><rect x="310.7" y="235.2" width="5.3" height="5.7" rx="1.5"/><rect x="298.9" y="244.8" width="5.3" height="5.7" rx="1.5"/><rect x="306.2" y="241.8" width="5.3" height="5.7" rx="1.5"/><rect x="308.9" y="242.7" width="5.3" height="5.7" rx="1.5"/><rect x="311.5" y="243.7" width="5.3" height="5.7" rx="1.5"/><rect x="300.2" y="255.2" width="5.3" height="5.7" rx="1.5"/><rect x="305.8" y="255.2" width="5.3" height="5.7" rx="1.5"/><rect x="307.9" y="254.8" width="5.3" height="5.7" rx="1.5"/><rect x="310.9" y="251.8" width="5.3" height="5.7" rx="1.5"/><rect x="312.5" y="254.8" width="5.3" height="5.7" rx="1.5"/><rect x="314.5" y="255.8" width="5.3" height="5.7" rx="1.5"/><rect x="308.4" y="260.8" width="5.3" height="5.7" rx="1.5"/><rect x="318.2" y="261.3" width="5.3" height="5.7" rx="1.5"/><rect x="324.2" y="261.3" width="5.3" height="5.7" rx="1.5"/><rect x="335.2" y="262.8" width="5.3" height="5.7" rx="1.5"/><rect x="303.8" y="267.5" width="5.3" height="5.7" rx="1.5"/><rect x="309.4" y="266.1" width="5.3" height="5.7" rx="1.5"/><rect x="311.0" y="265.1" width="5.3" height="5.7" rx="1.5"/><rect x="306.7" y="255.3" width="5.3" height="5.7" rx="1.5"/><rect x="312.0" y="265.9" width="5.3" height="5.7" rx="1.5"/><rect x="329.9" y="268.2" width="5.3" height="5.7" rx="1.5"/><rect x="139.8" y="217.8" width="5.3" height="5.7" rx="1.5"/><rect x="185.4" y="224.8" width="5.3" height="5.7" rx="1.5"/><rect x="120.3" y="276.2" width="5.3" height="5.7" rx="1.5"/><rect x="269.7" y="275.6" width="5.3" height="5.7" rx="1.5"/><rect x="275.6" y="277.3" width="5.3" height="5.7" rx="1.5"/><rect x="203.5" y="281.3" width="5.3" height="5.7" rx="1.5"/><rect x="211.8" y="286.5" width="5.3" height="5.7" rx="1.5"/><rect x="221.5" y="280.9" width="5.3" height="5.7" rx="1.5"/><rect x="226.2" y="286.3" width="5.3" height="5.7" rx="1.5"/><rect x="231.8" y="282.2" width="5.3" height="5.7" rx="1.5"/><rect x="250.8" y="281.8" width="5.3" height="5.7" rx="1.5"/><rect x="253.0" y="280.0" width="5.3" height="5.7" rx="1.5"/><rect x="300.2" y="273.0" width="5.3" height="5.7" rx="1.5"/><rect x="305.9" y="273.0" width="5.3" height="5.7" rx="1.5"/><rect x="313.0" y="272.5" width="5.3" height="5.7" rx="1.5"/><rect x="294.0" y="276.3" width="5.3" height="5.7" rx="1.5"/><rect x="299.2" y="276.3" width="5.3" height="5.7" rx="1.5"/><rect x="304.0" y="275.4" width="5.3" height="5.7" rx="1.5"/><rect x="308.7" y="276.8" width="5.3" height="5.7" rx="1.5"/><rect x="320.1" y="275.9" width="5.3" height="5.7" rx="1.5"/><rect x="288.8" y="279.0" width="5.3" height="5.7" rx="1.5"/><rect x="305.9" y="279.8" width="5.3" height="5.7" rx="1.5"/><rect x="311.6" y="279.2" width="5.3" height="5.7" rx="1.5"/><rect x="315.4" y="280.1" width="5.3" height="5.7" rx="1.5"/><rect x="318.2" y="281.1" width="5.3" height="5.7" rx="1.5"/><rect x="321.5" y="281.1" width="5.3" height="5.7" rx="1.5"/><rect x="329.6" y="280.6" width="5.3" height="5.7" rx="1.5"/><rect x="332.0" y="280.9" width="5.3" height="5.7" rx="1.5"/><rect x="286.4" y="285.3" width="5.3" height="5.7" rx="1.5"/><rect x="291.6" y="284.4" width="5.3" height="5.7" rx="1.5"/><rect x="297.8" y="283.9" width="5.3" height="5.7" rx="1.5"/><rect x="302.5" y="283.4" width="5.3" height="5.7" rx="1.5"/><rect x="307.8" y="283.0" width="5.3" height="5.7" rx="1.5"/><rect x="312.5" y="284.9" width="5.3" height="5.7" rx="1.5"/><rect x="314.4" y="284.4" width="5.3" height="5.7" rx="1.5"/><rect x="324.8" y="282.5" width="5.3" height="5.7" rx="1.5"/><rect x="329.1" y="282.5" width="5.3" height="5.7" rx="1.5"/><rect x="310.4" y="284.6" width="5.3" height="5.7" rx="1.5"/><rect x="312.9" y="285.3" width="5.3" height="5.7" rx="1.5"/><rect x="307.6" y="278.1" width="5.3" height="5.7" rx="1.5"/><rect x="315.8" y="282.3" width="5.3" height="5.7" rx="1.5"/><rect x="319.4" y="278.3" width="5.3" height="5.7" rx="1.5"/><rect x="321.4" y="284.1" width="5.3" height="5.7" rx="1.5"/><rect x="303.4" y="276.1" width="5.3" height="5.7" rx="1.5"/><rect x="281.7" y="288.2" width="5.3" height="5.7" rx="1.5"/><rect x="291.6" y="287.8" width="5.3" height="5.7" rx="1.5"/><rect x="295.9" y="288.8" width="5.3" height="5.7" rx="1.5"/><rect x="310.6" y="286.3" width="5.3" height="5.7" rx="1.5"/><rect x="319.1" y="286.8" width="5.3" height="5.7" rx="1.5"/><rect x="324.8" y="287.2" width="5.3" height="5.7" rx="1.5"/><rect x="323.9" y="289.6" width="5.3" height="5.7" rx="1.5"/></g><g fill="#f00" fill-opacity="0.45"><rect x="469.6" y="134.5" width="5.3" height="5.7" rx="1.5"/><rect x="403.9" y="151.2" width="5.3" height="5.7" rx="1.5"/><rect x="428.9" y="183.5" width="5.3" height="5.7" rx="1.5"/><rect x="517.8" y="194.2" width="5.3" height="5.7" rx="1.5"/><rect x="428.6" y="214.2" width="5.3" height="5.7" rx="1.5"/><rect x="418.5" y="219.5" width="5.3" height="5.7" rx="1.5"/><rect x="401.9" y="222.3" width="5.3" height="5.7" rx="1.5"/><rect x="387.5" y="227.2" width="5.3" height="5.7" rx="1.5"/><rect x="383.8" y="232.1" width="5.3" height="5.7" rx="1.5"/><rect x="428.4" y="230.6" width="5.3" height="5.7" rx="1.5"/><rect x="408.9" y="234.8" width="5.3" height="5.7" rx="1.5"/><rect x="423.7" y="235.8" width="5.3" height="5.7" rx="1.5"/><rect x="377.9" y="239.0" width="5.3" height="5.7" rx="1.5"/><rect x="396.2" y="238.2" width="5.3" height="5.7" rx="1.5"/><rect x="412.2" y="241.2" width="5.3" height="5.7" rx="1.5"/><rect x="418.1" y="242.6" width="5.3" height="5.7" rx="1.5"/><rect x="405.8" y="242.6" width="5.3" height="5.7" rx="1.5"/><rect x="399.2" y="244.2" width="5.3" height="5.7" rx="1.5"/><rect x="402.4" y="247.8" width="5.3" height="5.7" rx="1.5"/><rect x="375.0" y="251.8" width="5.3" height="5.7" rx="1.5"/><rect x="384.0" y="251.8" width="5.3" height="5.7" rx="1.5"/><rect x="387.7" y="250.2" width="5.3" height="5.7" rx="1.5"/><rect x="410.9" y="251.2" width="5.3" height="5.7" rx="1.5"/><rect x="407.4" y="253.7" width="5.3" height="5.7" rx="1.5"/><rect x="474.7" y="250.2" width="5.3" height="5.7" rx="1.5"/><rect x="513.0" y="271.8" width="5.3" height="5.7" rx="1.5"/><rect x="529.5" y="271.0" width="5.3" height="5.7" rx="1.5"/><rect x="378.2" y="258.5" width="5.3" height="5.7" rx="1.5"/><rect x="386.0" y="257.4" width="5.3" height="5.7" rx="1.5"/><rect x="383.7" y="261.8" width="5.3" height="5.7" rx="1.5"/><rect x="368.5" y="264.0" width="5.3" height="5.7" rx="1.5"/><rect x="398.9" y="262.3" width="5.3" height="5.7" rx="1.5"/><rect x="401.8" y="265.2" width="5.3" height="5.7" rx="1.5"/><rect x="404.1" y="266.4" width="5.3" height="5.7" rx="1.5"/><rect x="408.8" y="268.8" width="5.3" height="5.7" rx="1.5"/><rect x="435.1" y="267.5" width="5.3" height="5.7" rx="1.5"/><rect x="392.9" y="281.1" width="5.3" height="5.7" rx="1.5"/><rect x="392.0" y="283.5" width="5.3" height="5.7" rx="1.5"/><rect x="375.4" y="287.8" width="5.3" height="5.7" rx="1.5"/><rect x="377.6" y="288.3" width="5.3" height="5.7" rx="1.5"/><rect x="373.8" y="269.3" width="5.3" height="5.7" rx="1.5"/><rect x="386.6" y="268.8" width="5.3" height="5.7" rx="1.5"/><rect x="391.2" y="269.5" width="5.3" height="5.7" rx="1.5"/><rect x="396.5" y="271.6" width="5.3" height="5.7" rx="1.5"/><rect x="400.6" y="272.2" width="5.3" height="5.7" rx="1.5"/><rect x="407.6" y="273.4" width="5.3" height="5.7" rx="1.5"/><rect x="375.5" y="274.0" width="5.3" height="5.7" rx="1.5"/><rect x="379.6" y="276.1" width="5.3" height="5.7" rx="1.5"/><rect x="373.8" y="276.9" width="5.3" height="5.7" rx="1.5"/><rect x="408.8" y="276.9" width="5.3" height="5.7" rx="1.5"/><rect x="372.6" y="280.8" width="5.3" height="5.7" rx="1.5"/><rect x="392.4" y="281.6" width="5.3" height="5.7" rx="1.5"/><rect x="391.2" y="282.8" width="5.3" height="5.7" rx="1.5"/><rect x="403.5" y="283.5" width="5.3" height="5.7" rx="1.5"/><rect x="407.9" y="282.8" width="5.3" height="5.7" rx="1.5"/><rect x="380.5" y="285.1" width="5.3" height="5.7" rx="1.5"/><rect x="374.2" y="287.4" width="5.3" height="5.7" rx="1.5"/><rect x="376.7" y="288.0" width="5.3" height="5.7" rx="1.5"/><rect x="389.5" y="287.4" width="5.3" height="5.7" rx="1.5"/><rect x="395.4" y="287.4" width="5.3" height="5.7" rx="1.5"/><rect x="414.6" y="285.1" width="5.3" height="5.7" rx="1.5"/><rect x="426.2" y="286.8" width="5.3" height="5.7" rx="1.5"/><rect x="436.8" y="286.8" width="5.3" height="5.7" rx="1.5"/><rect x="441.5" y="283.2" width="5.3" height="5.7" rx="1.5"/><rect x="426.9" y="287.6" width="5.3" height="5.7" rx="1.5"/><rect x="442.0" y="283.8" width="5.3" height="5.7" rx="1.5"/></g>
</g>
<g opacity="0.995"><rect x="57.0" y="0.9" width="525.0" height="440.1" fill="none" stroke="#333333" stroke-width="2.1"/>
<line x1="52.0" y1="421.00" x2="57.0" y2="421.00" stroke="#333333" stroke-width="1.5"/>
<line x1="52.0" y1="320.88" x2="57.0" y2="320.88" stroke="#333333" stroke-width="1.5"/>
<line x1="52.0" y1="220.75" x2="57.0" y2="220.75" stroke="#333333" stroke-width="1.5"/>
<line x1="52.0" y1="120.62" x2="57.0" y2="120.62" stroke="#333333" stroke-width="1.5"/>
<line x1="52.0" y1="20.50" x2="57.0" y2="20.50" stroke="#333333" stroke-width="1.5"/>
<line x1="113.90" y1="441.0" x2="113.90" y2="445.5" stroke="#333333" stroke-width="1.5"/>
<line x1="233.10" y1="441.0" x2="233.10" y2="445.5" stroke="#333333" stroke-width="1.5"/>
<line x1="352.30" y1="441.0" x2="352.30" y2="445.5" stroke="#333333" stroke-width="1.5"/>
<line x1="471.50" y1="441.0" x2="471.50" y2="445.5" stroke="#333333" stroke-width="1.5"/>
<text x="48.4" y="426.35" text-anchor="end" font-size="15.4" fill="#4d4d4d">0.0</text>
<text x="48.4" y="326.23" text-anchor="end" font-size="15.4" fill="#4d4d4d">2.5</text>
<text x="48.4" y="226.10" text-anchor="end" font-size="15.4" fill="#4d4d4d">5.0</text>
<text x="48.4" y="125.97" text-anchor="end" font-size="15.4" fill="#4d4d4d">7.5</text>
<text x="26.99" y="25.85" font-size="15.4" fill="#4d4d4d">0.0</text>
<path d="M515 0V1237L197 1010V1180L530 1409H696V0Z" transform="translate(18.43,25.85) scale(0.00752,-0.00752)" fill="#4d4d4d"/>
<text x="104.26" y="461.6" font-size="15.4" fill="#4d4d4d">0.50</text>
<rect x="96.02" y="457.15" width="7.48" height="1.1" fill="#4d4d4d"/>
<text x="223.46" y="461.6" font-size="15.4" fill="#4d4d4d">0.25</text>
<rect x="215.22" y="457.15" width="7.48" height="1.1" fill="#4d4d4d"/>
<text x="353.15" y="461.6" text-anchor="middle" font-size="15.4" fill="#4d4d4d">0.00</text>
<text x="472.35" y="461.6" text-anchor="middle" font-size="15.4" fill="#4d4d4d">0.25</text>
<text x="319.3" y="483.9" text-anchor="middle" font-size="17.9" fill="#000">log2 FC</text>
<g transform="translate(12.7,220.6) rotate(-90)"><text x="-48.00" y="0" font-size="17.9" fill="#000">−log</text><text x="-3.71" y="0" font-size="17.9" fill="#000">0 FDR</text><path d="M515 0V1237L197 1010V1180L530 1409H696V0Z" transform="translate(-13.67,0.00) scale(0.00874,-0.00874)" fill="#000"/></g>
<text x="608.55" y="191.6" font-size="17.9" fill="#000">change</text>
<rect x="617.70" y="211.30" width="5.4" height="5.4" rx="1.5" fill="#0000ff" fill-opacity="0.45"/>
<text x="637.8" y="218.60" font-size="14.9" fill="#000" letter-spacing="0.4">DOWN</text>
<rect x="617.70" y="231.90" width="5.4" height="5.4" rx="1.5" fill="#000000" fill-opacity="0.45"/>
<text x="637.8" y="238.95" font-size="14.9" fill="#000">NOT</text>
<rect x="617.70" y="252.50" width="5.4" height="5.4" rx="1.5" fill="#ff0000" fill-opacity="0.45"/>
<text x="637.8" y="259.30" font-size="14.9" fill="#000">UP</text></g>
</svg>
</body></html>
